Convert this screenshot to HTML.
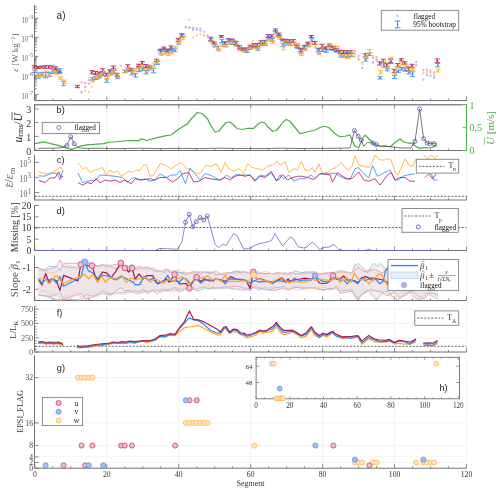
<!DOCTYPE html>
<html><head><meta charset="utf-8"><style>
html,body{margin:0;padding:0;background:#fff;}
svg{display:block;will-change:transform;}
</style></head><body>
<svg width="500" height="493" viewBox="0 0 500 493">
<rect width="500" height="493" fill="#fff"/>
<line x1="34.50" y1="5.10" x2="34.50" y2="100.50" stroke="#707070" stroke-width="1" />
<line x1="34.50" y1="100.50" x2="466.50" y2="100.50" stroke="#707070" stroke-width="1" />
<line x1="34.80" y1="100.50" x2="34.80" y2="96.50" stroke="#707070" stroke-width="0.8" />
<line x1="52.79" y1="100.50" x2="52.79" y2="98.50" stroke="#707070" stroke-width="0.8" />
<line x1="70.78" y1="100.50" x2="70.78" y2="98.50" stroke="#707070" stroke-width="0.8" />
<line x1="88.76" y1="100.50" x2="88.76" y2="98.50" stroke="#707070" stroke-width="0.8" />
<line x1="106.75" y1="100.50" x2="106.75" y2="96.50" stroke="#707070" stroke-width="0.8" />
<line x1="124.74" y1="100.50" x2="124.74" y2="98.50" stroke="#707070" stroke-width="0.8" />
<line x1="142.73" y1="100.50" x2="142.73" y2="98.50" stroke="#707070" stroke-width="0.8" />
<line x1="160.71" y1="100.50" x2="160.71" y2="98.50" stroke="#707070" stroke-width="0.8" />
<line x1="178.70" y1="100.50" x2="178.70" y2="96.50" stroke="#707070" stroke-width="0.8" />
<line x1="196.69" y1="100.50" x2="196.69" y2="98.50" stroke="#707070" stroke-width="0.8" />
<line x1="214.68" y1="100.50" x2="214.68" y2="98.50" stroke="#707070" stroke-width="0.8" />
<line x1="232.66" y1="100.50" x2="232.66" y2="98.50" stroke="#707070" stroke-width="0.8" />
<line x1="250.65" y1="100.50" x2="250.65" y2="96.50" stroke="#707070" stroke-width="0.8" />
<line x1="268.64" y1="100.50" x2="268.64" y2="98.50" stroke="#707070" stroke-width="0.8" />
<line x1="286.62" y1="100.50" x2="286.62" y2="98.50" stroke="#707070" stroke-width="0.8" />
<line x1="304.61" y1="100.50" x2="304.61" y2="98.50" stroke="#707070" stroke-width="0.8" />
<line x1="322.60" y1="100.50" x2="322.60" y2="96.50" stroke="#707070" stroke-width="0.8" />
<line x1="340.59" y1="100.50" x2="340.59" y2="98.50" stroke="#707070" stroke-width="0.8" />
<line x1="358.58" y1="100.50" x2="358.58" y2="98.50" stroke="#707070" stroke-width="0.8" />
<line x1="376.56" y1="100.50" x2="376.56" y2="98.50" stroke="#707070" stroke-width="0.8" />
<line x1="394.55" y1="100.50" x2="394.55" y2="96.50" stroke="#707070" stroke-width="0.8" />
<line x1="412.54" y1="100.50" x2="412.54" y2="98.50" stroke="#707070" stroke-width="0.8" />
<line x1="430.53" y1="100.50" x2="430.53" y2="98.50" stroke="#707070" stroke-width="0.8" />
<line x1="448.51" y1="100.50" x2="448.51" y2="98.50" stroke="#707070" stroke-width="0.8" />
<line x1="466.50" y1="100.50" x2="466.50" y2="96.50" stroke="#707070" stroke-width="0.8" />
<line x1="34.50" y1="100.23" x2="36.80" y2="100.23" stroke="#707070" stroke-width="0.8" />
<line x1="34.50" y1="98.73" x2="36.80" y2="98.73" stroke="#707070" stroke-width="0.8" />
<line x1="34.50" y1="97.45" x2="36.80" y2="97.45" stroke="#707070" stroke-width="0.8" />
<line x1="34.50" y1="96.35" x2="36.80" y2="96.35" stroke="#707070" stroke-width="0.8" />
<line x1="34.50" y1="95.37" x2="36.80" y2="95.37" stroke="#707070" stroke-width="0.8" />
<line x1="34.50" y1="94.50" x2="38.70" y2="94.50" stroke="#707070" stroke-width="0.8" />
<line x1="34.50" y1="88.77" x2="36.80" y2="88.77" stroke="#707070" stroke-width="0.8" />
<line x1="34.50" y1="85.41" x2="36.80" y2="85.41" stroke="#707070" stroke-width="0.8" />
<line x1="34.50" y1="83.03" x2="36.80" y2="83.03" stroke="#707070" stroke-width="0.8" />
<line x1="34.50" y1="81.18" x2="36.80" y2="81.18" stroke="#707070" stroke-width="0.8" />
<line x1="34.50" y1="79.68" x2="36.80" y2="79.68" stroke="#707070" stroke-width="0.8" />
<line x1="34.50" y1="78.40" x2="36.80" y2="78.40" stroke="#707070" stroke-width="0.8" />
<line x1="34.50" y1="77.30" x2="36.80" y2="77.30" stroke="#707070" stroke-width="0.8" />
<line x1="34.50" y1="76.32" x2="36.80" y2="76.32" stroke="#707070" stroke-width="0.8" />
<line x1="34.50" y1="75.45" x2="38.70" y2="75.45" stroke="#707070" stroke-width="0.8" />
<line x1="34.50" y1="69.72" x2="36.80" y2="69.72" stroke="#707070" stroke-width="0.8" />
<line x1="34.50" y1="66.36" x2="36.80" y2="66.36" stroke="#707070" stroke-width="0.8" />
<line x1="34.50" y1="63.98" x2="36.80" y2="63.98" stroke="#707070" stroke-width="0.8" />
<line x1="34.50" y1="62.13" x2="36.80" y2="62.13" stroke="#707070" stroke-width="0.8" />
<line x1="34.50" y1="60.63" x2="36.80" y2="60.63" stroke="#707070" stroke-width="0.8" />
<line x1="34.50" y1="59.35" x2="36.80" y2="59.35" stroke="#707070" stroke-width="0.8" />
<line x1="34.50" y1="58.25" x2="36.80" y2="58.25" stroke="#707070" stroke-width="0.8" />
<line x1="34.50" y1="57.27" x2="36.80" y2="57.27" stroke="#707070" stroke-width="0.8" />
<line x1="34.50" y1="56.40" x2="38.70" y2="56.40" stroke="#707070" stroke-width="0.8" />
<line x1="34.50" y1="50.67" x2="36.80" y2="50.67" stroke="#707070" stroke-width="0.8" />
<line x1="34.50" y1="47.31" x2="36.80" y2="47.31" stroke="#707070" stroke-width="0.8" />
<line x1="34.50" y1="44.93" x2="36.80" y2="44.93" stroke="#707070" stroke-width="0.8" />
<line x1="34.50" y1="43.08" x2="36.80" y2="43.08" stroke="#707070" stroke-width="0.8" />
<line x1="34.50" y1="41.58" x2="36.80" y2="41.58" stroke="#707070" stroke-width="0.8" />
<line x1="34.50" y1="40.30" x2="36.80" y2="40.30" stroke="#707070" stroke-width="0.8" />
<line x1="34.50" y1="39.20" x2="36.80" y2="39.20" stroke="#707070" stroke-width="0.8" />
<line x1="34.50" y1="38.22" x2="36.80" y2="38.22" stroke="#707070" stroke-width="0.8" />
<line x1="34.50" y1="37.35" x2="38.70" y2="37.35" stroke="#707070" stroke-width="0.8" />
<line x1="34.50" y1="31.62" x2="36.80" y2="31.62" stroke="#707070" stroke-width="0.8" />
<line x1="34.50" y1="28.26" x2="36.80" y2="28.26" stroke="#707070" stroke-width="0.8" />
<line x1="34.50" y1="25.88" x2="36.80" y2="25.88" stroke="#707070" stroke-width="0.8" />
<line x1="34.50" y1="24.03" x2="36.80" y2="24.03" stroke="#707070" stroke-width="0.8" />
<line x1="34.50" y1="22.53" x2="36.80" y2="22.53" stroke="#707070" stroke-width="0.8" />
<line x1="34.50" y1="21.25" x2="36.80" y2="21.25" stroke="#707070" stroke-width="0.8" />
<line x1="34.50" y1="20.15" x2="36.80" y2="20.15" stroke="#707070" stroke-width="0.8" />
<line x1="34.50" y1="19.17" x2="36.80" y2="19.17" stroke="#707070" stroke-width="0.8" />
<line x1="34.50" y1="18.30" x2="38.70" y2="18.30" stroke="#707070" stroke-width="0.8" />
<line x1="34.50" y1="12.57" x2="36.80" y2="12.57" stroke="#707070" stroke-width="0.8" />
<line x1="34.50" y1="9.21" x2="36.80" y2="9.21" stroke="#707070" stroke-width="0.8" />
<line x1="34.50" y1="6.83" x2="36.80" y2="6.83" stroke="#707070" stroke-width="0.8" />
<text x="28.10" y="22.50" font-family="Liberation Serif" font-size="8.8" text-anchor="end" fill="#666" textLength="6.6" lengthAdjust="spacingAndGlyphs">10</text>
<text x="28.40" y="18.70" font-family="Liberation Serif" font-size="5.8" text-anchor="start" fill="#666" >-3</text>
<text x="28.10" y="41.55" font-family="Liberation Serif" font-size="8.8" text-anchor="end" fill="#666" textLength="6.6" lengthAdjust="spacingAndGlyphs">10</text>
<text x="28.40" y="37.75" font-family="Liberation Serif" font-size="5.8" text-anchor="start" fill="#666" >-4</text>
<text x="28.10" y="60.60" font-family="Liberation Serif" font-size="8.8" text-anchor="end" fill="#666" textLength="6.6" lengthAdjust="spacingAndGlyphs">10</text>
<text x="28.40" y="56.80" font-family="Liberation Serif" font-size="5.8" text-anchor="start" fill="#666" >-5</text>
<text x="28.10" y="79.65" font-family="Liberation Serif" font-size="8.8" text-anchor="end" fill="#666" textLength="6.6" lengthAdjust="spacingAndGlyphs">10</text>
<text x="28.40" y="75.85" font-family="Liberation Serif" font-size="5.8" text-anchor="start" fill="#666" >-6</text>
<text x="28.10" y="98.70" font-family="Liberation Serif" font-size="8.8" text-anchor="end" fill="#666" textLength="6.6" lengthAdjust="spacingAndGlyphs">10</text>
<text x="28.40" y="94.90" font-family="Liberation Serif" font-size="5.8" text-anchor="start" fill="#666" >-7</text>
<g stroke="#A8195A" stroke-width="0.8"><line x1="34.30" y1="65.61" x2="34.30" y2="67.99"/><line x1="31.70" y1="65.61" x2="36.90" y2="65.61"/><line x1="31.70" y1="67.99" x2="36.90" y2="67.99"/></g>
<circle cx="34.30" cy="66.80" r="0.85" fill="#A8195A"/>
<g stroke="#3388EE" stroke-width="0.8"><line x1="34.80" y1="69.99" x2="34.80" y2="72.41"/><line x1="32.20" y1="69.99" x2="37.40" y2="69.99"/><line x1="32.20" y1="72.41" x2="37.40" y2="72.41"/></g>
<circle cx="34.80" cy="71.20" r="0.85" fill="#3388EE"/>
<g stroke="#FFAA22" stroke-width="0.8"><line x1="35.30" y1="68.31" x2="35.30" y2="71.29"/><line x1="32.70" y1="68.31" x2="37.90" y2="68.31"/><line x1="32.70" y1="71.29" x2="37.90" y2="71.29"/></g>
<circle cx="35.30" cy="69.80" r="0.85" fill="#FFAA22"/>
<g stroke="#A8195A" stroke-width="0.8"><line x1="37.90" y1="66.53" x2="37.90" y2="68.47"/><line x1="35.30" y1="66.53" x2="40.50" y2="66.53"/><line x1="35.30" y1="68.47" x2="40.50" y2="68.47"/></g>
<circle cx="37.90" cy="67.50" r="0.85" fill="#A8195A"/>
<g stroke="#3388EE" stroke-width="0.8"><line x1="38.40" y1="73.00" x2="38.40" y2="78.20"/><line x1="35.80" y1="73.00" x2="41.00" y2="73.00"/><line x1="35.80" y1="78.20" x2="41.00" y2="78.20"/></g>
<circle cx="38.40" cy="75.60" r="0.85" fill="#3388EE"/>
<g stroke="#FFAA22" stroke-width="0.8"><line x1="38.90" y1="74.97" x2="38.90" y2="77.43"/><line x1="36.30" y1="74.97" x2="41.50" y2="74.97"/><line x1="36.30" y1="77.43" x2="41.50" y2="77.43"/></g>
<circle cx="38.90" cy="76.20" r="0.85" fill="#FFAA22"/>
<g stroke="#A8195A" stroke-width="0.8"><line x1="41.49" y1="66.05" x2="41.49" y2="67.95"/><line x1="38.89" y1="66.05" x2="44.09" y2="66.05"/><line x1="38.89" y1="67.95" x2="44.09" y2="67.95"/></g>
<circle cx="41.49" cy="67.00" r="0.85" fill="#A8195A"/>
<g stroke="#3388EE" stroke-width="0.8"><line x1="41.99" y1="72.29" x2="41.99" y2="75.71"/><line x1="39.39" y1="72.29" x2="44.59" y2="72.29"/><line x1="39.39" y1="75.71" x2="44.59" y2="75.71"/></g>
<circle cx="41.99" cy="74.00" r="0.85" fill="#3388EE"/>
<g stroke="#FFAA22" stroke-width="0.8"><line x1="42.49" y1="75.07" x2="42.49" y2="76.93"/><line x1="39.89" y1="75.07" x2="45.09" y2="75.07"/><line x1="39.89" y1="76.93" x2="45.09" y2="76.93"/></g>
<circle cx="42.49" cy="76.00" r="0.85" fill="#FFAA22"/>
<g stroke="#A8195A" stroke-width="0.8"><line x1="45.09" y1="65.71" x2="45.09" y2="68.29"/><line x1="42.49" y1="65.71" x2="47.69" y2="65.71"/><line x1="42.49" y1="68.29" x2="47.69" y2="68.29"/></g>
<circle cx="45.09" cy="67.00" r="0.85" fill="#A8195A"/>
<g stroke="#3388EE" stroke-width="0.8"><line x1="45.59" y1="72.60" x2="45.59" y2="77.80"/><line x1="42.99" y1="72.60" x2="48.19" y2="72.60"/><line x1="42.99" y1="77.80" x2="48.19" y2="77.80"/></g>
<circle cx="45.59" cy="75.20" r="0.85" fill="#3388EE"/>
<g stroke="#FFAA22" stroke-width="0.8"><line x1="46.09" y1="71.02" x2="46.09" y2="72.98"/><line x1="43.49" y1="71.02" x2="48.69" y2="71.02"/><line x1="43.49" y1="72.98" x2="48.69" y2="72.98"/></g>
<circle cx="46.09" cy="72.00" r="0.85" fill="#FFAA22"/>
<g stroke="#A8195A" stroke-width="0.8"><line x1="48.69" y1="65.72" x2="48.69" y2="68.28"/><line x1="46.09" y1="65.72" x2="51.29" y2="65.72"/><line x1="46.09" y1="68.28" x2="51.29" y2="68.28"/></g>
<circle cx="48.69" cy="67.00" r="0.85" fill="#A8195A"/>
<g stroke="#3388EE" stroke-width="0.8"><line x1="49.19" y1="72.24" x2="49.19" y2="76.56"/><line x1="46.59" y1="72.24" x2="51.79" y2="72.24"/><line x1="46.59" y1="76.56" x2="51.79" y2="76.56"/></g>
<circle cx="49.19" cy="74.40" r="0.85" fill="#3388EE"/>
<g stroke="#FFAA22" stroke-width="0.8"><line x1="49.69" y1="73.99" x2="49.69" y2="76.01"/><line x1="47.09" y1="73.99" x2="52.29" y2="73.99"/><line x1="47.09" y1="76.01" x2="52.29" y2="76.01"/></g>
<circle cx="49.69" cy="75.00" r="0.85" fill="#FFAA22"/>
<g stroke="#A8195A" stroke-width="0.8"><line x1="52.29" y1="65.90" x2="52.29" y2="68.10"/><line x1="49.69" y1="65.90" x2="54.89" y2="65.90"/><line x1="49.69" y1="68.10" x2="54.89" y2="68.10"/></g>
<circle cx="52.29" cy="67.00" r="0.85" fill="#A8195A"/>
<g stroke="#3388EE" stroke-width="0.8"><line x1="52.79" y1="69.62" x2="52.79" y2="73.38"/><line x1="50.19" y1="69.62" x2="55.39" y2="69.62"/><line x1="50.19" y1="73.38" x2="55.39" y2="73.38"/></g>
<circle cx="52.79" cy="71.50" r="0.85" fill="#3388EE"/>
<g stroke="#FFAA22" stroke-width="0.8"><line x1="53.29" y1="67.75" x2="53.29" y2="71.25"/><line x1="50.69" y1="67.75" x2="55.89" y2="67.75"/><line x1="50.69" y1="71.25" x2="55.89" y2="71.25"/></g>
<circle cx="53.29" cy="69.50" r="0.85" fill="#FFAA22"/>
<g stroke="#A8195A" stroke-width="0.8"><line x1="55.88" y1="66.98" x2="55.88" y2="69.82"/><line x1="53.28" y1="66.98" x2="58.48" y2="66.98"/><line x1="53.28" y1="69.82" x2="58.48" y2="69.82"/></g>
<circle cx="55.88" cy="68.40" r="0.85" fill="#A8195A"/>
<g stroke="#3388EE" stroke-width="0.8"><line x1="56.38" y1="69.24" x2="56.38" y2="72.36"/><line x1="53.78" y1="69.24" x2="58.98" y2="69.24"/><line x1="53.78" y1="72.36" x2="58.98" y2="72.36"/></g>
<circle cx="56.38" cy="70.80" r="0.85" fill="#3388EE"/>
<g stroke="#FFAA22" stroke-width="0.8"><line x1="56.88" y1="70.72" x2="56.88" y2="74.28"/><line x1="54.28" y1="70.72" x2="59.48" y2="70.72"/><line x1="54.28" y1="74.28" x2="59.48" y2="74.28"/></g>
<circle cx="56.88" cy="72.50" r="0.85" fill="#FFAA22"/>
<g stroke="#A8195A" stroke-width="0.8"><line x1="59.48" y1="71.06" x2="59.48" y2="72.94"/><line x1="56.88" y1="71.06" x2="62.08" y2="71.06"/><line x1="56.88" y1="72.94" x2="62.08" y2="72.94"/></g>
<circle cx="59.48" cy="72.00" r="0.85" fill="#A8195A"/>
<g stroke="#3388EE" stroke-width="0.8"><line x1="59.98" y1="68.60" x2="59.98" y2="73.00"/><line x1="57.38" y1="68.60" x2="62.58" y2="68.60"/><line x1="57.38" y1="73.00" x2="62.58" y2="73.00"/></g>
<circle cx="59.98" cy="70.80" r="0.85" fill="#3388EE"/>
<g stroke="#FFAA22" stroke-width="0.8"><line x1="60.48" y1="76.84" x2="60.48" y2="79.16"/><line x1="57.88" y1="76.84" x2="63.08" y2="76.84"/><line x1="57.88" y1="79.16" x2="63.08" y2="79.16"/></g>
<circle cx="60.48" cy="78.00" r="0.85" fill="#FFAA22"/>
<g stroke="#3388EE" stroke-width="0.8"><line x1="63.58" y1="81.30" x2="63.58" y2="85.70"/><line x1="60.98" y1="81.30" x2="66.18" y2="81.30"/><line x1="60.98" y1="85.70" x2="66.18" y2="85.70"/></g>
<circle cx="63.58" cy="83.50" r="0.85" fill="#3388EE"/>
<g stroke="#FFAA22" stroke-width="0.8"><line x1="64.08" y1="80.00" x2="64.08" y2="83.20"/><line x1="61.48" y1="80.00" x2="66.68" y2="80.00"/><line x1="61.48" y1="83.20" x2="66.68" y2="83.20"/></g>
<circle cx="64.08" cy="81.60" r="0.85" fill="#FFAA22"/>
<g stroke="#A8195A" stroke-width="0.8"><line x1="77.47" y1="85.32" x2="77.47" y2="87.68"/><line x1="74.87" y1="85.32" x2="80.07" y2="85.32"/><line x1="74.87" y1="87.68" x2="80.07" y2="87.68"/></g>
<circle cx="77.47" cy="86.50" r="0.85" fill="#A8195A"/>
<g stroke="#A8195A" stroke-width="0.8"><line x1="91.86" y1="70.57" x2="91.86" y2="73.83"/><line x1="89.26" y1="70.57" x2="94.46" y2="70.57"/><line x1="89.26" y1="73.83" x2="94.46" y2="73.83"/></g>
<circle cx="91.86" cy="72.20" r="0.85" fill="#A8195A"/>
<g stroke="#3388EE" stroke-width="0.8"><line x1="92.36" y1="77.75" x2="92.36" y2="80.25"/><line x1="89.76" y1="77.75" x2="94.96" y2="77.75"/><line x1="89.76" y1="80.25" x2="94.96" y2="80.25"/></g>
<circle cx="92.36" cy="79.00" r="0.85" fill="#3388EE"/>
<g stroke="#FFAA22" stroke-width="0.8"><line x1="92.86" y1="79.28" x2="92.86" y2="82.12"/><line x1="90.26" y1="79.28" x2="95.46" y2="79.28"/><line x1="90.26" y1="82.12" x2="95.46" y2="82.12"/></g>
<circle cx="92.86" cy="80.70" r="0.85" fill="#FFAA22"/>
<g stroke="#A8195A" stroke-width="0.8"><line x1="95.46" y1="71.52" x2="95.46" y2="74.48"/><line x1="92.86" y1="71.52" x2="98.06" y2="71.52"/><line x1="92.86" y1="74.48" x2="98.06" y2="74.48"/></g>
<circle cx="95.46" cy="73.00" r="0.85" fill="#A8195A"/>
<g stroke="#3388EE" stroke-width="0.8"><line x1="95.96" y1="76.48" x2="95.96" y2="79.52"/><line x1="93.36" y1="76.48" x2="98.56" y2="76.48"/><line x1="93.36" y1="79.52" x2="98.56" y2="79.52"/></g>
<circle cx="95.96" cy="78.00" r="0.85" fill="#3388EE"/>
<g stroke="#FFAA22" stroke-width="0.8"><line x1="96.46" y1="75.91" x2="96.46" y2="78.69"/><line x1="93.86" y1="75.91" x2="99.06" y2="75.91"/><line x1="93.86" y1="78.69" x2="99.06" y2="78.69"/></g>
<circle cx="96.46" cy="77.30" r="0.85" fill="#FFAA22"/>
<g stroke="#A8195A" stroke-width="0.8"><line x1="99.05" y1="72.04" x2="99.05" y2="73.96"/><line x1="96.45" y1="72.04" x2="101.65" y2="72.04"/><line x1="96.45" y1="73.96" x2="101.65" y2="73.96"/></g>
<circle cx="99.05" cy="73.00" r="0.85" fill="#A8195A"/>
<g stroke="#3388EE" stroke-width="0.8"><line x1="99.55" y1="75.92" x2="99.55" y2="78.08"/><line x1="96.95" y1="75.92" x2="102.15" y2="75.92"/><line x1="96.95" y1="78.08" x2="102.15" y2="78.08"/></g>
<circle cx="99.55" cy="77.00" r="0.85" fill="#3388EE"/>
<g stroke="#FFAA22" stroke-width="0.8"><line x1="100.05" y1="74.41" x2="100.05" y2="76.59"/><line x1="97.45" y1="74.41" x2="102.65" y2="74.41"/><line x1="97.45" y1="76.59" x2="102.65" y2="76.59"/></g>
<circle cx="100.05" cy="75.50" r="0.85" fill="#FFAA22"/>
<g stroke="#A8195A" stroke-width="0.8"><line x1="102.65" y1="68.69" x2="102.65" y2="71.71"/><line x1="100.05" y1="68.69" x2="105.25" y2="68.69"/><line x1="100.05" y1="71.71" x2="105.25" y2="71.71"/></g>
<circle cx="102.65" cy="70.20" r="0.85" fill="#A8195A"/>
<g stroke="#3388EE" stroke-width="0.8"><line x1="103.15" y1="72.30" x2="103.15" y2="75.50"/><line x1="100.55" y1="72.30" x2="105.75" y2="72.30"/><line x1="100.55" y1="75.50" x2="105.75" y2="75.50"/></g>
<circle cx="103.15" cy="73.90" r="0.85" fill="#3388EE"/>
<g stroke="#FFAA22" stroke-width="0.8"><line x1="103.65" y1="71.02" x2="103.65" y2="73.38"/><line x1="101.05" y1="71.02" x2="106.25" y2="71.02"/><line x1="101.05" y1="73.38" x2="106.25" y2="73.38"/></g>
<circle cx="103.65" cy="72.20" r="0.85" fill="#FFAA22"/>
<g stroke="#A8195A" stroke-width="0.8"><line x1="106.25" y1="73.37" x2="106.25" y2="76.23"/><line x1="103.65" y1="73.37" x2="108.85" y2="73.37"/><line x1="103.65" y1="76.23" x2="108.85" y2="76.23"/></g>
<circle cx="106.25" cy="74.80" r="0.85" fill="#A8195A"/>
<g stroke="#3388EE" stroke-width="0.8"><line x1="106.75" y1="79.07" x2="106.75" y2="82.33"/><line x1="104.15" y1="79.07" x2="109.35" y2="79.07"/><line x1="104.15" y1="82.33" x2="109.35" y2="82.33"/></g>
<circle cx="106.75" cy="80.70" r="0.85" fill="#3388EE"/>
<g stroke="#FFAA22" stroke-width="0.8"><line x1="107.25" y1="76.13" x2="107.25" y2="78.47"/><line x1="104.65" y1="76.13" x2="109.85" y2="76.13"/><line x1="104.65" y1="78.47" x2="109.85" y2="78.47"/></g>
<circle cx="107.25" cy="77.30" r="0.85" fill="#FFAA22"/>
<g stroke="#A8195A" stroke-width="0.8"><line x1="109.85" y1="69.79" x2="109.85" y2="73.01"/><line x1="107.25" y1="69.79" x2="112.45" y2="69.79"/><line x1="107.25" y1="73.01" x2="112.45" y2="73.01"/></g>
<circle cx="109.85" cy="71.40" r="0.85" fill="#A8195A"/>
<g stroke="#3388EE" stroke-width="0.8"><line x1="110.35" y1="71.02" x2="110.35" y2="74.98"/><line x1="107.75" y1="71.02" x2="112.95" y2="71.02"/><line x1="107.75" y1="74.98" x2="112.95" y2="74.98"/></g>
<circle cx="110.35" cy="73.00" r="0.85" fill="#3388EE"/>
<g stroke="#FFAA22" stroke-width="0.8"><line x1="110.85" y1="72.88" x2="110.85" y2="75.12"/><line x1="108.25" y1="72.88" x2="113.45" y2="72.88"/><line x1="108.25" y1="75.12" x2="113.45" y2="75.12"/></g>
<circle cx="110.85" cy="74.00" r="0.85" fill="#FFAA22"/>
<g stroke="#A8195A" stroke-width="0.8"><line x1="113.45" y1="65.98" x2="113.45" y2="68.82"/><line x1="110.85" y1="65.98" x2="116.05" y2="65.98"/><line x1="110.85" y1="68.82" x2="116.05" y2="68.82"/></g>
<circle cx="113.45" cy="67.40" r="0.85" fill="#A8195A"/>
<g stroke="#3388EE" stroke-width="0.8"><line x1="113.95" y1="70.46" x2="113.95" y2="73.94"/><line x1="111.35" y1="70.46" x2="116.55" y2="70.46"/><line x1="111.35" y1="73.94" x2="116.55" y2="73.94"/></g>
<circle cx="113.95" cy="72.20" r="0.85" fill="#3388EE"/>
<g stroke="#FFAA22" stroke-width="0.8"><line x1="114.45" y1="69.71" x2="114.45" y2="73.09"/><line x1="111.85" y1="69.71" x2="117.05" y2="69.71"/><line x1="111.85" y1="73.09" x2="117.05" y2="73.09"/></g>
<circle cx="114.45" cy="71.40" r="0.85" fill="#FFAA22"/>
<g stroke="#A8195A" stroke-width="0.8"><line x1="117.04" y1="73.24" x2="117.04" y2="76.36"/><line x1="114.44" y1="73.24" x2="119.64" y2="73.24"/><line x1="114.44" y1="76.36" x2="119.64" y2="76.36"/></g>
<circle cx="117.04" cy="74.80" r="0.85" fill="#A8195A"/>
<g stroke="#3388EE" stroke-width="0.8"><line x1="117.54" y1="75.90" x2="117.54" y2="78.70"/><line x1="114.94" y1="75.90" x2="120.14" y2="75.90"/><line x1="114.94" y1="78.70" x2="120.14" y2="78.70"/></g>
<circle cx="117.54" cy="77.30" r="0.85" fill="#3388EE"/>
<g stroke="#FFAA22" stroke-width="0.8"><line x1="118.04" y1="73.82" x2="118.04" y2="77.38"/><line x1="115.44" y1="73.82" x2="120.64" y2="73.82"/><line x1="115.44" y1="77.38" x2="120.64" y2="77.38"/></g>
<circle cx="118.04" cy="75.60" r="0.85" fill="#FFAA22"/>
<g stroke="#3388EE" stroke-width="0.8"><line x1="124.74" y1="70.23" x2="124.74" y2="72.57"/><line x1="122.14" y1="70.23" x2="127.34" y2="70.23"/><line x1="122.14" y1="72.57" x2="127.34" y2="72.57"/></g>
<circle cx="124.74" cy="71.40" r="0.85" fill="#3388EE"/>
<g stroke="#FFAA22" stroke-width="0.8"><line x1="125.24" y1="70.12" x2="125.24" y2="72.68"/><line x1="122.64" y1="70.12" x2="127.84" y2="70.12"/><line x1="122.64" y1="72.68" x2="127.84" y2="72.68"/></g>
<circle cx="125.24" cy="71.40" r="0.85" fill="#FFAA22"/>
<g stroke="#A8195A" stroke-width="0.8"><line x1="127.83" y1="64.72" x2="127.83" y2="67.88"/><line x1="125.23" y1="64.72" x2="130.43" y2="64.72"/><line x1="125.23" y1="67.88" x2="130.43" y2="67.88"/></g>
<circle cx="127.83" cy="66.30" r="0.85" fill="#A8195A"/>
<g stroke="#3388EE" stroke-width="0.8"><line x1="128.33" y1="69.29" x2="128.33" y2="71.71"/><line x1="125.73" y1="69.29" x2="130.93" y2="69.29"/><line x1="125.73" y1="71.71" x2="130.93" y2="71.71"/></g>
<circle cx="128.33" cy="70.50" r="0.85" fill="#3388EE"/>
<g stroke="#FFAA22" stroke-width="0.8"><line x1="128.83" y1="67.46" x2="128.83" y2="70.14"/><line x1="126.23" y1="67.46" x2="131.43" y2="67.46"/><line x1="126.23" y1="70.14" x2="131.43" y2="70.14"/></g>
<circle cx="128.83" cy="68.80" r="0.85" fill="#FFAA22"/>
<g stroke="#A8195A" stroke-width="0.8"><line x1="131.43" y1="68.76" x2="131.43" y2="70.64"/><line x1="128.83" y1="68.76" x2="134.03" y2="68.76"/><line x1="128.83" y1="70.64" x2="134.03" y2="70.64"/></g>
<circle cx="131.43" cy="69.70" r="0.85" fill="#A8195A"/>
<g stroke="#3388EE" stroke-width="0.8"><line x1="131.93" y1="71.06" x2="131.93" y2="74.94"/><line x1="129.33" y1="71.06" x2="134.53" y2="71.06"/><line x1="129.33" y1="74.94" x2="134.53" y2="74.94"/></g>
<circle cx="131.93" cy="73.00" r="0.85" fill="#3388EE"/>
<g stroke="#FFAA22" stroke-width="0.8"><line x1="132.43" y1="69.81" x2="132.43" y2="72.99"/><line x1="129.83" y1="69.81" x2="135.03" y2="69.81"/><line x1="129.83" y1="72.99" x2="135.03" y2="72.99"/></g>
<circle cx="132.43" cy="71.40" r="0.85" fill="#FFAA22"/>
<g stroke="#3388EE" stroke-width="0.8"><line x1="135.53" y1="73.50" x2="135.53" y2="77.10"/><line x1="132.93" y1="73.50" x2="138.13" y2="73.50"/><line x1="132.93" y1="77.10" x2="138.13" y2="77.10"/></g>
<circle cx="135.53" cy="75.30" r="0.85" fill="#3388EE"/>
<g stroke="#FFAA22" stroke-width="0.8"><line x1="136.03" y1="68.01" x2="136.03" y2="71.39"/><line x1="133.43" y1="68.01" x2="138.63" y2="68.01"/><line x1="133.43" y1="71.39" x2="138.63" y2="71.39"/></g>
<circle cx="136.03" cy="69.70" r="0.85" fill="#FFAA22"/>
<g stroke="#A8195A" stroke-width="0.8"><line x1="138.63" y1="64.22" x2="138.63" y2="66.58"/><line x1="136.03" y1="64.22" x2="141.23" y2="64.22"/><line x1="136.03" y1="66.58" x2="141.23" y2="66.58"/></g>
<circle cx="138.63" cy="65.40" r="0.85" fill="#A8195A"/>
<g stroke="#3388EE" stroke-width="0.8"><line x1="139.13" y1="67.73" x2="139.13" y2="71.67"/><line x1="136.53" y1="67.73" x2="141.73" y2="67.73"/><line x1="136.53" y1="71.67" x2="141.73" y2="71.67"/></g>
<circle cx="139.13" cy="69.70" r="0.85" fill="#3388EE"/>
<g stroke="#FFAA22" stroke-width="0.8"><line x1="139.63" y1="65.67" x2="139.63" y2="68.53"/><line x1="137.03" y1="65.67" x2="142.23" y2="65.67"/><line x1="137.03" y1="68.53" x2="142.23" y2="68.53"/></g>
<circle cx="139.63" cy="67.10" r="0.85" fill="#FFAA22"/>
<g stroke="#A8195A" stroke-width="0.8"><line x1="142.23" y1="61.48" x2="142.23" y2="64.32"/><line x1="139.63" y1="61.48" x2="144.83" y2="61.48"/><line x1="139.63" y1="64.32" x2="144.83" y2="64.32"/></g>
<circle cx="142.23" cy="62.90" r="0.85" fill="#A8195A"/>
<g stroke="#3388EE" stroke-width="0.8"><line x1="142.73" y1="67.16" x2="142.73" y2="70.44"/><line x1="140.13" y1="67.16" x2="145.33" y2="67.16"/><line x1="140.13" y1="70.44" x2="145.33" y2="70.44"/></g>
<circle cx="142.73" cy="68.80" r="0.85" fill="#3388EE"/>
<g stroke="#FFAA22" stroke-width="0.8"><line x1="143.23" y1="64.64" x2="143.23" y2="67.96"/><line x1="140.63" y1="64.64" x2="145.83" y2="64.64"/><line x1="140.63" y1="67.96" x2="145.83" y2="67.96"/></g>
<circle cx="143.23" cy="66.30" r="0.85" fill="#FFAA22"/>
<g stroke="#A8195A" stroke-width="0.8"><line x1="145.82" y1="64.55" x2="145.82" y2="68.05"/><line x1="143.22" y1="64.55" x2="148.42" y2="64.55"/><line x1="143.22" y1="68.05" x2="148.42" y2="68.05"/></g>
<circle cx="145.82" cy="66.30" r="0.85" fill="#A8195A"/>
<g stroke="#3388EE" stroke-width="0.8"><line x1="146.32" y1="70.54" x2="146.32" y2="73.86"/><line x1="143.72" y1="70.54" x2="148.92" y2="70.54"/><line x1="143.72" y1="73.86" x2="148.92" y2="73.86"/></g>
<circle cx="146.32" cy="72.20" r="0.85" fill="#3388EE"/>
<g stroke="#FFAA22" stroke-width="0.8"><line x1="146.82" y1="69.00" x2="146.82" y2="72.00"/><line x1="144.22" y1="69.00" x2="149.42" y2="69.00"/><line x1="144.22" y1="72.00" x2="149.42" y2="72.00"/></g>
<circle cx="146.82" cy="70.50" r="0.85" fill="#FFAA22"/>
<g stroke="#A8195A" stroke-width="0.8"><line x1="149.42" y1="65.35" x2="149.42" y2="67.25"/><line x1="146.82" y1="65.35" x2="152.02" y2="65.35"/><line x1="146.82" y1="67.25" x2="152.02" y2="67.25"/></g>
<circle cx="149.42" cy="66.30" r="0.85" fill="#A8195A"/>
<g stroke="#3388EE" stroke-width="0.8"><line x1="149.92" y1="66.02" x2="149.92" y2="69.98"/><line x1="147.32" y1="66.02" x2="152.52" y2="66.02"/><line x1="147.32" y1="69.98" x2="152.52" y2="69.98"/></g>
<circle cx="149.92" cy="68.00" r="0.85" fill="#3388EE"/>
<g stroke="#FFAA22" stroke-width="0.8"><line x1="150.42" y1="65.62" x2="150.42" y2="68.58"/><line x1="147.82" y1="65.62" x2="153.02" y2="65.62"/><line x1="147.82" y1="68.58" x2="153.02" y2="68.58"/></g>
<circle cx="150.42" cy="67.10" r="0.85" fill="#FFAA22"/>
<g stroke="#3388EE" stroke-width="0.8"><line x1="153.52" y1="68.11" x2="153.52" y2="72.89"/><line x1="150.92" y1="68.11" x2="156.12" y2="68.11"/><line x1="150.92" y1="72.89" x2="156.12" y2="72.89"/></g>
<circle cx="153.52" cy="70.50" r="0.85" fill="#3388EE"/>
<g stroke="#FFAA22" stroke-width="0.8"><line x1="154.02" y1="62.96" x2="154.02" y2="66.24"/><line x1="151.42" y1="62.96" x2="156.62" y2="62.96"/><line x1="151.42" y1="66.24" x2="156.62" y2="66.24"/></g>
<circle cx="154.02" cy="64.60" r="0.85" fill="#FFAA22"/>
<g stroke="#A8195A" stroke-width="0.8"><line x1="156.62" y1="59.14" x2="156.62" y2="61.46"/><line x1="154.02" y1="59.14" x2="159.22" y2="59.14"/><line x1="154.02" y1="61.46" x2="159.22" y2="61.46"/></g>
<circle cx="156.62" cy="60.30" r="0.85" fill="#A8195A"/>
<g stroke="#3388EE" stroke-width="0.8"><line x1="157.12" y1="61.36" x2="157.12" y2="64.44"/><line x1="154.52" y1="61.36" x2="159.72" y2="61.36"/><line x1="154.52" y1="64.44" x2="159.72" y2="64.44"/></g>
<circle cx="157.12" cy="62.90" r="0.85" fill="#3388EE"/>
<g stroke="#FFAA22" stroke-width="0.8"><line x1="157.62" y1="60.50" x2="157.62" y2="63.50"/><line x1="155.02" y1="60.50" x2="160.22" y2="60.50"/><line x1="155.02" y1="63.50" x2="160.22" y2="63.50"/></g>
<circle cx="157.62" cy="62.00" r="0.85" fill="#FFAA22"/>
<g stroke="#A8195A" stroke-width="0.8"><line x1="160.21" y1="49.18" x2="160.21" y2="51.02"/><line x1="157.61" y1="49.18" x2="162.81" y2="49.18"/><line x1="157.61" y1="51.02" x2="162.81" y2="51.02"/></g>
<circle cx="160.21" cy="50.10" r="0.85" fill="#A8195A"/>
<g stroke="#3388EE" stroke-width="0.8"><line x1="160.71" y1="50.15" x2="160.71" y2="53.45"/><line x1="158.11" y1="50.15" x2="163.31" y2="50.15"/><line x1="158.11" y1="53.45" x2="163.31" y2="53.45"/></g>
<circle cx="160.71" cy="51.80" r="0.85" fill="#3388EE"/>
<g stroke="#FFAA22" stroke-width="0.8"><line x1="161.21" y1="53.35" x2="161.21" y2="55.45"/><line x1="158.61" y1="53.35" x2="163.81" y2="53.35"/><line x1="158.61" y1="55.45" x2="163.81" y2="55.45"/></g>
<circle cx="161.21" cy="54.40" r="0.85" fill="#FFAA22"/>
<g stroke="#A8195A" stroke-width="0.8"><line x1="163.81" y1="46.99" x2="163.81" y2="49.01"/><line x1="161.21" y1="46.99" x2="166.41" y2="46.99"/><line x1="161.21" y1="49.01" x2="166.41" y2="49.01"/></g>
<circle cx="163.81" cy="48.00" r="0.85" fill="#A8195A"/>
<g stroke="#3388EE" stroke-width="0.8"><line x1="164.31" y1="49.32" x2="164.31" y2="51.48"/><line x1="161.71" y1="49.32" x2="166.91" y2="49.32"/><line x1="161.71" y1="51.48" x2="166.91" y2="51.48"/></g>
<circle cx="164.31" cy="50.40" r="0.85" fill="#3388EE"/>
<g stroke="#FFAA22" stroke-width="0.8"><line x1="164.81" y1="51.11" x2="164.81" y2="54.29"/><line x1="162.21" y1="51.11" x2="167.41" y2="51.11"/><line x1="162.21" y1="54.29" x2="167.41" y2="54.29"/></g>
<circle cx="164.81" cy="52.70" r="0.85" fill="#FFAA22"/>
<g stroke="#A8195A" stroke-width="0.8"><line x1="167.41" y1="49.08" x2="167.41" y2="51.12"/><line x1="164.81" y1="49.08" x2="170.01" y2="49.08"/><line x1="164.81" y1="51.12" x2="170.01" y2="51.12"/></g>
<circle cx="167.41" cy="50.10" r="0.85" fill="#A8195A"/>
<g stroke="#3388EE" stroke-width="0.8"><line x1="167.91" y1="49.65" x2="167.91" y2="52.35"/><line x1="165.31" y1="49.65" x2="170.51" y2="49.65"/><line x1="165.31" y1="52.35" x2="170.51" y2="52.35"/></g>
<circle cx="167.91" cy="51.00" r="0.85" fill="#3388EE"/>
<g stroke="#FFAA22" stroke-width="0.8"><line x1="168.41" y1="53.15" x2="168.41" y2="55.65"/><line x1="165.81" y1="53.15" x2="171.01" y2="53.15"/><line x1="165.81" y1="55.65" x2="171.01" y2="55.65"/></g>
<circle cx="168.41" cy="54.40" r="0.85" fill="#FFAA22"/>
<g stroke="#A8195A" stroke-width="0.8"><line x1="171.00" y1="45.92" x2="171.00" y2="49.28"/><line x1="168.41" y1="45.92" x2="173.60" y2="45.92"/><line x1="168.41" y1="49.28" x2="173.60" y2="49.28"/></g>
<circle cx="171.00" cy="47.60" r="0.85" fill="#A8195A"/>
<g stroke="#3388EE" stroke-width="0.8"><line x1="171.50" y1="48.19" x2="171.50" y2="50.41"/><line x1="168.91" y1="48.19" x2="174.10" y2="48.19"/><line x1="168.91" y1="50.41" x2="174.10" y2="50.41"/></g>
<circle cx="171.50" cy="49.30" r="0.85" fill="#3388EE"/>
<g stroke="#FFAA22" stroke-width="0.8"><line x1="172.00" y1="51.40" x2="172.00" y2="54.00"/><line x1="169.41" y1="51.40" x2="174.60" y2="51.40"/><line x1="169.41" y1="54.00" x2="174.60" y2="54.00"/></g>
<circle cx="172.00" cy="52.70" r="0.85" fill="#FFAA22"/>
<g stroke="#3388EE" stroke-width="0.8"><line x1="175.10" y1="48.23" x2="175.10" y2="51.77"/><line x1="172.50" y1="48.23" x2="177.70" y2="48.23"/><line x1="172.50" y1="51.77" x2="177.70" y2="51.77"/></g>
<circle cx="175.10" cy="50.00" r="0.85" fill="#3388EE"/>
<g stroke="#FFAA22" stroke-width="0.8"><line x1="175.60" y1="46.30" x2="175.60" y2="49.70"/><line x1="173.00" y1="46.30" x2="178.20" y2="46.30"/><line x1="173.00" y1="49.70" x2="178.20" y2="49.70"/></g>
<circle cx="175.60" cy="48.00" r="0.85" fill="#FFAA22"/>
<g stroke="#A8195A" stroke-width="0.8"><line x1="178.20" y1="38.36" x2="178.20" y2="41.64"/><line x1="175.60" y1="38.36" x2="180.80" y2="38.36"/><line x1="175.60" y1="41.64" x2="180.80" y2="41.64"/></g>
<circle cx="178.20" cy="40.00" r="0.85" fill="#A8195A"/>
<g stroke="#3388EE" stroke-width="0.8"><line x1="178.70" y1="39.79" x2="178.70" y2="44.21"/><line x1="176.10" y1="39.79" x2="181.30" y2="39.79"/><line x1="176.10" y1="44.21" x2="181.30" y2="44.21"/></g>
<circle cx="178.70" cy="42.00" r="0.85" fill="#3388EE"/>
<g stroke="#FFAA22" stroke-width="0.8"><line x1="179.20" y1="40.45" x2="179.20" y2="42.75"/><line x1="176.60" y1="40.45" x2="181.80" y2="40.45"/><line x1="176.60" y1="42.75" x2="181.80" y2="42.75"/></g>
<circle cx="179.20" cy="41.60" r="0.85" fill="#FFAA22"/>
<g stroke="#A8195A" stroke-width="0.8"><line x1="181.80" y1="33.73" x2="181.80" y2="36.27"/><line x1="179.20" y1="33.73" x2="184.40" y2="33.73"/><line x1="179.20" y1="36.27" x2="184.40" y2="36.27"/></g>
<circle cx="181.80" cy="35.00" r="0.85" fill="#A8195A"/>
<g stroke="#3388EE" stroke-width="0.8"><line x1="182.30" y1="34.50" x2="182.30" y2="37.50"/><line x1="179.70" y1="34.50" x2="184.90" y2="34.50"/><line x1="179.70" y1="37.50" x2="184.90" y2="37.50"/></g>
<circle cx="182.30" cy="36.00" r="0.85" fill="#3388EE"/>
<g stroke="#FFAA22" stroke-width="0.8"><line x1="182.80" y1="36.30" x2="182.80" y2="39.70"/><line x1="180.20" y1="36.30" x2="185.40" y2="36.30"/><line x1="180.20" y1="39.70" x2="185.40" y2="39.70"/></g>
<circle cx="182.80" cy="38.00" r="0.85" fill="#FFAA22"/>
<g stroke="#A8195A" stroke-width="0.8"><line x1="210.58" y1="37.24" x2="210.58" y2="40.76"/><line x1="207.98" y1="37.24" x2="213.18" y2="37.24"/><line x1="207.98" y1="40.76" x2="213.18" y2="40.76"/></g>
<circle cx="210.58" cy="39.00" r="0.85" fill="#A8195A"/>
<g stroke="#3388EE" stroke-width="0.8"><line x1="211.08" y1="38.79" x2="211.08" y2="41.21"/><line x1="208.48" y1="38.79" x2="213.68" y2="38.79"/><line x1="208.48" y1="41.21" x2="213.68" y2="41.21"/></g>
<circle cx="211.08" cy="40.00" r="0.85" fill="#3388EE"/>
<g stroke="#FFAA22" stroke-width="0.8"><line x1="211.58" y1="40.94" x2="211.58" y2="43.06"/><line x1="208.98" y1="40.94" x2="214.18" y2="40.94"/><line x1="208.98" y1="43.06" x2="214.18" y2="43.06"/></g>
<circle cx="211.58" cy="42.00" r="0.85" fill="#FFAA22"/>
<g stroke="#A8195A" stroke-width="0.8"><line x1="214.18" y1="41.89" x2="214.18" y2="44.11"/><line x1="211.58" y1="41.89" x2="216.78" y2="41.89"/><line x1="211.58" y1="44.11" x2="216.78" y2="44.11"/></g>
<circle cx="214.18" cy="43.00" r="0.85" fill="#A8195A"/>
<g stroke="#3388EE" stroke-width="0.8"><line x1="214.68" y1="43.67" x2="214.68" y2="46.33"/><line x1="212.08" y1="43.67" x2="217.28" y2="43.67"/><line x1="212.08" y1="46.33" x2="217.28" y2="46.33"/></g>
<circle cx="214.68" cy="45.00" r="0.85" fill="#3388EE"/>
<g stroke="#FFAA22" stroke-width="0.8"><line x1="215.18" y1="44.66" x2="215.18" y2="47.34"/><line x1="212.58" y1="44.66" x2="217.78" y2="44.66"/><line x1="212.58" y1="47.34" x2="217.78" y2="47.34"/></g>
<circle cx="215.18" cy="46.00" r="0.85" fill="#FFAA22"/>
<g stroke="#3388EE" stroke-width="0.8"><line x1="218.27" y1="46.18" x2="218.27" y2="49.82"/><line x1="215.67" y1="46.18" x2="220.87" y2="46.18"/><line x1="215.67" y1="49.82" x2="220.87" y2="49.82"/></g>
<circle cx="218.27" cy="48.00" r="0.85" fill="#3388EE"/>
<g stroke="#FFAA22" stroke-width="0.8"><line x1="218.77" y1="48.86" x2="218.77" y2="51.14"/><line x1="216.17" y1="48.86" x2="221.37" y2="48.86"/><line x1="216.17" y1="51.14" x2="221.37" y2="51.14"/></g>
<circle cx="218.77" cy="50.00" r="0.85" fill="#FFAA22"/>
<g stroke="#A8195A" stroke-width="0.8"><line x1="221.37" y1="35.50" x2="221.37" y2="37.30"/><line x1="218.77" y1="35.50" x2="223.97" y2="35.50"/><line x1="218.77" y1="37.30" x2="223.97" y2="37.30"/></g>
<circle cx="221.37" cy="36.40" r="0.85" fill="#A8195A"/>
<g stroke="#3388EE" stroke-width="0.8"><line x1="221.87" y1="39.41" x2="221.87" y2="42.59"/><line x1="219.27" y1="39.41" x2="224.47" y2="39.41"/><line x1="219.27" y1="42.59" x2="224.47" y2="42.59"/></g>
<circle cx="221.87" cy="41.00" r="0.85" fill="#3388EE"/>
<g stroke="#FFAA22" stroke-width="0.8"><line x1="222.37" y1="43.77" x2="222.37" y2="46.23"/><line x1="219.77" y1="43.77" x2="224.97" y2="43.77"/><line x1="219.77" y1="46.23" x2="224.97" y2="46.23"/></g>
<circle cx="222.37" cy="45.00" r="0.85" fill="#FFAA22"/>
<g stroke="#A8195A" stroke-width="0.8"><line x1="224.97" y1="41.59" x2="224.97" y2="44.41"/><line x1="222.37" y1="41.59" x2="227.57" y2="41.59"/><line x1="222.37" y1="44.41" x2="227.57" y2="44.41"/></g>
<circle cx="224.97" cy="43.00" r="0.85" fill="#A8195A"/>
<g stroke="#3388EE" stroke-width="0.8"><line x1="225.47" y1="41.67" x2="225.47" y2="46.33"/><line x1="222.87" y1="41.67" x2="228.07" y2="41.67"/><line x1="222.87" y1="46.33" x2="228.07" y2="46.33"/></g>
<circle cx="225.47" cy="44.00" r="0.85" fill="#3388EE"/>
<g stroke="#FFAA22" stroke-width="0.8"><line x1="225.97" y1="44.08" x2="225.97" y2="47.12"/><line x1="223.37" y1="44.08" x2="228.57" y2="44.08"/><line x1="223.37" y1="47.12" x2="228.57" y2="47.12"/></g>
<circle cx="225.97" cy="45.60" r="0.85" fill="#FFAA22"/>
<g stroke="#A8195A" stroke-width="0.8"><line x1="228.56" y1="38.64" x2="228.56" y2="41.36"/><line x1="225.97" y1="38.64" x2="231.16" y2="38.64"/><line x1="225.97" y1="41.36" x2="231.16" y2="41.36"/></g>
<circle cx="228.56" cy="40.00" r="0.85" fill="#A8195A"/>
<g stroke="#3388EE" stroke-width="0.8"><line x1="229.06" y1="39.14" x2="229.06" y2="42.86"/><line x1="226.47" y1="39.14" x2="231.66" y2="39.14"/><line x1="226.47" y1="42.86" x2="231.66" y2="42.86"/></g>
<circle cx="229.06" cy="41.00" r="0.85" fill="#3388EE"/>
<g stroke="#FFAA22" stroke-width="0.8"><line x1="229.56" y1="41.49" x2="229.56" y2="44.51"/><line x1="226.97" y1="41.49" x2="232.16" y2="41.49"/><line x1="226.97" y1="44.51" x2="232.16" y2="44.51"/></g>
<circle cx="229.56" cy="43.00" r="0.85" fill="#FFAA22"/>
<g stroke="#A8195A" stroke-width="0.8"><line x1="232.16" y1="39.05" x2="232.16" y2="40.95"/><line x1="229.56" y1="39.05" x2="234.76" y2="39.05"/><line x1="229.56" y1="40.95" x2="234.76" y2="40.95"/></g>
<circle cx="232.16" cy="40.00" r="0.85" fill="#A8195A"/>
<g stroke="#3388EE" stroke-width="0.8"><line x1="232.66" y1="39.74" x2="232.66" y2="44.26"/><line x1="230.06" y1="39.74" x2="235.26" y2="39.74"/><line x1="230.06" y1="44.26" x2="235.26" y2="44.26"/></g>
<circle cx="232.66" cy="42.00" r="0.85" fill="#3388EE"/>
<g stroke="#FFAA22" stroke-width="0.8"><line x1="233.16" y1="40.40" x2="233.16" y2="43.60"/><line x1="230.56" y1="40.40" x2="235.76" y2="40.40"/><line x1="230.56" y1="43.60" x2="235.76" y2="43.60"/></g>
<circle cx="233.16" cy="42.00" r="0.85" fill="#FFAA22"/>
<g stroke="#A8195A" stroke-width="0.8"><line x1="235.76" y1="41.31" x2="235.76" y2="44.69"/><line x1="233.16" y1="41.31" x2="238.36" y2="41.31"/><line x1="233.16" y1="44.69" x2="238.36" y2="44.69"/></g>
<circle cx="235.76" cy="43.00" r="0.85" fill="#A8195A"/>
<g stroke="#3388EE" stroke-width="0.8"><line x1="236.26" y1="41.88" x2="236.26" y2="46.12"/><line x1="233.66" y1="41.88" x2="238.86" y2="41.88"/><line x1="233.66" y1="46.12" x2="238.86" y2="46.12"/></g>
<circle cx="236.26" cy="44.00" r="0.85" fill="#3388EE"/>
<g stroke="#FFAA22" stroke-width="0.8"><line x1="236.76" y1="43.75" x2="236.76" y2="46.25"/><line x1="234.16" y1="43.75" x2="239.36" y2="43.75"/><line x1="234.16" y1="46.25" x2="239.36" y2="46.25"/></g>
<circle cx="236.76" cy="45.00" r="0.85" fill="#FFAA22"/>
<g stroke="#A8195A" stroke-width="0.8"><line x1="239.36" y1="45.74" x2="239.36" y2="48.26"/><line x1="236.76" y1="45.74" x2="241.96" y2="45.74"/><line x1="236.76" y1="48.26" x2="241.96" y2="48.26"/></g>
<circle cx="239.36" cy="47.00" r="0.85" fill="#A8195A"/>
<g stroke="#3388EE" stroke-width="0.8"><line x1="239.86" y1="47.26" x2="239.86" y2="49.54"/><line x1="237.26" y1="47.26" x2="242.46" y2="47.26"/><line x1="237.26" y1="49.54" x2="242.46" y2="49.54"/></g>
<circle cx="239.86" cy="48.40" r="0.85" fill="#3388EE"/>
<g stroke="#FFAA22" stroke-width="0.8"><line x1="240.36" y1="47.53" x2="240.36" y2="50.47"/><line x1="237.76" y1="47.53" x2="242.96" y2="47.53"/><line x1="237.76" y1="50.47" x2="242.96" y2="50.47"/></g>
<circle cx="240.36" cy="49.00" r="0.85" fill="#FFAA22"/>
<g stroke="#A8195A" stroke-width="0.8"><line x1="242.95" y1="48.04" x2="242.95" y2="49.96"/><line x1="240.35" y1="48.04" x2="245.55" y2="48.04"/><line x1="240.35" y1="49.96" x2="245.55" y2="49.96"/></g>
<circle cx="242.95" cy="49.00" r="0.85" fill="#A8195A"/>
<g stroke="#3388EE" stroke-width="0.8"><line x1="243.45" y1="48.91" x2="243.45" y2="51.09"/><line x1="240.85" y1="48.91" x2="246.05" y2="48.91"/><line x1="240.85" y1="51.09" x2="246.05" y2="51.09"/></g>
<circle cx="243.45" cy="50.00" r="0.85" fill="#3388EE"/>
<g stroke="#FFAA22" stroke-width="0.8"><line x1="243.95" y1="49.91" x2="243.95" y2="52.09"/><line x1="241.35" y1="49.91" x2="246.55" y2="49.91"/><line x1="241.35" y1="52.09" x2="246.55" y2="52.09"/></g>
<circle cx="243.95" cy="51.00" r="0.85" fill="#FFAA22"/>
<g stroke="#A8195A" stroke-width="0.8"><line x1="246.55" y1="47.95" x2="246.55" y2="50.05"/><line x1="243.95" y1="47.95" x2="249.15" y2="47.95"/><line x1="243.95" y1="50.05" x2="249.15" y2="50.05"/></g>
<circle cx="246.55" cy="49.00" r="0.85" fill="#A8195A"/>
<g stroke="#3388EE" stroke-width="0.8"><line x1="247.05" y1="49.52" x2="247.05" y2="52.48"/><line x1="244.45" y1="49.52" x2="249.65" y2="49.52"/><line x1="244.45" y1="52.48" x2="249.65" y2="52.48"/></g>
<circle cx="247.05" cy="51.00" r="0.85" fill="#3388EE"/>
<g stroke="#FFAA22" stroke-width="0.8"><line x1="247.55" y1="49.05" x2="247.55" y2="50.95"/><line x1="244.95" y1="49.05" x2="250.15" y2="49.05"/><line x1="244.95" y1="50.95" x2="250.15" y2="50.95"/></g>
<circle cx="247.55" cy="50.00" r="0.85" fill="#FFAA22"/>
<g stroke="#A8195A" stroke-width="0.8"><line x1="250.15" y1="45.10" x2="250.15" y2="46.90"/><line x1="247.55" y1="45.10" x2="252.75" y2="45.10"/><line x1="247.55" y1="46.90" x2="252.75" y2="46.90"/></g>
<circle cx="250.15" cy="46.00" r="0.85" fill="#A8195A"/>
<g stroke="#3388EE" stroke-width="0.8"><line x1="250.65" y1="46.79" x2="250.65" y2="49.21"/><line x1="248.05" y1="46.79" x2="253.25" y2="46.79"/><line x1="248.05" y1="49.21" x2="253.25" y2="49.21"/></g>
<circle cx="250.65" cy="48.00" r="0.85" fill="#3388EE"/>
<g stroke="#FFAA22" stroke-width="0.8"><line x1="251.15" y1="46.01" x2="251.15" y2="47.99"/><line x1="248.55" y1="46.01" x2="253.75" y2="46.01"/><line x1="248.55" y1="47.99" x2="253.75" y2="47.99"/></g>
<circle cx="251.15" cy="47.00" r="0.85" fill="#FFAA22"/>
<g stroke="#A8195A" stroke-width="0.8"><line x1="253.75" y1="43.77" x2="253.75" y2="46.23"/><line x1="251.15" y1="43.77" x2="256.35" y2="43.77"/><line x1="251.15" y1="46.23" x2="256.35" y2="46.23"/></g>
<circle cx="253.75" cy="45.00" r="0.85" fill="#A8195A"/>
<g stroke="#3388EE" stroke-width="0.8"><line x1="254.25" y1="45.36" x2="254.25" y2="47.44"/><line x1="251.65" y1="45.36" x2="256.85" y2="45.36"/><line x1="251.65" y1="47.44" x2="256.85" y2="47.44"/></g>
<circle cx="254.25" cy="46.40" r="0.85" fill="#3388EE"/>
<g stroke="#FFAA22" stroke-width="0.8"><line x1="254.75" y1="45.31" x2="254.75" y2="48.69"/><line x1="252.15" y1="45.31" x2="257.35" y2="45.31"/><line x1="252.15" y1="48.69" x2="257.35" y2="48.69"/></g>
<circle cx="254.75" cy="47.00" r="0.85" fill="#FFAA22"/>
<g stroke="#A8195A" stroke-width="0.8"><line x1="257.35" y1="43.55" x2="257.35" y2="46.45"/><line x1="254.75" y1="43.55" x2="259.95" y2="43.55"/><line x1="254.75" y1="46.45" x2="259.95" y2="46.45"/></g>
<circle cx="257.35" cy="45.00" r="0.85" fill="#A8195A"/>
<g stroke="#3388EE" stroke-width="0.8"><line x1="257.85" y1="47.79" x2="257.85" y2="50.21"/><line x1="255.25" y1="47.79" x2="260.45" y2="47.79"/><line x1="255.25" y1="50.21" x2="260.45" y2="50.21"/></g>
<circle cx="257.85" cy="49.00" r="0.85" fill="#3388EE"/>
<g stroke="#FFAA22" stroke-width="0.8"><line x1="258.35" y1="45.87" x2="258.35" y2="48.13"/><line x1="255.75" y1="45.87" x2="260.95" y2="45.87"/><line x1="255.75" y1="48.13" x2="260.95" y2="48.13"/></g>
<circle cx="258.35" cy="47.00" r="0.85" fill="#FFAA22"/>
<g stroke="#A8195A" stroke-width="0.8"><line x1="260.94" y1="40.79" x2="260.94" y2="43.21"/><line x1="258.34" y1="40.79" x2="263.54" y2="40.79"/><line x1="258.34" y1="43.21" x2="263.54" y2="43.21"/></g>
<circle cx="260.94" cy="42.00" r="0.85" fill="#A8195A"/>
<g stroke="#3388EE" stroke-width="0.8"><line x1="261.44" y1="42.49" x2="261.44" y2="45.51"/><line x1="258.84" y1="42.49" x2="264.04" y2="42.49"/><line x1="258.84" y1="45.51" x2="264.04" y2="45.51"/></g>
<circle cx="261.44" cy="44.00" r="0.85" fill="#3388EE"/>
<g stroke="#FFAA22" stroke-width="0.8"><line x1="261.94" y1="42.59" x2="261.94" y2="44.61"/><line x1="259.34" y1="42.59" x2="264.54" y2="42.59"/><line x1="259.34" y1="44.61" x2="264.54" y2="44.61"/></g>
<circle cx="261.94" cy="43.60" r="0.85" fill="#FFAA22"/>
<g stroke="#A8195A" stroke-width="0.8"><line x1="264.54" y1="40.34" x2="264.54" y2="43.66"/><line x1="261.94" y1="40.34" x2="267.14" y2="40.34"/><line x1="261.94" y1="43.66" x2="267.14" y2="43.66"/></g>
<circle cx="264.54" cy="42.00" r="0.85" fill="#A8195A"/>
<g stroke="#3388EE" stroke-width="0.8"><line x1="265.04" y1="40.61" x2="265.04" y2="45.39"/><line x1="262.44" y1="40.61" x2="267.64" y2="40.61"/><line x1="262.44" y1="45.39" x2="267.64" y2="45.39"/></g>
<circle cx="265.04" cy="43.00" r="0.85" fill="#3388EE"/>
<g stroke="#FFAA22" stroke-width="0.8"><line x1="265.54" y1="42.28" x2="265.54" y2="44.92"/><line x1="262.94" y1="42.28" x2="268.14" y2="42.28"/><line x1="262.94" y1="44.92" x2="268.14" y2="44.92"/></g>
<circle cx="265.54" cy="43.60" r="0.85" fill="#FFAA22"/>
<g stroke="#A8195A" stroke-width="0.8"><line x1="268.14" y1="34.66" x2="268.14" y2="37.34"/><line x1="265.54" y1="34.66" x2="270.74" y2="34.66"/><line x1="265.54" y1="37.34" x2="270.74" y2="37.34"/></g>
<circle cx="268.14" cy="36.00" r="0.85" fill="#A8195A"/>
<g stroke="#3388EE" stroke-width="0.8"><line x1="268.64" y1="36.88" x2="268.64" y2="39.12"/><line x1="266.04" y1="36.88" x2="271.24" y2="36.88"/><line x1="266.04" y1="39.12" x2="271.24" y2="39.12"/></g>
<circle cx="268.64" cy="38.00" r="0.85" fill="#3388EE"/>
<g stroke="#FFAA22" stroke-width="0.8"><line x1="269.14" y1="39.01" x2="269.14" y2="40.99"/><line x1="266.54" y1="39.01" x2="271.74" y2="39.01"/><line x1="266.54" y1="40.99" x2="271.74" y2="40.99"/></g>
<circle cx="269.14" cy="40.00" r="0.85" fill="#FFAA22"/>
<g stroke="#A8195A" stroke-width="0.8"><line x1="271.74" y1="34.79" x2="271.74" y2="37.21"/><line x1="269.13" y1="34.79" x2="274.34" y2="34.79"/><line x1="269.13" y1="37.21" x2="274.34" y2="37.21"/></g>
<circle cx="271.74" cy="36.00" r="0.85" fill="#A8195A"/>
<g stroke="#3388EE" stroke-width="0.8"><line x1="272.24" y1="38.63" x2="272.24" y2="41.37"/><line x1="269.63" y1="38.63" x2="274.84" y2="38.63"/><line x1="269.63" y1="41.37" x2="274.84" y2="41.37"/></g>
<circle cx="272.24" cy="40.00" r="0.85" fill="#3388EE"/>
<g stroke="#FFAA22" stroke-width="0.8"><line x1="272.74" y1="40.35" x2="272.74" y2="43.65"/><line x1="270.13" y1="40.35" x2="275.34" y2="40.35"/><line x1="270.13" y1="43.65" x2="275.34" y2="43.65"/></g>
<circle cx="272.74" cy="42.00" r="0.85" fill="#FFAA22"/>
<g stroke="#A8195A" stroke-width="0.8"><line x1="275.33" y1="28.95" x2="275.33" y2="31.05"/><line x1="272.73" y1="28.95" x2="277.93" y2="28.95"/><line x1="272.73" y1="31.05" x2="277.93" y2="31.05"/></g>
<circle cx="275.33" cy="30.00" r="0.85" fill="#A8195A"/>
<g stroke="#3388EE" stroke-width="0.8"><line x1="275.83" y1="30.97" x2="275.83" y2="33.03"/><line x1="273.23" y1="30.97" x2="278.43" y2="30.97"/><line x1="273.23" y1="33.03" x2="278.43" y2="33.03"/></g>
<circle cx="275.83" cy="32.00" r="0.85" fill="#3388EE"/>
<g stroke="#FFAA22" stroke-width="0.8"><line x1="276.33" y1="33.24" x2="276.33" y2="36.76"/><line x1="273.73" y1="33.24" x2="278.93" y2="33.24"/><line x1="273.73" y1="36.76" x2="278.93" y2="36.76"/></g>
<circle cx="276.33" cy="35.00" r="0.85" fill="#FFAA22"/>
<g stroke="#A8195A" stroke-width="0.8"><line x1="278.93" y1="33.02" x2="278.93" y2="35.78"/><line x1="276.33" y1="33.02" x2="281.53" y2="33.02"/><line x1="276.33" y1="35.78" x2="281.53" y2="35.78"/></g>
<circle cx="278.93" cy="34.40" r="0.85" fill="#A8195A"/>
<g stroke="#3388EE" stroke-width="0.8"><line x1="279.43" y1="34.79" x2="279.43" y2="37.21"/><line x1="276.83" y1="34.79" x2="282.03" y2="34.79"/><line x1="276.83" y1="37.21" x2="282.03" y2="37.21"/></g>
<circle cx="279.43" cy="36.00" r="0.85" fill="#3388EE"/>
<g stroke="#FFAA22" stroke-width="0.8"><line x1="279.93" y1="36.61" x2="279.93" y2="39.39"/><line x1="277.33" y1="36.61" x2="282.53" y2="36.61"/><line x1="277.33" y1="39.39" x2="282.53" y2="39.39"/></g>
<circle cx="279.93" cy="38.00" r="0.85" fill="#FFAA22"/>
<g stroke="#A8195A" stroke-width="0.8"><line x1="282.53" y1="39.08" x2="282.53" y2="40.92"/><line x1="279.93" y1="39.08" x2="285.13" y2="39.08"/><line x1="279.93" y1="40.92" x2="285.13" y2="40.92"/></g>
<circle cx="282.53" cy="40.00" r="0.85" fill="#A8195A"/>
<g stroke="#3388EE" stroke-width="0.8"><line x1="283.03" y1="43.26" x2="283.03" y2="46.74"/><line x1="280.43" y1="43.26" x2="285.63" y2="43.26"/><line x1="280.43" y1="46.74" x2="285.63" y2="46.74"/></g>
<circle cx="283.03" cy="45.00" r="0.85" fill="#3388EE"/>
<g stroke="#FFAA22" stroke-width="0.8"><line x1="283.53" y1="46.22" x2="283.53" y2="49.78"/><line x1="280.93" y1="46.22" x2="286.13" y2="46.22"/><line x1="280.93" y1="49.78" x2="286.13" y2="49.78"/></g>
<circle cx="283.53" cy="48.00" r="0.85" fill="#FFAA22"/>
<g stroke="#A8195A" stroke-width="0.8"><line x1="286.12" y1="39.32" x2="286.12" y2="42.68"/><line x1="283.52" y1="39.32" x2="288.73" y2="39.32"/><line x1="283.52" y1="42.68" x2="288.73" y2="42.68"/></g>
<circle cx="286.12" cy="41.00" r="0.85" fill="#A8195A"/>
<g stroke="#3388EE" stroke-width="0.8"><line x1="286.62" y1="41.03" x2="286.62" y2="44.97"/><line x1="284.02" y1="41.03" x2="289.23" y2="41.03"/><line x1="284.02" y1="44.97" x2="289.23" y2="44.97"/></g>
<circle cx="286.62" cy="43.00" r="0.85" fill="#3388EE"/>
<g stroke="#FFAA22" stroke-width="0.8"><line x1="287.12" y1="40.86" x2="287.12" y2="43.14"/><line x1="284.52" y1="40.86" x2="289.73" y2="40.86"/><line x1="284.52" y1="43.14" x2="289.73" y2="43.14"/></g>
<circle cx="287.12" cy="42.00" r="0.85" fill="#FFAA22"/>
<g stroke="#A8195A" stroke-width="0.8"><line x1="289.72" y1="39.77" x2="289.72" y2="42.23"/><line x1="287.12" y1="39.77" x2="292.32" y2="39.77"/><line x1="287.12" y1="42.23" x2="292.32" y2="42.23"/></g>
<circle cx="289.72" cy="41.00" r="0.85" fill="#A8195A"/>
<g stroke="#3388EE" stroke-width="0.8"><line x1="290.22" y1="42.77" x2="290.22" y2="45.23"/><line x1="287.62" y1="42.77" x2="292.82" y2="42.77"/><line x1="287.62" y1="45.23" x2="292.82" y2="45.23"/></g>
<circle cx="290.22" cy="44.00" r="0.85" fill="#3388EE"/>
<g stroke="#FFAA22" stroke-width="0.8"><line x1="290.72" y1="41.41" x2="290.72" y2="44.59"/><line x1="288.12" y1="41.41" x2="293.32" y2="41.41"/><line x1="288.12" y1="44.59" x2="293.32" y2="44.59"/></g>
<circle cx="290.72" cy="43.00" r="0.85" fill="#FFAA22"/>
<g stroke="#A8195A" stroke-width="0.8"><line x1="293.32" y1="39.62" x2="293.32" y2="42.38"/><line x1="290.72" y1="39.62" x2="295.92" y2="39.62"/><line x1="290.72" y1="42.38" x2="295.92" y2="42.38"/></g>
<circle cx="293.32" cy="41.00" r="0.85" fill="#A8195A"/>
<g stroke="#FFAA22" stroke-width="0.8"><line x1="294.32" y1="42.00" x2="294.32" y2="45.20"/><line x1="291.72" y1="42.00" x2="296.92" y2="42.00"/><line x1="291.72" y1="45.20" x2="296.92" y2="45.20"/></g>
<circle cx="294.32" cy="43.60" r="0.85" fill="#FFAA22"/>
<g stroke="#A8195A" stroke-width="0.8"><line x1="296.92" y1="44.80" x2="296.92" y2="47.20"/><line x1="294.32" y1="44.80" x2="299.52" y2="44.80"/><line x1="294.32" y1="47.20" x2="299.52" y2="47.20"/></g>
<circle cx="296.92" cy="46.00" r="0.85" fill="#A8195A"/>
<g stroke="#3388EE" stroke-width="0.8"><line x1="297.42" y1="45.69" x2="297.42" y2="48.31"/><line x1="294.82" y1="45.69" x2="300.02" y2="45.69"/><line x1="294.82" y1="48.31" x2="300.02" y2="48.31"/></g>
<circle cx="297.42" cy="47.00" r="0.85" fill="#3388EE"/>
<g stroke="#FFAA22" stroke-width="0.8"><line x1="297.92" y1="43.37" x2="297.92" y2="46.63"/><line x1="295.32" y1="43.37" x2="300.52" y2="43.37"/><line x1="295.32" y1="46.63" x2="300.52" y2="46.63"/></g>
<circle cx="297.92" cy="45.00" r="0.85" fill="#FFAA22"/>
<g stroke="#A8195A" stroke-width="0.8"><line x1="300.52" y1="48.21" x2="300.52" y2="51.79"/><line x1="297.92" y1="48.21" x2="303.12" y2="48.21"/><line x1="297.92" y1="51.79" x2="303.12" y2="51.79"/></g>
<circle cx="300.52" cy="50.00" r="0.85" fill="#A8195A"/>
<g stroke="#3388EE" stroke-width="0.8"><line x1="301.02" y1="49.41" x2="301.02" y2="53.79"/><line x1="298.42" y1="49.41" x2="303.62" y2="49.41"/><line x1="298.42" y1="53.79" x2="303.62" y2="53.79"/></g>
<circle cx="301.02" cy="51.60" r="0.85" fill="#3388EE"/>
<g stroke="#FFAA22" stroke-width="0.8"><line x1="301.52" y1="52.37" x2="301.52" y2="55.63"/><line x1="298.92" y1="52.37" x2="304.12" y2="52.37"/><line x1="298.92" y1="55.63" x2="304.12" y2="55.63"/></g>
<circle cx="301.52" cy="54.00" r="0.85" fill="#FFAA22"/>
<g stroke="#A8195A" stroke-width="0.8"><line x1="304.11" y1="45.36" x2="304.11" y2="48.64"/><line x1="301.51" y1="45.36" x2="306.71" y2="45.36"/><line x1="301.51" y1="48.64" x2="306.71" y2="48.64"/></g>
<circle cx="304.11" cy="47.00" r="0.85" fill="#A8195A"/>
<g stroke="#3388EE" stroke-width="0.8"><line x1="304.61" y1="45.96" x2="304.61" y2="50.04"/><line x1="302.01" y1="45.96" x2="307.21" y2="45.96"/><line x1="302.01" y1="50.04" x2="307.21" y2="50.04"/></g>
<circle cx="304.61" cy="48.00" r="0.85" fill="#3388EE"/>
<g stroke="#FFAA22" stroke-width="0.8"><line x1="305.11" y1="47.90" x2="305.11" y2="50.10"/><line x1="302.51" y1="47.90" x2="307.71" y2="47.90"/><line x1="302.51" y1="50.10" x2="307.71" y2="50.10"/></g>
<circle cx="305.11" cy="49.00" r="0.85" fill="#FFAA22"/>
<g stroke="#A8195A" stroke-width="0.8"><line x1="307.71" y1="42.23" x2="307.71" y2="44.97"/><line x1="305.11" y1="42.23" x2="310.31" y2="42.23"/><line x1="305.11" y1="44.97" x2="310.31" y2="44.97"/></g>
<circle cx="307.71" cy="43.60" r="0.85" fill="#A8195A"/>
<g stroke="#3388EE" stroke-width="0.8"><line x1="308.21" y1="43.50" x2="308.21" y2="46.50"/><line x1="305.61" y1="43.50" x2="310.81" y2="43.50"/><line x1="305.61" y1="46.50" x2="310.81" y2="46.50"/></g>
<circle cx="308.21" cy="45.00" r="0.85" fill="#3388EE"/>
<g stroke="#FFAA22" stroke-width="0.8"><line x1="308.71" y1="45.07" x2="308.71" y2="46.93"/><line x1="306.11" y1="45.07" x2="311.31" y2="45.07"/><line x1="306.11" y1="46.93" x2="311.31" y2="46.93"/></g>
<circle cx="308.71" cy="46.00" r="0.85" fill="#FFAA22"/>
<g stroke="#A8195A" stroke-width="0.8"><line x1="311.31" y1="35.47" x2="311.31" y2="37.33"/><line x1="308.71" y1="35.47" x2="313.91" y2="35.47"/><line x1="308.71" y1="37.33" x2="313.91" y2="37.33"/></g>
<circle cx="311.31" cy="36.40" r="0.85" fill="#A8195A"/>
<g stroke="#3388EE" stroke-width="0.8"><line x1="311.81" y1="38.61" x2="311.81" y2="41.39"/><line x1="309.21" y1="38.61" x2="314.41" y2="38.61"/><line x1="309.21" y1="41.39" x2="314.41" y2="41.39"/></g>
<circle cx="311.81" cy="40.00" r="0.85" fill="#3388EE"/>
<g stroke="#FFAA22" stroke-width="0.8"><line x1="312.31" y1="41.87" x2="312.31" y2="44.13"/><line x1="309.71" y1="41.87" x2="314.91" y2="41.87"/><line x1="309.71" y1="44.13" x2="314.91" y2="44.13"/></g>
<circle cx="312.31" cy="43.00" r="0.85" fill="#FFAA22"/>
<g stroke="#A8195A" stroke-width="0.8"><line x1="314.91" y1="41.48" x2="314.91" y2="44.52"/><line x1="312.31" y1="41.48" x2="317.51" y2="41.48"/><line x1="312.31" y1="44.52" x2="317.51" y2="44.52"/></g>
<circle cx="314.91" cy="43.00" r="0.85" fill="#A8195A"/>
<g stroke="#FFAA22" stroke-width="0.8"><line x1="315.91" y1="44.24" x2="315.91" y2="47.76"/><line x1="313.31" y1="44.24" x2="318.51" y2="44.24"/><line x1="313.31" y1="47.76" x2="318.51" y2="47.76"/></g>
<circle cx="315.91" cy="46.00" r="0.85" fill="#FFAA22"/>
<g stroke="#A8195A" stroke-width="0.8"><line x1="318.50" y1="48.70" x2="318.50" y2="51.30"/><line x1="315.90" y1="48.70" x2="321.10" y2="48.70"/><line x1="315.90" y1="51.30" x2="321.10" y2="51.30"/></g>
<circle cx="318.50" cy="50.00" r="0.85" fill="#A8195A"/>
<g stroke="#3388EE" stroke-width="0.8"><line x1="319.00" y1="48.69" x2="319.00" y2="53.31"/><line x1="316.40" y1="48.69" x2="321.60" y2="48.69"/><line x1="316.40" y1="53.31" x2="321.60" y2="53.31"/></g>
<circle cx="319.00" cy="51.00" r="0.85" fill="#3388EE"/>
<g stroke="#FFAA22" stroke-width="0.8"><line x1="319.50" y1="51.21" x2="319.50" y2="54.79"/><line x1="316.90" y1="51.21" x2="322.10" y2="51.21"/><line x1="316.90" y1="54.79" x2="322.10" y2="54.79"/></g>
<circle cx="319.50" cy="53.00" r="0.85" fill="#FFAA22"/>
<g stroke="#A8195A" stroke-width="0.8"><line x1="322.10" y1="44.24" x2="322.10" y2="47.76"/><line x1="319.50" y1="44.24" x2="324.70" y2="44.24"/><line x1="319.50" y1="47.76" x2="324.70" y2="47.76"/></g>
<circle cx="322.10" cy="46.00" r="0.85" fill="#A8195A"/>
<g stroke="#3388EE" stroke-width="0.8"><line x1="322.60" y1="48.49" x2="322.60" y2="51.51"/><line x1="320.00" y1="48.49" x2="325.20" y2="48.49"/><line x1="320.00" y1="51.51" x2="325.20" y2="51.51"/></g>
<circle cx="322.60" cy="50.00" r="0.85" fill="#3388EE"/>
<g stroke="#FFAA22" stroke-width="0.8"><line x1="323.10" y1="46.90" x2="323.10" y2="49.10"/><line x1="320.50" y1="46.90" x2="325.70" y2="46.90"/><line x1="320.50" y1="49.10" x2="325.70" y2="49.10"/></g>
<circle cx="323.10" cy="48.00" r="0.85" fill="#FFAA22"/>
<g stroke="#A8195A" stroke-width="0.8"><line x1="325.70" y1="46.90" x2="325.70" y2="49.10"/><line x1="323.10" y1="46.90" x2="328.30" y2="46.90"/><line x1="323.10" y1="49.10" x2="328.30" y2="49.10"/></g>
<circle cx="325.70" cy="48.00" r="0.85" fill="#A8195A"/>
<g stroke="#3388EE" stroke-width="0.8"><line x1="326.20" y1="49.72" x2="326.20" y2="52.28"/><line x1="323.60" y1="49.72" x2="328.80" y2="49.72"/><line x1="323.60" y1="52.28" x2="328.80" y2="52.28"/></g>
<circle cx="326.20" cy="51.00" r="0.85" fill="#3388EE"/>
<g stroke="#A8195A" stroke-width="0.8"><line x1="329.30" y1="43.92" x2="329.30" y2="46.08"/><line x1="326.69" y1="43.92" x2="331.90" y2="43.92"/><line x1="326.69" y1="46.08" x2="331.90" y2="46.08"/></g>
<circle cx="329.30" cy="45.00" r="0.85" fill="#A8195A"/>
<g stroke="#3388EE" stroke-width="0.8"><line x1="329.80" y1="46.13" x2="329.80" y2="49.87"/><line x1="327.19" y1="46.13" x2="332.40" y2="46.13"/><line x1="327.19" y1="49.87" x2="332.40" y2="49.87"/></g>
<circle cx="329.80" cy="48.00" r="0.85" fill="#3388EE"/>
<g stroke="#FFAA22" stroke-width="0.8"><line x1="330.30" y1="44.29" x2="330.30" y2="47.71"/><line x1="327.69" y1="44.29" x2="332.90" y2="44.29"/><line x1="327.69" y1="47.71" x2="332.90" y2="47.71"/></g>
<circle cx="330.30" cy="46.00" r="0.85" fill="#FFAA22"/>
<g stroke="#A8195A" stroke-width="0.8"><line x1="332.89" y1="46.34" x2="332.89" y2="49.66"/><line x1="330.29" y1="46.34" x2="335.49" y2="46.34"/><line x1="330.29" y1="49.66" x2="335.49" y2="49.66"/></g>
<circle cx="332.89" cy="48.00" r="0.85" fill="#A8195A"/>
<g stroke="#3388EE" stroke-width="0.8"><line x1="333.39" y1="47.33" x2="333.39" y2="50.67"/><line x1="330.79" y1="47.33" x2="335.99" y2="47.33"/><line x1="330.79" y1="50.67" x2="335.99" y2="50.67"/></g>
<circle cx="333.39" cy="49.00" r="0.85" fill="#3388EE"/>
<g stroke="#FFAA22" stroke-width="0.8"><line x1="333.89" y1="45.51" x2="333.89" y2="48.49"/><line x1="331.29" y1="45.51" x2="336.49" y2="45.51"/><line x1="331.29" y1="48.49" x2="336.49" y2="48.49"/></g>
<circle cx="333.89" cy="47.00" r="0.85" fill="#FFAA22"/>
<g stroke="#A8195A" stroke-width="0.8"><line x1="336.49" y1="48.38" x2="336.49" y2="51.62"/><line x1="333.89" y1="48.38" x2="339.09" y2="48.38"/><line x1="333.89" y1="51.62" x2="339.09" y2="51.62"/></g>
<circle cx="336.49" cy="50.00" r="0.85" fill="#A8195A"/>
<g stroke="#3388EE" stroke-width="0.8"><line x1="336.99" y1="49.88" x2="336.99" y2="52.12"/><line x1="334.39" y1="49.88" x2="339.59" y2="49.88"/><line x1="334.39" y1="52.12" x2="339.59" y2="52.12"/></g>
<circle cx="336.99" cy="51.00" r="0.85" fill="#3388EE"/>
<g stroke="#FFAA22" stroke-width="0.8"><line x1="337.49" y1="46.51" x2="337.49" y2="49.49"/><line x1="334.89" y1="46.51" x2="340.09" y2="46.51"/><line x1="334.89" y1="49.49" x2="340.09" y2="49.49"/></g>
<circle cx="337.49" cy="48.00" r="0.85" fill="#FFAA22"/>
<g stroke="#A8195A" stroke-width="0.8"><line x1="340.09" y1="50.28" x2="340.09" y2="53.72"/><line x1="337.49" y1="50.28" x2="342.69" y2="50.28"/><line x1="337.49" y1="53.72" x2="342.69" y2="53.72"/></g>
<circle cx="340.09" cy="52.00" r="0.85" fill="#A8195A"/>
<g stroke="#3388EE" stroke-width="0.8"><line x1="340.59" y1="52.90" x2="340.59" y2="57.10"/><line x1="337.99" y1="52.90" x2="343.19" y2="52.90"/><line x1="337.99" y1="57.10" x2="343.19" y2="57.10"/></g>
<circle cx="340.59" cy="55.00" r="0.85" fill="#3388EE"/>
<g stroke="#FFAA22" stroke-width="0.8"><line x1="341.09" y1="52.42" x2="341.09" y2="55.58"/><line x1="338.49" y1="52.42" x2="343.69" y2="52.42"/><line x1="338.49" y1="55.58" x2="343.69" y2="55.58"/></g>
<circle cx="341.09" cy="54.00" r="0.85" fill="#FFAA22"/>
<g stroke="#A8195A" stroke-width="0.8"><line x1="343.69" y1="50.67" x2="343.69" y2="53.33"/><line x1="341.08" y1="50.67" x2="346.29" y2="50.67"/><line x1="341.08" y1="53.33" x2="346.29" y2="53.33"/></g>
<circle cx="343.69" cy="52.00" r="0.85" fill="#A8195A"/>
<g stroke="#3388EE" stroke-width="0.8"><line x1="344.19" y1="54.35" x2="344.19" y2="56.85"/><line x1="341.58" y1="54.35" x2="346.79" y2="54.35"/><line x1="341.58" y1="56.85" x2="346.79" y2="56.85"/></g>
<circle cx="344.19" cy="55.60" r="0.85" fill="#3388EE"/>
<g stroke="#FFAA22" stroke-width="0.8"><line x1="344.69" y1="54.39" x2="344.69" y2="57.61"/><line x1="342.08" y1="54.39" x2="347.29" y2="54.39"/><line x1="342.08" y1="57.61" x2="347.29" y2="57.61"/></g>
<circle cx="344.69" cy="56.00" r="0.85" fill="#FFAA22"/>
<g stroke="#A8195A" stroke-width="0.8"><line x1="347.28" y1="50.80" x2="347.28" y2="53.20"/><line x1="344.68" y1="50.80" x2="349.88" y2="50.80"/><line x1="344.68" y1="53.20" x2="349.88" y2="53.20"/></g>
<circle cx="347.28" cy="52.00" r="0.85" fill="#A8195A"/>
<g stroke="#3388EE" stroke-width="0.8"><line x1="347.78" y1="52.88" x2="347.78" y2="57.12"/><line x1="345.18" y1="52.88" x2="350.38" y2="52.88"/><line x1="345.18" y1="57.12" x2="350.38" y2="57.12"/></g>
<circle cx="347.78" cy="55.00" r="0.85" fill="#3388EE"/>
<g stroke="#FFAA22" stroke-width="0.8"><line x1="348.28" y1="54.83" x2="348.28" y2="58.37"/><line x1="345.68" y1="54.83" x2="350.88" y2="54.83"/><line x1="345.68" y1="58.37" x2="350.88" y2="58.37"/></g>
<circle cx="348.28" cy="56.60" r="0.85" fill="#FFAA22"/>
<g stroke="#A8195A" stroke-width="0.8"><line x1="350.88" y1="50.74" x2="350.88" y2="53.26"/><line x1="348.28" y1="50.74" x2="353.48" y2="50.74"/><line x1="348.28" y1="53.26" x2="353.48" y2="53.26"/></g>
<circle cx="350.88" cy="52.00" r="0.85" fill="#A8195A"/>
<g stroke="#3388EE" stroke-width="0.8"><line x1="351.38" y1="53.44" x2="351.38" y2="56.56"/><line x1="348.78" y1="53.44" x2="353.98" y2="53.44"/><line x1="348.78" y1="56.56" x2="353.98" y2="56.56"/></g>
<circle cx="351.38" cy="55.00" r="0.85" fill="#3388EE"/>
<g stroke="#FFAA22" stroke-width="0.8"><line x1="351.88" y1="52.25" x2="351.88" y2="55.75"/><line x1="349.28" y1="52.25" x2="354.48" y2="52.25"/><line x1="349.28" y1="55.75" x2="354.48" y2="55.75"/></g>
<circle cx="351.88" cy="54.00" r="0.85" fill="#FFAA22"/>
<g stroke="#A8195A" stroke-width="0.8"><line x1="365.27" y1="53.75" x2="365.27" y2="56.85"/><line x1="362.67" y1="53.75" x2="367.87" y2="53.75"/><line x1="362.67" y1="56.85" x2="367.87" y2="56.85"/></g>
<circle cx="365.27" cy="55.30" r="0.85" fill="#A8195A"/>
<g stroke="#3388EE" stroke-width="0.8"><line x1="365.77" y1="58.56" x2="365.77" y2="61.04"/><line x1="363.17" y1="58.56" x2="368.37" y2="58.56"/><line x1="363.17" y1="61.04" x2="368.37" y2="61.04"/></g>
<circle cx="365.77" cy="59.80" r="0.85" fill="#3388EE"/>
<g stroke="#FFAA22" stroke-width="0.8"><line x1="366.27" y1="55.99" x2="366.27" y2="58.01"/><line x1="363.67" y1="55.99" x2="368.87" y2="55.99"/><line x1="363.67" y1="58.01" x2="368.87" y2="58.01"/></g>
<circle cx="366.27" cy="57.00" r="0.85" fill="#FFAA22"/>
<g stroke="#3388EE" stroke-width="0.8"><line x1="369.37" y1="53.19" x2="369.37" y2="55.61"/><line x1="366.77" y1="53.19" x2="371.97" y2="53.19"/><line x1="366.77" y1="55.61" x2="371.97" y2="55.61"/></g>
<circle cx="369.37" cy="54.40" r="0.85" fill="#3388EE"/>
<g stroke="#FFAA22" stroke-width="0.8"><line x1="369.87" y1="49.49" x2="369.87" y2="52.91"/><line x1="367.27" y1="49.49" x2="372.47" y2="49.49"/><line x1="367.27" y1="52.91" x2="372.47" y2="52.91"/></g>
<circle cx="369.87" cy="51.20" r="0.85" fill="#FFAA22"/>
<g stroke="#A8195A" stroke-width="0.8"><line x1="379.66" y1="61.77" x2="379.66" y2="65.03"/><line x1="377.06" y1="61.77" x2="382.26" y2="61.77"/><line x1="377.06" y1="65.03" x2="382.26" y2="65.03"/></g>
<circle cx="379.66" cy="63.40" r="0.85" fill="#A8195A"/>
<g stroke="#3388EE" stroke-width="0.8"><line x1="380.16" y1="76.60" x2="380.16" y2="79.00"/><line x1="377.56" y1="76.60" x2="382.76" y2="76.60"/><line x1="377.56" y1="79.00" x2="382.76" y2="79.00"/></g>
<circle cx="380.16" cy="77.80" r="0.85" fill="#3388EE"/>
<g stroke="#FFAA22" stroke-width="0.8"><line x1="380.66" y1="70.76" x2="380.66" y2="74.04"/><line x1="378.06" y1="70.76" x2="383.26" y2="70.76"/><line x1="378.06" y1="74.04" x2="383.26" y2="74.04"/></g>
<circle cx="380.66" cy="72.40" r="0.85" fill="#FFAA22"/>
<g stroke="#A8195A" stroke-width="0.8"><line x1="383.26" y1="59.22" x2="383.26" y2="62.78"/><line x1="380.66" y1="59.22" x2="385.86" y2="59.22"/><line x1="380.66" y1="62.78" x2="385.86" y2="62.78"/></g>
<circle cx="383.26" cy="61.00" r="0.85" fill="#A8195A"/>
<g stroke="#3388EE" stroke-width="0.8"><line x1="383.76" y1="63.28" x2="383.76" y2="67.12"/><line x1="381.16" y1="63.28" x2="386.36" y2="63.28"/><line x1="381.16" y1="67.12" x2="386.36" y2="67.12"/></g>
<circle cx="383.76" cy="65.20" r="0.85" fill="#3388EE"/>
<g stroke="#FFAA22" stroke-width="0.8"><line x1="384.26" y1="61.28" x2="384.26" y2="63.72"/><line x1="381.66" y1="61.28" x2="386.86" y2="61.28"/><line x1="381.66" y1="63.72" x2="386.86" y2="63.72"/></g>
<circle cx="384.26" cy="62.50" r="0.85" fill="#FFAA22"/>
<g stroke="#A8195A" stroke-width="0.8"><line x1="386.86" y1="63.81" x2="386.86" y2="66.59"/><line x1="384.25" y1="63.81" x2="389.46" y2="63.81"/><line x1="384.25" y1="66.59" x2="389.46" y2="66.59"/></g>
<circle cx="386.86" cy="65.20" r="0.85" fill="#A8195A"/>
<g stroke="#3388EE" stroke-width="0.8"><line x1="387.36" y1="68.52" x2="387.36" y2="70.88"/><line x1="384.75" y1="68.52" x2="389.96" y2="68.52"/><line x1="384.75" y1="70.88" x2="389.96" y2="70.88"/></g>
<circle cx="387.36" cy="69.70" r="0.85" fill="#3388EE"/>
<g stroke="#FFAA22" stroke-width="0.8"><line x1="387.86" y1="66.09" x2="387.86" y2="67.91"/><line x1="385.25" y1="66.09" x2="390.46" y2="66.09"/><line x1="385.25" y1="67.91" x2="390.46" y2="67.91"/></g>
<circle cx="387.86" cy="67.00" r="0.85" fill="#FFAA22"/>
<g stroke="#A8195A" stroke-width="0.8"><line x1="390.45" y1="58.93" x2="390.45" y2="62.47"/><line x1="387.85" y1="58.93" x2="393.05" y2="58.93"/><line x1="387.85" y1="62.47" x2="393.05" y2="62.47"/></g>
<circle cx="390.45" cy="60.70" r="0.85" fill="#A8195A"/>
<g stroke="#3388EE" stroke-width="0.8"><line x1="390.95" y1="59.69" x2="390.95" y2="63.51"/><line x1="388.35" y1="59.69" x2="393.55" y2="59.69"/><line x1="388.35" y1="63.51" x2="393.55" y2="63.51"/></g>
<circle cx="390.95" cy="61.60" r="0.85" fill="#3388EE"/>
<g stroke="#FFAA22" stroke-width="0.8"><line x1="391.45" y1="57.13" x2="391.45" y2="59.87"/><line x1="388.85" y1="57.13" x2="394.05" y2="57.13"/><line x1="388.85" y1="59.87" x2="394.05" y2="59.87"/></g>
<circle cx="391.45" cy="58.50" r="0.85" fill="#FFAA22"/>
<g stroke="#A8195A" stroke-width="0.8"><line x1="394.05" y1="69.26" x2="394.05" y2="72.74"/><line x1="391.45" y1="69.26" x2="396.65" y2="69.26"/><line x1="391.45" y1="72.74" x2="396.65" y2="72.74"/></g>
<circle cx="394.05" cy="71.00" r="0.85" fill="#A8195A"/>
<g stroke="#3388EE" stroke-width="0.8"><line x1="394.55" y1="75.29" x2="394.55" y2="78.51"/><line x1="391.95" y1="75.29" x2="397.15" y2="75.29"/><line x1="391.95" y1="78.51" x2="397.15" y2="78.51"/></g>
<circle cx="394.55" cy="76.90" r="0.85" fill="#3388EE"/>
<g stroke="#FFAA22" stroke-width="0.8"><line x1="395.05" y1="71.62" x2="395.05" y2="74.98"/><line x1="392.45" y1="71.62" x2="397.65" y2="71.62"/><line x1="392.45" y1="74.98" x2="397.65" y2="74.98"/></g>
<circle cx="395.05" cy="73.30" r="0.85" fill="#FFAA22"/>
<g stroke="#A8195A" stroke-width="0.8"><line x1="397.65" y1="63.56" x2="397.65" y2="66.84"/><line x1="395.05" y1="63.56" x2="400.25" y2="63.56"/><line x1="395.05" y1="66.84" x2="400.25" y2="66.84"/></g>
<circle cx="397.65" cy="65.20" r="0.85" fill="#A8195A"/>
<g stroke="#3388EE" stroke-width="0.8"><line x1="398.15" y1="70.20" x2="398.15" y2="72.80"/><line x1="395.55" y1="70.20" x2="400.75" y2="70.20"/><line x1="395.55" y1="72.80" x2="400.75" y2="72.80"/></g>
<circle cx="398.15" cy="71.50" r="0.85" fill="#3388EE"/>
<g stroke="#FFAA22" stroke-width="0.8"><line x1="398.65" y1="65.87" x2="398.65" y2="68.13"/><line x1="396.05" y1="65.87" x2="401.25" y2="65.87"/><line x1="396.05" y1="68.13" x2="401.25" y2="68.13"/></g>
<circle cx="398.65" cy="67.00" r="0.85" fill="#FFAA22"/>
<g stroke="#A8195A" stroke-width="0.8"><line x1="401.25" y1="58.64" x2="401.25" y2="60.96"/><line x1="398.64" y1="58.64" x2="403.85" y2="58.64"/><line x1="398.64" y1="60.96" x2="403.85" y2="60.96"/></g>
<circle cx="401.25" cy="59.80" r="0.85" fill="#A8195A"/>
<g stroke="#3388EE" stroke-width="0.8"><line x1="401.75" y1="67.46" x2="401.75" y2="70.14"/><line x1="399.14" y1="67.46" x2="404.35" y2="67.46"/><line x1="399.14" y1="70.14" x2="404.35" y2="70.14"/></g>
<circle cx="401.75" cy="68.80" r="0.85" fill="#3388EE"/>
<g stroke="#FFAA22" stroke-width="0.8"><line x1="402.25" y1="61.97" x2="402.25" y2="64.83"/><line x1="399.64" y1="61.97" x2="404.85" y2="61.97"/><line x1="399.64" y1="64.83" x2="404.85" y2="64.83"/></g>
<circle cx="402.25" cy="63.40" r="0.85" fill="#FFAA22"/>
<g stroke="#A8195A" stroke-width="0.8"><line x1="404.84" y1="61.87" x2="404.84" y2="64.13"/><line x1="402.24" y1="61.87" x2="407.44" y2="61.87"/><line x1="402.24" y1="64.13" x2="407.44" y2="64.13"/></g>
<circle cx="404.84" cy="63.00" r="0.85" fill="#A8195A"/>
<g stroke="#3388EE" stroke-width="0.8"><line x1="405.34" y1="68.11" x2="405.34" y2="71.29"/><line x1="402.74" y1="68.11" x2="407.94" y2="68.11"/><line x1="402.74" y1="71.29" x2="407.94" y2="71.29"/></g>
<circle cx="405.34" cy="69.70" r="0.85" fill="#3388EE"/>
<g stroke="#FFAA22" stroke-width="0.8"><line x1="405.84" y1="64.18" x2="405.84" y2="66.22"/><line x1="403.24" y1="64.18" x2="408.44" y2="64.18"/><line x1="403.24" y1="66.22" x2="408.44" y2="66.22"/></g>
<circle cx="405.84" cy="65.20" r="0.85" fill="#FFAA22"/>
<g stroke="#A8195A" stroke-width="0.8"><line x1="408.44" y1="67.08" x2="408.44" y2="70.52"/><line x1="405.84" y1="67.08" x2="411.04" y2="67.08"/><line x1="405.84" y1="70.52" x2="411.04" y2="70.52"/></g>
<circle cx="408.44" cy="68.80" r="0.85" fill="#A8195A"/>
<g stroke="#3388EE" stroke-width="0.8"><line x1="408.94" y1="70.90" x2="408.94" y2="73.90"/><line x1="406.34" y1="70.90" x2="411.54" y2="70.90"/><line x1="406.34" y1="73.90" x2="411.54" y2="73.90"/></g>
<circle cx="408.94" cy="72.40" r="0.85" fill="#3388EE"/>
<g stroke="#FFAA22" stroke-width="0.8"><line x1="409.44" y1="68.39" x2="409.44" y2="71.01"/><line x1="406.84" y1="68.39" x2="412.04" y2="68.39"/><line x1="406.84" y1="71.01" x2="412.04" y2="71.01"/></g>
<circle cx="409.44" cy="69.70" r="0.85" fill="#FFAA22"/>
<g stroke="#A8195A" stroke-width="0.8"><line x1="412.04" y1="64.27" x2="412.04" y2="67.13"/><line x1="409.44" y1="64.27" x2="414.64" y2="64.27"/><line x1="409.44" y1="67.13" x2="414.64" y2="67.13"/></g>
<circle cx="412.04" cy="65.70" r="0.85" fill="#A8195A"/>
<g stroke="#3388EE" stroke-width="0.8"><line x1="412.54" y1="71.93" x2="412.54" y2="76.47"/><line x1="409.94" y1="71.93" x2="415.14" y2="71.93"/><line x1="409.94" y1="76.47" x2="415.14" y2="76.47"/></g>
<circle cx="412.54" cy="74.20" r="0.85" fill="#3388EE"/>
<g stroke="#FFAA22" stroke-width="0.8"><line x1="413.04" y1="68.42" x2="413.04" y2="70.98"/><line x1="410.44" y1="68.42" x2="415.64" y2="68.42"/><line x1="410.44" y1="70.98" x2="415.64" y2="70.98"/></g>
<circle cx="413.04" cy="69.70" r="0.85" fill="#FFAA22"/>
<g stroke="#A8195A" stroke-width="0.8"><line x1="437.22" y1="58.97" x2="437.22" y2="62.43"/><line x1="434.62" y1="58.97" x2="439.82" y2="58.97"/><line x1="434.62" y1="62.43" x2="439.82" y2="62.43"/></g>
<circle cx="437.22" cy="60.70" r="0.85" fill="#A8195A"/>
<g stroke="#3388EE" stroke-width="0.8"><line x1="437.72" y1="63.50" x2="437.72" y2="66.90"/><line x1="435.12" y1="63.50" x2="440.32" y2="63.50"/><line x1="435.12" y1="66.90" x2="440.32" y2="66.90"/></g>
<circle cx="437.72" cy="65.20" r="0.85" fill="#3388EE"/>
<g stroke="#FFAA22" stroke-width="0.8"><line x1="438.22" y1="69.22" x2="438.22" y2="71.98"/><line x1="435.62" y1="69.22" x2="440.82" y2="69.22"/><line x1="435.62" y1="71.98" x2="440.82" y2="71.98"/></g>
<circle cx="438.22" cy="70.60" r="0.85" fill="#FFAA22"/>
<circle cx="81.57" cy="82.40" r="1.15" fill="#F0A8C0"/>
<circle cx="81.57" cy="92.60" r="1.15" fill="#A8B8F4"/>
<circle cx="81.57" cy="91.40" r="1.15" fill="#FFC890"/>
<circle cx="85.16" cy="83.00" r="1.15" fill="#F0A8C0"/>
<circle cx="85.16" cy="87.20" r="1.15" fill="#A8B8F4"/>
<circle cx="85.16" cy="90.80" r="1.15" fill="#FFC890"/>
<circle cx="88.76" cy="80.00" r="1.15" fill="#F0A8C0"/>
<circle cx="88.76" cy="83.60" r="1.15" fill="#A8B8F4"/>
<circle cx="88.76" cy="92.00" r="1.15" fill="#FFC890"/>
<circle cx="92.36" cy="87.20" r="1.15" fill="#FFC890"/>
<circle cx="121.14" cy="66.00" r="1.15" fill="#FFC890"/>
<circle cx="185.89" cy="27.00" r="1.15" fill="#F0A8C0"/>
<circle cx="185.89" cy="27.60" r="1.15" fill="#A8B8F4"/>
<circle cx="185.89" cy="36.40" r="1.15" fill="#FFC890"/>
<circle cx="189.49" cy="28.00" r="1.15" fill="#F0A8C0"/>
<circle cx="189.49" cy="27.60" r="1.15" fill="#A8B8F4"/>
<circle cx="189.49" cy="19.60" r="1.15" fill="#FFC890"/>
<circle cx="193.09" cy="28.00" r="1.15" fill="#F0A8C0"/>
<circle cx="193.09" cy="30.00" r="1.15" fill="#A8B8F4"/>
<circle cx="193.09" cy="37.60" r="1.15" fill="#FFC890"/>
<circle cx="196.69" cy="28.40" r="1.15" fill="#F0A8C0"/>
<circle cx="196.69" cy="29.60" r="1.15" fill="#A8B8F4"/>
<circle cx="196.69" cy="35.60" r="1.15" fill="#FFC890"/>
<circle cx="200.29" cy="28.40" r="1.15" fill="#F0A8C0"/>
<circle cx="200.29" cy="30.60" r="1.15" fill="#A8B8F4"/>
<circle cx="200.29" cy="34.00" r="1.15" fill="#FFC890"/>
<circle cx="203.88" cy="31.60" r="1.15" fill="#F0A8C0"/>
<circle cx="203.88" cy="35.60" r="1.15" fill="#A8B8F4"/>
<circle cx="203.88" cy="32.00" r="1.15" fill="#FFC890"/>
<circle cx="207.48" cy="36.00" r="1.15" fill="#F0A8C0"/>
<circle cx="207.48" cy="35.60" r="1.15" fill="#A8B8F4"/>
<circle cx="207.48" cy="37.00" r="1.15" fill="#FFC890"/>
<circle cx="252.81" cy="41.00" r="1.15" fill="#FFC890"/>
<circle cx="354.98" cy="51.00" r="1.15" fill="#F0A8C0"/>
<circle cx="354.98" cy="54.00" r="1.15" fill="#A8B8F4"/>
<circle cx="354.98" cy="57.00" r="1.15" fill="#FFC890"/>
<circle cx="358.58" cy="56.00" r="1.15" fill="#F0A8C0"/>
<circle cx="358.58" cy="59.00" r="1.15" fill="#A8B8F4"/>
<circle cx="358.58" cy="60.00" r="1.15" fill="#FFC890"/>
<circle cx="362.17" cy="63.00" r="1.15" fill="#F0A8C0"/>
<circle cx="362.17" cy="68.00" r="1.15" fill="#A8B8F4"/>
<circle cx="362.17" cy="64.00" r="1.15" fill="#FFC890"/>
<circle cx="372.97" cy="58.00" r="1.15" fill="#F0A8C0"/>
<circle cx="372.97" cy="62.50" r="1.15" fill="#A8B8F4"/>
<circle cx="372.97" cy="56.00" r="1.15" fill="#FFC890"/>
<circle cx="376.56" cy="58.00" r="1.15" fill="#F0A8C0"/>
<circle cx="376.56" cy="60.00" r="1.15" fill="#A8B8F4"/>
<circle cx="376.56" cy="57.00" r="1.15" fill="#FFC890"/>
<circle cx="416.14" cy="62.00" r="1.15" fill="#F0A8C0"/>
<circle cx="416.14" cy="64.80" r="1.15" fill="#A8B8F4"/>
<circle cx="416.14" cy="66.00" r="1.15" fill="#FFC890"/>
<circle cx="423.33" cy="70.00" r="1.15" fill="#F0A8C0"/>
<circle cx="423.33" cy="79.60" r="1.15" fill="#A8B8F4"/>
<circle cx="423.33" cy="73.00" r="1.15" fill="#FFC890"/>
<circle cx="426.93" cy="69.70" r="1.15" fill="#F0A8C0"/>
<circle cx="426.93" cy="75.00" r="1.15" fill="#A8B8F4"/>
<circle cx="426.93" cy="72.00" r="1.15" fill="#FFC890"/>
<circle cx="430.53" cy="71.00" r="1.15" fill="#F0A8C0"/>
<circle cx="430.53" cy="76.00" r="1.15" fill="#A8B8F4"/>
<circle cx="430.53" cy="73.00" r="1.15" fill="#FFC890"/>
<circle cx="434.12" cy="72.50" r="1.15" fill="#F0A8C0"/>
<circle cx="434.12" cy="77.50" r="1.15" fill="#A8B8F4"/>
<circle cx="434.12" cy="75.00" r="1.15" fill="#FFC890"/>
<text x="56.60" y="18.90" font-family="Liberation Sans" font-size="10" text-anchor="start" fill="#222" >a)</text>
<text transform="translate(17.9,52.6) rotate(-90)" font-family="Liberation Serif" font-size="9" text-anchor="middle" fill="#666"><tspan font-style="italic">ε</tspan> [W kg<tspan dy="-3.2" font-size="6.3">−1</tspan><tspan dy="3.2">]</tspan></text>
<rect x="381.3" y="10.4" width="77.4" height="19.8" fill="#fff" stroke="#808080" stroke-width="0.9"/>
<circle cx="397.5" cy="15.8" r="1.15" fill="#A8B8F4"/>
<text x="413.60" y="18.70" font-family="Liberation Serif" font-size="7.6" text-anchor="start" fill="#111" textLength="21.4" lengthAdjust="spacingAndGlyphs">flagged</text>
<g stroke="#3388EE" stroke-width="0.9"><line x1="397.5" y1="21" x2="397.5" y2="27.8"/><line x1="394.6" y1="21" x2="400.4" y2="21"/><line x1="394.6" y1="27.8" x2="400.4" y2="27.8"/></g>
<circle cx="397.5" cy="24.4" r="0.9" fill="#3388EE"/>
<text x="413.30" y="26.80" font-family="Liberation Serif" font-size="7.6" text-anchor="start" fill="#111" textLength="42.6" lengthAdjust="spacingAndGlyphs">95% bootstrap</text>
<line x1="106.75" y1="104.50" x2="106.75" y2="150.50" stroke="#ebebeb" stroke-width="0.6" />
<line x1="178.70" y1="104.50" x2="178.70" y2="150.50" stroke="#ebebeb" stroke-width="0.6" />
<line x1="250.65" y1="104.50" x2="250.65" y2="150.50" stroke="#ebebeb" stroke-width="0.6" />
<line x1="322.60" y1="104.50" x2="322.60" y2="150.50" stroke="#ebebeb" stroke-width="0.6" />
<line x1="394.55" y1="104.50" x2="394.55" y2="150.50" stroke="#ebebeb" stroke-width="0.6" />
<line x1="466.50" y1="104.50" x2="466.50" y2="150.50" stroke="#ebebeb" stroke-width="0.6" />
<line x1="34.50" y1="104.50" x2="34.50" y2="150.50" stroke="#707070" stroke-width="1" />
<line x1="34.00" y1="104.70" x2="462.50" y2="104.70" stroke="#8a8a8a" stroke-width="1.5" />
<line x1="462.50" y1="104.50" x2="466.50" y2="104.50" stroke="#4DAF4A" stroke-width="1.0" />
<line x1="34.00" y1="150.50" x2="462.50" y2="150.50" stroke="#707070" stroke-width="1.0" />
<line x1="462.50" y1="150.50" x2="466.50" y2="150.50" stroke="#4DAF4A" stroke-width="1.0" />
<line x1="34.80" y1="104.50" x2="34.80" y2="108.50" stroke="#707070" stroke-width="0.8" />
<line x1="34.80" y1="150.50" x2="34.80" y2="146.50" stroke="#707070" stroke-width="0.8" />
<line x1="52.79" y1="150.50" x2="52.79" y2="148.50" stroke="#707070" stroke-width="0.8" />
<line x1="70.78" y1="150.50" x2="70.78" y2="148.50" stroke="#707070" stroke-width="0.8" />
<line x1="88.76" y1="150.50" x2="88.76" y2="148.50" stroke="#707070" stroke-width="0.8" />
<line x1="106.75" y1="104.50" x2="106.75" y2="108.50" stroke="#707070" stroke-width="0.8" />
<line x1="106.75" y1="150.50" x2="106.75" y2="146.50" stroke="#707070" stroke-width="0.8" />
<line x1="124.74" y1="150.50" x2="124.74" y2="148.50" stroke="#707070" stroke-width="0.8" />
<line x1="142.73" y1="150.50" x2="142.73" y2="148.50" stroke="#707070" stroke-width="0.8" />
<line x1="160.71" y1="150.50" x2="160.71" y2="148.50" stroke="#707070" stroke-width="0.8" />
<line x1="178.70" y1="104.50" x2="178.70" y2="108.50" stroke="#707070" stroke-width="0.8" />
<line x1="178.70" y1="150.50" x2="178.70" y2="146.50" stroke="#707070" stroke-width="0.8" />
<line x1="196.69" y1="150.50" x2="196.69" y2="148.50" stroke="#707070" stroke-width="0.8" />
<line x1="214.68" y1="150.50" x2="214.68" y2="148.50" stroke="#707070" stroke-width="0.8" />
<line x1="232.66" y1="150.50" x2="232.66" y2="148.50" stroke="#707070" stroke-width="0.8" />
<line x1="250.65" y1="104.50" x2="250.65" y2="108.50" stroke="#707070" stroke-width="0.8" />
<line x1="250.65" y1="150.50" x2="250.65" y2="146.50" stroke="#707070" stroke-width="0.8" />
<line x1="268.64" y1="150.50" x2="268.64" y2="148.50" stroke="#707070" stroke-width="0.8" />
<line x1="286.62" y1="150.50" x2="286.62" y2="148.50" stroke="#707070" stroke-width="0.8" />
<line x1="304.61" y1="150.50" x2="304.61" y2="148.50" stroke="#707070" stroke-width="0.8" />
<line x1="322.60" y1="104.50" x2="322.60" y2="108.50" stroke="#707070" stroke-width="0.8" />
<line x1="322.60" y1="150.50" x2="322.60" y2="146.50" stroke="#707070" stroke-width="0.8" />
<line x1="340.59" y1="150.50" x2="340.59" y2="148.50" stroke="#707070" stroke-width="0.8" />
<line x1="358.58" y1="150.50" x2="358.58" y2="148.50" stroke="#707070" stroke-width="0.8" />
<line x1="376.56" y1="150.50" x2="376.56" y2="148.50" stroke="#707070" stroke-width="0.8" />
<line x1="394.55" y1="104.50" x2="394.55" y2="108.50" stroke="#707070" stroke-width="0.8" />
<line x1="394.55" y1="150.50" x2="394.55" y2="146.50" stroke="#707070" stroke-width="0.8" />
<line x1="412.54" y1="150.50" x2="412.54" y2="148.50" stroke="#707070" stroke-width="0.8" />
<line x1="430.53" y1="150.50" x2="430.53" y2="148.50" stroke="#707070" stroke-width="0.8" />
<line x1="448.51" y1="150.50" x2="448.51" y2="148.50" stroke="#707070" stroke-width="0.8" />
<line x1="466.50" y1="104.50" x2="466.50" y2="150.50" stroke="#4DAF4A" stroke-width="1.0" />
<line x1="462.50" y1="127.40" x2="466.50" y2="127.40" stroke="#4DAF4A" stroke-width="0.8" />
<line x1="34.50" y1="108.90" x2="38.70" y2="108.90" stroke="#707070" stroke-width="0.8" />
<text x="31.30" y="113.20" font-family="Liberation Serif" font-size="10.0" text-anchor="end" fill="#333" >3</text>
<line x1="34.50" y1="122.60" x2="38.70" y2="122.60" stroke="#707070" stroke-width="0.8" />
<text x="31.30" y="126.90" font-family="Liberation Serif" font-size="10.0" text-anchor="end" fill="#333" >2</text>
<line x1="34.50" y1="136.40" x2="38.70" y2="136.40" stroke="#707070" stroke-width="0.8" />
<text x="31.30" y="140.70" font-family="Liberation Serif" font-size="10.0" text-anchor="end" fill="#333" >1</text>
<line x1="34.50" y1="150.20" x2="38.70" y2="150.20" stroke="#707070" stroke-width="0.8" />
<text x="31.30" y="154.50" font-family="Liberation Serif" font-size="10.0" text-anchor="end" fill="#333" >0</text>
<text x="469.60" y="108.50" font-family="Liberation Serif" font-size="10" text-anchor="start" fill="#4DAF4A" >1</text>
<text x="469.60" y="131.20" font-family="Liberation Serif" font-size="10" text-anchor="start" fill="#4DAF4A" >0.5</text>
<text x="469.60" y="153.70" font-family="Liberation Serif" font-size="10" text-anchor="start" fill="#4DAF4A" >0</text>
<polyline points="35.00,143.60 39.00,142.80 44.10,141.80 50.60,143.60 56.00,144.80 61.00,146.20 66.00,147.80 71.40,149.30 76.00,148.00 80.50,146.20 87.00,144.90 92.00,144.50 97.40,144.10 103.90,143.60 107.80,142.30 113.00,142.00 118.20,141.50 123.00,141.00 128.60,140.50 134.00,140.50 139.00,140.50 141.60,138.90 146.80,140.50 150.00,139.50 154.60,138.40 159.80,137.10 165.00,135.80 171.25,135.00 177.50,130.00 187.50,123.75 192.00,118.00 197.50,112.50 202.50,113.75 207.50,118.75 211.00,126.00 215.00,132.00 218.75,131.25 222.00,127.00 226.25,122.50 230.00,122.00 233.00,124.50 237.50,128.75 242.50,129.50 247.50,128.25 253.75,128.25 257.00,125.00 261.25,122.00 265.00,123.00 268.00,127.00 272.50,131.25 276.25,130.50 280.00,126.25 283.00,122.00 286.25,119.50 290.00,121.25 295.00,127.50 300.00,133.75 305.00,132.50 310.00,131.25 315.00,130.00 320.00,127.50 325.00,126.25 328.75,127.50 335.00,133.75 340.00,136.75 345.00,136.25 350.00,135.00 352.50,141.25 355.00,146.25 358.75,147.50 362.50,138.75 365.00,135.00 370.00,140.00 375.00,145.00 380.00,146.25 385.00,145.75 390.00,147.00 395.00,142.50 400.00,139.00 404.00,142.00 408.00,143.00 412.00,143.00 415.00,146.00 420.00,148.60 424.00,147.40 428.00,148.00 432.00,147.40 437.00,145.40" fill="none" stroke="#4DAF4A" stroke-width="1.25" stroke-linejoin="round" />
<polyline points="38.40,148.40 45.00,148.20 52.00,148.30 58.00,148.00 62.00,147.60 66.75,145.50 70.75,136.75 74.25,143.75 78.00,147.80 85.00,148.40 100.00,148.20 120.00,148.60 140.00,148.20 160.00,148.60 180.00,148.40 200.00,148.60 220.00,148.20 240.00,148.50 260.00,148.60 280.00,148.20 300.00,148.50 320.00,148.40 340.00,148.20 350.00,148.00 354.50,130.50 358.25,136.25 361.25,140.00 363.75,146.25 367.50,142.50 373.00,143.00 376.25,144.50 380.00,146.25 390.00,146.50 400.00,148.00 411.00,148.00 415.00,141.40 419.60,109.00 423.60,138.60 427.00,143.00 430.00,143.60 434.00,143.60 437.00,144.00" fill="none" stroke="#555555" stroke-width="0.8" stroke-linejoin="round" />
<circle cx="66.75" cy="145.5" r="2.0" fill="none" stroke="#5555AA" stroke-width="0.8"/>
<circle cx="70.75" cy="136.75" r="2.0" fill="none" stroke="#5555AA" stroke-width="0.8"/>
<circle cx="74.25" cy="143.75" r="2.0" fill="none" stroke="#5555AA" stroke-width="0.8"/>
<circle cx="354.5" cy="130.5" r="2.0" fill="none" stroke="#5555AA" stroke-width="0.8"/>
<circle cx="358.25" cy="136.25" r="2.0" fill="none" stroke="#5555AA" stroke-width="0.8"/>
<circle cx="361.25" cy="140" r="2.0" fill="none" stroke="#5555AA" stroke-width="0.8"/>
<circle cx="373" cy="143" r="2.0" fill="none" stroke="#5555AA" stroke-width="0.8"/>
<circle cx="376.25" cy="144.5" r="2.0" fill="none" stroke="#5555AA" stroke-width="0.8"/>
<circle cx="415" cy="141.4" r="2.0" fill="none" stroke="#5555AA" stroke-width="0.8"/>
<circle cx="419.6" cy="109" r="2.0" fill="none" stroke="#5555AA" stroke-width="0.8"/>
<circle cx="423.6" cy="138.6" r="2.0" fill="none" stroke="#5555AA" stroke-width="0.8"/>
<circle cx="427" cy="143" r="2.0" fill="none" stroke="#5555AA" stroke-width="0.8"/>
<circle cx="430" cy="143.6" r="2.0" fill="none" stroke="#5555AA" stroke-width="0.8"/>
<circle cx="434" cy="143.6" r="2.0" fill="none" stroke="#5555AA" stroke-width="0.8"/>
<text x="56.60" y="113.20" font-family="Liberation Sans" font-size="9.2" text-anchor="start" fill="#222" >b)</text>
<rect x="42.3" y="122.4" width="57.2" height="11.2" fill="#fff" stroke="#808080" stroke-width="0.9"/>
<circle cx="58.8" cy="127.6" r="2.0" fill="none" stroke="#5555AA" stroke-width="0.8"/>
<text x="74.30" y="130.30" font-family="Liberation Serif" font-size="7.6" text-anchor="start" fill="#111" textLength="21.6" lengthAdjust="spacingAndGlyphs">flagged</text>
<text transform="translate(21.6,127.8) rotate(-90)" font-family="Liberation Serif" font-size="11.6" text-anchor="middle" fill="#222"><tspan font-style="italic">u</tspan><tspan font-size="8" dy="1.5">rms</tspan><tspan dy="-1.5">/</tspan><tspan font-style="italic">U</tspan></text>
<line x1="12.00" y1="112.20" x2="12.00" y2="120.20" stroke="#222" stroke-width="0.7" />
<text transform="translate(494.2,128) rotate(-90)" font-family="Liberation Serif" font-size="11" text-anchor="middle" fill="#4DAF4A"><tspan font-style="italic">U</tspan> [m/s]</text>
<line x1="484.60" y1="137.60" x2="484.60" y2="144.60" stroke="#4DAF4A" stroke-width="0.7" />
<line x1="106.75" y1="154.80" x2="106.75" y2="200.00" stroke="#ebebeb" stroke-width="0.6" />
<line x1="178.70" y1="154.80" x2="178.70" y2="200.00" stroke="#ebebeb" stroke-width="0.6" />
<line x1="250.65" y1="154.80" x2="250.65" y2="200.00" stroke="#ebebeb" stroke-width="0.6" />
<line x1="322.60" y1="154.80" x2="322.60" y2="200.00" stroke="#ebebeb" stroke-width="0.6" />
<line x1="394.55" y1="154.80" x2="394.55" y2="200.00" stroke="#ebebeb" stroke-width="0.6" />
<line x1="466.50" y1="154.80" x2="466.50" y2="200.00" stroke="#ebebeb" stroke-width="0.6" />
<line x1="34.50" y1="154.80" x2="34.50" y2="200.20" stroke="#707070" stroke-width="1" />
<line x1="34.50" y1="200.00" x2="466.50" y2="200.00" stroke="#707070" stroke-width="1" />
<line x1="34.80" y1="200.00" x2="34.80" y2="196.00" stroke="#707070" stroke-width="0.8" />
<line x1="52.79" y1="200.00" x2="52.79" y2="198.00" stroke="#707070" stroke-width="0.8" />
<line x1="70.78" y1="200.00" x2="70.78" y2="198.00" stroke="#707070" stroke-width="0.8" />
<line x1="88.76" y1="200.00" x2="88.76" y2="198.00" stroke="#707070" stroke-width="0.8" />
<line x1="106.75" y1="200.00" x2="106.75" y2="196.00" stroke="#707070" stroke-width="0.8" />
<line x1="124.74" y1="200.00" x2="124.74" y2="198.00" stroke="#707070" stroke-width="0.8" />
<line x1="142.73" y1="200.00" x2="142.73" y2="198.00" stroke="#707070" stroke-width="0.8" />
<line x1="160.71" y1="200.00" x2="160.71" y2="198.00" stroke="#707070" stroke-width="0.8" />
<line x1="178.70" y1="200.00" x2="178.70" y2="196.00" stroke="#707070" stroke-width="0.8" />
<line x1="196.69" y1="200.00" x2="196.69" y2="198.00" stroke="#707070" stroke-width="0.8" />
<line x1="214.68" y1="200.00" x2="214.68" y2="198.00" stroke="#707070" stroke-width="0.8" />
<line x1="232.66" y1="200.00" x2="232.66" y2="198.00" stroke="#707070" stroke-width="0.8" />
<line x1="250.65" y1="200.00" x2="250.65" y2="196.00" stroke="#707070" stroke-width="0.8" />
<line x1="268.64" y1="200.00" x2="268.64" y2="198.00" stroke="#707070" stroke-width="0.8" />
<line x1="286.62" y1="200.00" x2="286.62" y2="198.00" stroke="#707070" stroke-width="0.8" />
<line x1="304.61" y1="200.00" x2="304.61" y2="198.00" stroke="#707070" stroke-width="0.8" />
<line x1="322.60" y1="200.00" x2="322.60" y2="196.00" stroke="#707070" stroke-width="0.8" />
<line x1="340.59" y1="200.00" x2="340.59" y2="198.00" stroke="#707070" stroke-width="0.8" />
<line x1="358.58" y1="200.00" x2="358.58" y2="198.00" stroke="#707070" stroke-width="0.8" />
<line x1="376.56" y1="200.00" x2="376.56" y2="198.00" stroke="#707070" stroke-width="0.8" />
<line x1="394.55" y1="200.00" x2="394.55" y2="196.00" stroke="#707070" stroke-width="0.8" />
<line x1="412.54" y1="200.00" x2="412.54" y2="198.00" stroke="#707070" stroke-width="0.8" />
<line x1="430.53" y1="200.00" x2="430.53" y2="198.00" stroke="#707070" stroke-width="0.8" />
<line x1="448.51" y1="200.00" x2="448.51" y2="198.00" stroke="#707070" stroke-width="0.8" />
<line x1="466.50" y1="200.00" x2="466.50" y2="196.00" stroke="#707070" stroke-width="0.8" />
<line x1="34.50" y1="192.50" x2="39.00" y2="192.50" stroke="#707070" stroke-width="0.8" />
<line x1="34.50" y1="177.40" x2="39.00" y2="177.40" stroke="#707070" stroke-width="0.8" />
<line x1="34.50" y1="162.30" x2="39.00" y2="162.30" stroke="#707070" stroke-width="0.8" />
<text x="27.40" y="166.80" font-family="Liberation Serif" font-size="10" text-anchor="end" fill="#666" textLength="7.8" lengthAdjust="spacingAndGlyphs">10</text>
<text x="27.60" y="163.30" font-family="Liberation Serif" font-size="7.2" text-anchor="start" fill="#666" >5</text>
<text x="27.40" y="181.90" font-family="Liberation Serif" font-size="10" text-anchor="end" fill="#666" textLength="7.8" lengthAdjust="spacingAndGlyphs">10</text>
<text x="27.60" y="178.40" font-family="Liberation Serif" font-size="7.2" text-anchor="start" fill="#666" >3</text>
<text x="27.40" y="197.00" font-family="Liberation Serif" font-size="10" text-anchor="end" fill="#666" textLength="7.8" lengthAdjust="spacingAndGlyphs">10</text>
<text x="27.60" y="193.50" font-family="Liberation Serif" font-size="7.2" text-anchor="start" fill="#666" >1</text>
<line x1="34.80" y1="196.30" x2="466.50" y2="196.30" stroke="#444" stroke-width="0.8" stroke-dasharray="2.1,1.4"/>
<polyline points="38.75,172.00 43.75,173.00 47.50,173.75 51.25,172.50 55.00,171.25 60.00,167.50 63.00,168.75" fill="none" stroke="#FFAA22" stroke-width="0.8" stroke-linejoin="round" />
<polyline points="78.00,163.00 82.50,168.75 86.25,167.50 90.00,172.50 95.00,170.00 98.75,168.75 102.50,167.50 106.25,175.00 110.00,170.00 113.75,172.50 117.50,171.25 121.25,176.25 125.00,173.75 128.75,171.25 132.50,172.50 136.25,170.00 140.00,170.50 143.00,165.50 146.25,164.50 150.00,176.25 153.75,175.00 157.50,168.00 160.00,163.75 165.00,165.00 171.25,168.75 176.25,165.00 181.25,162.50 186.25,168.00 190.00,170.00 195.00,172.50 200.00,173.75 206.25,165.00 211.25,166.25 216.25,163.75 221.25,172.50 225.00,162.50 228.75,168.75 233.75,171.25 238.75,168.75 243.75,173.75 247.50,163.75 252.50,167.50 257.50,168.75 262.50,170.00 267.50,166.25 272.50,165.00 277.50,161.25 280.00,165.50 285.00,161.50 288.75,172.50 293.75,168.75 297.50,170.00 301.25,161.25 305.00,170.00 308.75,171.25 312.50,167.50 315.00,172.50 318.75,163.75 322.50,173.75 327.50,172.50 332.50,168.75 336.25,167.50 341.25,162.50 345.00,167.50 348.75,170.00 352.50,165.00 355.00,155.50 358.75,165.00 362.50,166.25 368.75,167.50 372.50,161.25 375.00,155.00 380.00,160.00 385.00,160.00 387.50,158.75 391.00,160.00 395.00,171.25 398.00,175.00 402.50,165.00 405.00,158.75 408.75,165.00 412.50,166.25 416.20,158.75" fill="none" stroke="#FFAA22" stroke-width="0.8" stroke-linejoin="round" />
<polyline points="423.75,155.00 427.50,159.00 431.25,155.00 435.00,159.00 437.50,155.00" fill="none" stroke="#FFAA22" stroke-width="0.8" stroke-linejoin="round" />
<polyline points="38.75,175.75 43.75,176.25 48.75,174.50 53.75,173.00 57.50,173.75 60.00,180.00 63.00,170.00" fill="none" stroke="#3388EE" stroke-width="0.8" stroke-linejoin="round" />
<polyline points="78.00,173.00 82.50,182.50 86.25,181.25 91.25,180.50 96.25,180.00 100.00,175.00 107.50,175.50 115.00,176.25 122.50,177.50 127.50,182.50 131.25,178.75 135.00,177.50 140.00,180.00 145.00,178.75 150.00,181.25 155.00,180.00 160.00,173.75 166.25,177.50 171.25,175.00 176.25,175.00 180.00,170.50 185.50,183.75 190.00,168.00 195.00,173.75 200.00,179.50 205.00,173.75 210.00,175.00 215.00,177.50 218.75,180.00 222.50,178.75 226.25,175.00 231.25,178.00 236.25,174.50 241.25,175.00 250.00,175.00 255.00,180.00 260.00,175.00 265.00,176.25 271.25,171.25 276.25,181.25 280.00,175.00 283.75,178.75 288.75,175.00 293.75,181.25 298.75,178.75 305.00,178.75 311.25,175.00 315.00,178.75 320.00,173.75 325.00,174.25 330.00,173.75 335.00,173.00 340.00,176.25 345.00,178.75 350.00,179.50 355.00,168.75 358.75,167.50 362.50,172.50 368.75,178.00 372.50,165.50 377.50,176.25 385.00,172.50 390.00,170.00 395.00,180.00 398.75,180.00 402.50,176.25 407.50,175.00 415.00,173.75" fill="none" stroke="#3388EE" stroke-width="0.8" stroke-linejoin="round" />
<polyline points="431.25,173.75 433.75,180.00 437.50,180.00" fill="none" stroke="#3388EE" stroke-width="0.8" stroke-linejoin="round" />
<polyline points="38.75,180.50 45.00,182.50 50.00,178.00 55.00,178.00 58.75,171.75 61.25,177.50 63.00,176.25" fill="none" stroke="#A8195A" stroke-width="0.8" stroke-linejoin="round" />
<polyline points="78.00,182.50 82.50,185.00 87.50,182.50 91.25,183.75 96.25,178.75 100.00,183.00 105.00,180.00 110.00,181.25 115.00,180.00 120.00,182.50 125.00,180.00 131.25,183.75 135.00,178.75 140.00,180.00 145.00,179.50 150.00,178.75 155.00,180.00 160.00,177.50 166.25,177.50 172.50,182.00 177.50,178.75 182.50,173.75 188.75,172.50 193.75,182.00 198.75,181.25 205.00,177.50 210.00,178.75 215.00,179.50 220.00,180.00 225.00,177.50 230.00,180.00 235.00,176.25 240.00,175.00 245.00,176.25 250.00,175.00 255.00,181.25 260.00,176.25 265.00,177.50 271.25,172.50 276.25,180.00 278.75,180.00 282.50,174.50 287.50,180.00 292.50,177.50 297.50,176.25 302.50,176.25 307.50,177.50 313.75,179.50 320.00,173.75 325.00,173.75 330.00,175.00 332.50,182.00 337.50,172.50 342.50,176.25 347.50,178.75 352.50,178.25 358.75,172.00 363.75,180.00 368.75,181.25 375.00,178.75 380.00,185.00 387.50,175.00 391.25,172.50 395.00,180.00 400.00,177.50 405.00,177.50 410.00,181.25 415.00,181.25" fill="none" stroke="#A8195A" stroke-width="0.8" stroke-linejoin="round" />
<polyline points="425.00,177.50 428.75,173.75 432.50,178.75 436.25,173.75" fill="none" stroke="#A8195A" stroke-width="0.8" stroke-linejoin="round" />
<text x="56.80" y="163.40" font-family="Liberation Sans" font-size="9.2" text-anchor="start" fill="#222" >c)</text>
<rect x="416.3" y="159.3" width="42.4" height="13.8" fill="#fff" stroke="#808080" stroke-width="0.9"/>
<line x1="418.80" y1="166.40" x2="444.50" y2="166.40" stroke="#444" stroke-width="0.8" stroke-dasharray="2.1,1.4"/>
<text x="448.60" y="167.60" font-family="Liberation Serif" font-size="8" text-anchor="start" fill="#333" >T</text>
<text x="452.90" y="170.60" font-family="Liberation Serif" font-size="5.6" text-anchor="start" fill="#333" >n</text>
<text transform="translate(13.2,177.6) rotate(-90)" font-family="Liberation Serif" font-size="12.5" text-anchor="middle" fill="#666"><tspan font-style="italic">ε</tspan>/<tspan font-style="italic">ε</tspan><tspan font-size="8.5" dy="1.6">m</tspan></text>
<path d="M7.3,186.9 L5.8,185.3 L7.3,183.7" fill="none" stroke="#666" stroke-width="0.6"/>
<line x1="106.75" y1="205.40" x2="106.75" y2="250.50" stroke="#ebebeb" stroke-width="0.6" />
<line x1="178.70" y1="205.40" x2="178.70" y2="250.50" stroke="#ebebeb" stroke-width="0.6" />
<line x1="250.65" y1="205.40" x2="250.65" y2="250.50" stroke="#ebebeb" stroke-width="0.6" />
<line x1="322.60" y1="205.40" x2="322.60" y2="250.50" stroke="#ebebeb" stroke-width="0.6" />
<line x1="394.55" y1="205.40" x2="394.55" y2="250.50" stroke="#ebebeb" stroke-width="0.6" />
<line x1="466.50" y1="205.40" x2="466.50" y2="250.50" stroke="#ebebeb" stroke-width="0.6" />
<line x1="34.50" y1="205.40" x2="34.50" y2="250.70" stroke="#707070" stroke-width="1" />
<line x1="34.50" y1="250.50" x2="466.50" y2="250.50" stroke="#707070" stroke-width="1" />
<line x1="34.80" y1="250.50" x2="34.80" y2="246.50" stroke="#707070" stroke-width="0.8" />
<line x1="52.79" y1="250.50" x2="52.79" y2="248.50" stroke="#707070" stroke-width="0.8" />
<line x1="70.78" y1="250.50" x2="70.78" y2="248.50" stroke="#707070" stroke-width="0.8" />
<line x1="88.76" y1="250.50" x2="88.76" y2="248.50" stroke="#707070" stroke-width="0.8" />
<line x1="106.75" y1="250.50" x2="106.75" y2="246.50" stroke="#707070" stroke-width="0.8" />
<line x1="124.74" y1="250.50" x2="124.74" y2="248.50" stroke="#707070" stroke-width="0.8" />
<line x1="142.73" y1="250.50" x2="142.73" y2="248.50" stroke="#707070" stroke-width="0.8" />
<line x1="160.71" y1="250.50" x2="160.71" y2="248.50" stroke="#707070" stroke-width="0.8" />
<line x1="178.70" y1="250.50" x2="178.70" y2="246.50" stroke="#707070" stroke-width="0.8" />
<line x1="196.69" y1="250.50" x2="196.69" y2="248.50" stroke="#707070" stroke-width="0.8" />
<line x1="214.68" y1="250.50" x2="214.68" y2="248.50" stroke="#707070" stroke-width="0.8" />
<line x1="232.66" y1="250.50" x2="232.66" y2="248.50" stroke="#707070" stroke-width="0.8" />
<line x1="250.65" y1="250.50" x2="250.65" y2="246.50" stroke="#707070" stroke-width="0.8" />
<line x1="268.64" y1="250.50" x2="268.64" y2="248.50" stroke="#707070" stroke-width="0.8" />
<line x1="286.62" y1="250.50" x2="286.62" y2="248.50" stroke="#707070" stroke-width="0.8" />
<line x1="304.61" y1="250.50" x2="304.61" y2="248.50" stroke="#707070" stroke-width="0.8" />
<line x1="322.60" y1="250.50" x2="322.60" y2="246.50" stroke="#707070" stroke-width="0.8" />
<line x1="340.59" y1="250.50" x2="340.59" y2="248.50" stroke="#707070" stroke-width="0.8" />
<line x1="358.58" y1="250.50" x2="358.58" y2="248.50" stroke="#707070" stroke-width="0.8" />
<line x1="376.56" y1="250.50" x2="376.56" y2="248.50" stroke="#707070" stroke-width="0.8" />
<line x1="394.55" y1="250.50" x2="394.55" y2="246.50" stroke="#707070" stroke-width="0.8" />
<line x1="412.54" y1="250.50" x2="412.54" y2="248.50" stroke="#707070" stroke-width="0.8" />
<line x1="430.53" y1="250.50" x2="430.53" y2="248.50" stroke="#707070" stroke-width="0.8" />
<line x1="448.51" y1="250.50" x2="448.51" y2="248.50" stroke="#707070" stroke-width="0.8" />
<line x1="466.50" y1="250.50" x2="466.50" y2="246.50" stroke="#707070" stroke-width="0.8" />
<line x1="34.50" y1="250.50" x2="38.70" y2="250.50" stroke="#707070" stroke-width="0.8" />
<text x="31.40" y="253.80" font-family="Liberation Serif" font-size="9.6" text-anchor="end" fill="#333" >0</text>
<line x1="34.50" y1="239.25" x2="38.70" y2="239.25" stroke="#707070" stroke-width="0.8" />
<text x="31.40" y="242.55" font-family="Liberation Serif" font-size="9.6" text-anchor="end" fill="#333" >5</text>
<line x1="34.50" y1="228.00" x2="38.70" y2="228.00" stroke="#707070" stroke-width="0.8" />
<text x="31.40" y="231.30" font-family="Liberation Serif" font-size="9.6" text-anchor="end" fill="#333" >10</text>
<line x1="34.50" y1="216.75" x2="38.70" y2="216.75" stroke="#707070" stroke-width="0.8" />
<text x="31.40" y="220.05" font-family="Liberation Serif" font-size="9.6" text-anchor="end" fill="#333" >15</text>
<line x1="34.50" y1="205.50" x2="38.70" y2="205.50" stroke="#707070" stroke-width="0.8" />
<text x="31.40" y="208.80" font-family="Liberation Serif" font-size="9.6" text-anchor="end" fill="#333" >20</text>
<line x1="34.80" y1="227.50" x2="466.50" y2="227.50" stroke="#444" stroke-width="0.8" stroke-dasharray="2.1,1.4"/>
<polyline points="35.00,250.50 155.00,250.50 160.00,248.50 167.50,248.75 177.00,249.25 182.00,241.75 185.50,222.25 189.25,214.25 192.75,226.75 196.25,221.75 200.00,217.50 203.75,220.00 207.25,216.00 210.00,225.50 215.00,244.25 218.75,247.50 222.50,244.25 226.25,245.50 230.00,239.25 233.75,233.50 237.00,235.50 243.75,249.25 250.00,248.00 257.50,244.25 265.00,242.50 271.25,241.00 275.00,233.50 282.50,246.00 290.50,236.75 293.75,239.25 298.00,246.75 303.75,248.00 307.50,246.75 312.00,241.75 316.25,245.50 319.50,249.25 325.00,247.25 328.75,247.25 333.75,244.50 338.75,249.25 342.50,250.50 365.00,250.50 368.75,249.30 372.00,250.50 437.50,250.50" fill="none" stroke="#6B6BC0" stroke-width="0.8" stroke-linejoin="round" />
<circle cx="185.5" cy="222.25" r="2.0" fill="none" stroke="#5555AA" stroke-width="0.8"/>
<circle cx="189.25" cy="214.25" r="2.0" fill="none" stroke="#5555AA" stroke-width="0.8"/>
<circle cx="192.75" cy="226.75" r="2.0" fill="none" stroke="#5555AA" stroke-width="0.8"/>
<circle cx="196.25" cy="221.75" r="2.0" fill="none" stroke="#5555AA" stroke-width="0.8"/>
<circle cx="200" cy="217.5" r="2.0" fill="none" stroke="#5555AA" stroke-width="0.8"/>
<circle cx="203.75" cy="220" r="2.0" fill="none" stroke="#5555AA" stroke-width="0.8"/>
<circle cx="207.25" cy="216" r="2.0" fill="none" stroke="#5555AA" stroke-width="0.8"/>
<text x="56.60" y="213.80" font-family="Liberation Sans" font-size="9.2" text-anchor="start" fill="#222" >d)</text>
<rect x="402" y="208.5" width="56.3" height="23.8" fill="#fff" stroke="#808080" stroke-width="0.9"/>
<line x1="404.50" y1="216.00" x2="430.50" y2="216.00" stroke="#444" stroke-width="0.8" stroke-dasharray="2.1,1.4"/>
<text x="434.40" y="218.20" font-family="Liberation Serif" font-size="8" text-anchor="start" fill="#333" >T</text>
<text x="439.00" y="221.60" font-family="Liberation Serif" font-size="5.6" text-anchor="start" fill="#333" >p</text>
<circle cx="418.3" cy="226.8" r="2.0" fill="none" stroke="#5555AA" stroke-width="0.8"/>
<text x="434.40" y="229.70" font-family="Liberation Serif" font-size="7.6" text-anchor="start" fill="#111" textLength="21.6" lengthAdjust="spacingAndGlyphs">flagged</text>
<text transform="translate(17.9,227.4) rotate(-90)" font-family="Liberation Serif" font-size="10" text-anchor="middle" fill="#333">Missing [%]</text>
<line x1="106.75" y1="255.50" x2="106.75" y2="300.50" stroke="#ebebeb" stroke-width="0.6" />
<line x1="178.70" y1="255.50" x2="178.70" y2="300.50" stroke="#ebebeb" stroke-width="0.6" />
<line x1="250.65" y1="255.50" x2="250.65" y2="300.50" stroke="#ebebeb" stroke-width="0.6" />
<line x1="322.60" y1="255.50" x2="322.60" y2="300.50" stroke="#ebebeb" stroke-width="0.6" />
<line x1="394.55" y1="255.50" x2="394.55" y2="300.50" stroke="#ebebeb" stroke-width="0.6" />
<line x1="466.50" y1="255.50" x2="466.50" y2="300.50" stroke="#ebebeb" stroke-width="0.6" />
<line x1="34.50" y1="255.50" x2="34.50" y2="300.70" stroke="#707070" stroke-width="1" />
<line x1="34.50" y1="300.50" x2="466.50" y2="300.50" stroke="#707070" stroke-width="1" />
<line x1="34.80" y1="300.50" x2="34.80" y2="296.50" stroke="#707070" stroke-width="0.8" />
<line x1="52.79" y1="300.50" x2="52.79" y2="298.50" stroke="#707070" stroke-width="0.8" />
<line x1="70.78" y1="300.50" x2="70.78" y2="298.50" stroke="#707070" stroke-width="0.8" />
<line x1="88.76" y1="300.50" x2="88.76" y2="298.50" stroke="#707070" stroke-width="0.8" />
<line x1="106.75" y1="300.50" x2="106.75" y2="296.50" stroke="#707070" stroke-width="0.8" />
<line x1="124.74" y1="300.50" x2="124.74" y2="298.50" stroke="#707070" stroke-width="0.8" />
<line x1="142.73" y1="300.50" x2="142.73" y2="298.50" stroke="#707070" stroke-width="0.8" />
<line x1="160.71" y1="300.50" x2="160.71" y2="298.50" stroke="#707070" stroke-width="0.8" />
<line x1="178.70" y1="300.50" x2="178.70" y2="296.50" stroke="#707070" stroke-width="0.8" />
<line x1="196.69" y1="300.50" x2="196.69" y2="298.50" stroke="#707070" stroke-width="0.8" />
<line x1="214.68" y1="300.50" x2="214.68" y2="298.50" stroke="#707070" stroke-width="0.8" />
<line x1="232.66" y1="300.50" x2="232.66" y2="298.50" stroke="#707070" stroke-width="0.8" />
<line x1="250.65" y1="300.50" x2="250.65" y2="296.50" stroke="#707070" stroke-width="0.8" />
<line x1="268.64" y1="300.50" x2="268.64" y2="298.50" stroke="#707070" stroke-width="0.8" />
<line x1="286.62" y1="300.50" x2="286.62" y2="298.50" stroke="#707070" stroke-width="0.8" />
<line x1="304.61" y1="300.50" x2="304.61" y2="298.50" stroke="#707070" stroke-width="0.8" />
<line x1="322.60" y1="300.50" x2="322.60" y2="296.50" stroke="#707070" stroke-width="0.8" />
<line x1="340.59" y1="300.50" x2="340.59" y2="298.50" stroke="#707070" stroke-width="0.8" />
<line x1="358.58" y1="300.50" x2="358.58" y2="298.50" stroke="#707070" stroke-width="0.8" />
<line x1="376.56" y1="300.50" x2="376.56" y2="298.50" stroke="#707070" stroke-width="0.8" />
<line x1="394.55" y1="300.50" x2="394.55" y2="296.50" stroke="#707070" stroke-width="0.8" />
<line x1="412.54" y1="300.50" x2="412.54" y2="298.50" stroke="#707070" stroke-width="0.8" />
<line x1="430.53" y1="300.50" x2="430.53" y2="298.50" stroke="#707070" stroke-width="0.8" />
<line x1="448.51" y1="300.50" x2="448.51" y2="298.50" stroke="#707070" stroke-width="0.8" />
<line x1="466.50" y1="300.50" x2="466.50" y2="296.50" stroke="#707070" stroke-width="0.8" />
<line x1="34.50" y1="267.50" x2="38.70" y2="267.50" stroke="#707070" stroke-width="0.8" />
<text x="30.80" y="270.80" font-family="Liberation Serif" font-size="9.6" text-anchor="end" fill="#333" >-1</text>
<line x1="34.50" y1="289.25" x2="38.70" y2="289.25" stroke="#707070" stroke-width="0.8" />
<text x="30.80" y="292.55" font-family="Liberation Serif" font-size="9.6" text-anchor="end" fill="#333" >-2</text>
<path d="M38.40,268.20 L45.00,270.60 L56.40,267.00 L60.00,259.80 L63.00,266.40 L78.60,268.20 L84.00,262.00 L93.00,264.00 L95.20,265.02 L98.40,265.87 L102.40,264.09 L106.40,266.75 L111.20,265.25 L116.00,264.65 L120.80,263.36 L124.80,265.57 L128.80,266.18 L132.00,264.58 L135.20,267.93 L139.00,265.84 L143.00,267.97 L147.00,266.59 L152.60,269.97 L157.40,271.54 L162.20,271.06 L166.20,268.56 L169.40,272.67 L174.70,270.48 L177.40,271.14 L179.80,272.69 L186.20,274.68 L189.40,272.67 L192.60,273.56 L196.60,271.45 L200.60,273.30 L204.60,271.92 L208.60,273.27 L213.40,272.41 L214.80,274.68 L219.60,274.07 L225.20,274.37 L230.80,272.71 L236.00,270.87 L240.60,271.69 L246.20,271.81 L250.30,274.31 L253.20,270.27 L256.40,273.30 L261.20,273.15 L266.00,273.93 L270.80,273.35 L275.60,273.91 L282.00,273.25 L285.20,272.75 L288.20,273.76 L289.80,272.35 L294.60,273.72 L300.20,273.77 L305.00,271.89 L310.60,271.76 L315.40,271.88 L319.40,274.66 L323.40,274.10 L327.40,272.42 L333.00,272.40 L336.20,273.24 L340.00,271.80 L352.00,273.00 L358.00,267.00 L364.00,271.80 L370.00,270.60 L376.00,269.40 L382.00,273.00 L388.00,269.40 L396.00,266.00 L404.00,270.00 L412.00,267.00 L420.00,269.00 L428.00,266.00 L431.00,258.60 L434.00,266.00 L438.00,268.00 L438.00,295.00 L430.00,293.00 L424.00,299.00 L418.00,296.00 L412.00,291.00 L406.00,295.00 L400.00,298.00 L394.00,292.00 L388.00,295.80 L382.00,292.20 L376.00,291.00 L370.00,289.80 L364.00,293.40 L358.00,298.20 L352.00,291.00 L346.00,292.20 L340.00,293.40 L336.20,286.55 L333.00,288.62 L327.40,288.58 L323.40,290.73 L319.40,288.95 L315.40,288.75 L310.60,287.93 L305.00,289.02 L300.20,287.14 L294.60,287.86 L289.80,289.19 L288.20,289.91 L285.20,289.14 L282.00,288.64 L275.60,290.29 L270.80,290.38 L266.00,289.82 L261.20,288.80 L256.40,287.23 L253.20,286.13 L250.30,290.91 L246.20,289.01 L240.60,287.06 L236.00,286.26 L230.80,286.95 L225.20,286.87 L219.60,287.75 L214.80,287.87 L213.40,287.25 L208.60,289.06 L204.60,286.88 L200.60,287.47 L196.60,289.20 L192.60,289.28 L189.40,289.68 L186.20,288.89 L179.80,291.81 L177.40,290.56 L174.70,287.12 L169.40,290.15 L166.20,290.22 L162.20,288.94 L157.40,294.05 L152.60,290.54 L147.00,291.94 L143.00,289.52 L139.00,291.72 L135.20,290.66 L132.00,291.62 L128.80,290.42 L124.80,290.87 L120.80,287.64 L116.00,290.83 L111.20,294.71 L106.40,292.53 L102.40,290.92 L98.40,293.98 L95.20,295.85 L93.00,297.00 L85.80,299.40 L81.00,293.40 L63.00,299.40 L57.00,300.00 L46.20,296.40 L38.40,294.60 Z" fill="#A8195A" fill-opacity="0.072" stroke="none"/>
<path d="M38.40,268.80 L45.00,270.00 L48.60,266.40 L56.40,266.40 L60.60,270.60 L63.60,263.40 L78.60,263.40 L83.40,259.80 L88.00,262.00 L93.00,264.00 L96.80,266.39 L100.00,266.13 L108.00,264.77 L112.00,267.34 L116.00,269.31 L121.60,266.68 L127.20,270.06 L133.60,268.21 L135.00,270.09 L139.80,267.89 L143.80,268.09 L148.60,268.47 L152.60,268.02 L156.60,270.41 L160.60,271.02 L163.80,272.59 L167.80,270.01 L171.00,272.33 L176.60,271.91 L179.00,272.83 L183.00,272.23 L186.20,273.22 L190.20,273.16 L193.40,270.96 L196.60,273.12 L200.60,271.67 L205.40,271.94 L210.20,272.90 L216.40,270.81 L221.20,274.34 L225.20,272.54 L229.20,272.64 L235.60,272.01 L242.00,272.79 L246.80,272.15 L249.20,273.12 L254.80,272.58 L259.60,273.24 L264.40,273.80 L269.20,273.14 L272.40,273.95 L277.20,272.22 L283.60,273.97 L289.80,274.22 L294.60,271.05 L299.40,272.20 L305.00,272.82 L310.60,272.64 L315.10,273.39 L318.60,273.14 L322.60,273.54 L328.20,273.99 L333.00,272.58 L337.00,271.55 L340.00,270.60 L352.00,273.00 L355.00,265.80 L358.00,263.40 L362.80,267.00 L367.60,273.00 L372.40,264.60 L374.80,263.40 L377.20,267.00 L380.80,263.40 L385.60,269.40 L388.00,267.00 L396.00,265.00 L404.00,268.00 L412.00,264.00 L420.00,267.00 L428.00,264.00 L438.00,266.00 L438.00,299.00 L432.00,296.00 L427.00,293.00 L421.00,300.00 L416.00,298.00 L410.00,291.50 L404.00,294.00 L398.00,300.00 L393.00,297.00 L388.00,292.20 L384.40,291.00 L379.60,295.80 L376.00,300.00 L372.40,295.80 L367.60,289.80 L362.80,293.40 L358.00,300.00 L355.00,295.80 L352.00,289.80 L340.00,291.00 L337.00,287.71 L333.00,289.02 L328.20,288.96 L322.60,290.09 L318.60,289.00 L315.10,287.60 L310.60,287.48 L305.00,287.74 L299.40,288.22 L294.60,286.66 L289.80,289.64 L283.60,286.66 L277.20,287.51 L272.40,288.38 L269.20,290.09 L264.40,287.18 L259.60,290.59 L254.80,287.81 L249.20,288.22 L246.80,289.51 L242.00,290.04 L235.60,288.99 L229.20,288.11 L225.20,287.99 L221.20,288.62 L216.40,288.41 L210.20,288.93 L205.40,287.96 L200.60,289.83 L196.60,291.07 L193.40,287.30 L190.20,288.34 L186.20,287.95 L183.00,290.16 L179.00,288.89 L176.60,289.85 L171.00,290.10 L167.80,289.61 L163.80,290.62 L160.60,292.28 L156.60,290.07 L152.60,290.19 L148.60,293.78 L143.80,291.46 L139.80,293.25 L135.00,293.38 L133.60,291.89 L127.20,292.03 L121.60,292.75 L116.00,292.97 L112.00,293.73 L108.00,294.29 L100.00,293.92 L96.80,295.17 L93.00,296.00 L85.80,294.60 L81.00,300.00 L63.00,299.40 L60.00,292.20 L57.00,294.60 L51.00,296.40 L38.40,295.20 Z" fill="#3388EE" fill-opacity="0.058" stroke="none"/>
<path d="M38.40,270.60 L45.00,271.20 L51.00,273.00 L57.00,271.80 L60.60,266.40 L64.20,264.00 L78.60,267.60 L85.00,266.00 L93.00,268.00 L97.60,267.73 L101.60,265.35 L105.60,264.80 L109.60,266.38 L116.00,267.66 L121.60,265.71 L126.40,267.41 L130.40,268.08 L135.00,268.43 L141.40,267.96 L146.20,268.84 L150.20,269.18 L155.00,270.02 L159.00,271.13 L163.80,271.66 L168.60,268.87 L173.40,271.38 L177.40,269.71 L182.20,270.37 L186.20,272.58 L189.40,273.18 L194.20,271.69 L199.00,271.68 L203.80,271.80 L207.80,271.41 L211.80,271.86 L216.40,272.80 L221.20,273.93 L225.20,272.13 L228.40,273.01 L234.00,274.11 L238.80,274.10 L243.60,272.36 L248.40,273.55 L253.20,272.86 L256.40,271.14 L261.20,272.52 L266.00,271.14 L270.80,273.64 L277.20,272.66 L282.00,273.17 L286.80,274.51 L289.00,273.90 L293.80,272.83 L299.40,274.49 L305.80,274.37 L311.40,273.15 L316.20,273.77 L320.20,274.14 L325.00,272.44 L329.80,273.41 L334.60,272.99 L337.80,273.24 L340.00,272.00 L352.00,273.00 L354.40,264.00 L357.40,265.80 L364.00,270.60 L371.20,269.40 L374.80,265.80 L378.40,264.60 L382.00,267.00 L386.80,273.00 L396.00,268.00 L404.00,265.00 L412.00,270.00 L420.00,266.00 L428.00,268.00 L438.00,265.00 L438.00,297.00 L430.00,291.50 L424.00,294.00 L418.00,300.00 L412.00,296.00 L406.00,291.00 L400.00,293.00 L394.00,299.00 L388.00,294.60 L382.00,294.60 L377.20,300.00 L372.40,292.20 L366.40,289.80 L359.20,295.80 L355.60,299.40 L352.00,291.00 L340.00,288.60 L337.80,286.16 L334.60,289.15 L329.80,290.14 L325.00,287.54 L320.20,286.38 L316.20,289.03 L311.40,287.72 L305.80,288.75 L299.40,290.17 L293.80,288.94 L289.00,288.75 L286.80,287.61 L282.00,287.49 L277.20,289.95 L270.80,286.93 L266.00,288.23 L261.20,287.00 L256.40,287.98 L253.20,285.60 L248.40,287.44 L243.60,287.19 L238.80,288.59 L234.00,289.97 L228.40,288.31 L225.20,288.10 L221.20,289.07 L216.40,287.65 L211.80,288.45 L207.80,286.22 L203.80,287.36 L199.00,288.26 L194.20,289.02 L189.40,289.97 L186.20,289.83 L182.20,288.84 L177.40,290.19 L173.40,291.75 L168.60,291.73 L163.80,290.70 L159.00,289.66 L155.00,291.04 L150.20,291.30 L146.20,290.55 L141.40,293.85 L135.00,291.03 L130.40,292.57 L126.40,294.02 L121.60,294.28 L116.00,293.32 L109.60,295.52 L105.60,294.80 L101.60,291.98 L97.60,297.48 L93.00,295.00 L83.40,299.40 L78.60,294.60 L64.20,296.40 L60.60,300.60 L57.00,293.40 L51.00,294.60 L45.00,291.00 L38.40,292.20 Z" fill="#FFAA22" fill-opacity="0.045" stroke="none"/>
<polyline points="38.40,268.20 45.00,270.60 56.40,267.00 60.00,259.80 63.00,266.40 78.60,268.20 84.00,262.00 93.00,264.00 95.20,265.02 98.40,265.87 102.40,264.09 106.40,266.75 111.20,265.25 116.00,264.65 120.80,263.36 124.80,265.57 128.80,266.18 132.00,264.58 135.20,267.93 139.00,265.84 143.00,267.97 147.00,266.59 152.60,269.97 157.40,271.54 162.20,271.06 166.20,268.56 169.40,272.67 174.70,270.48 177.40,271.14 179.80,272.69 186.20,274.68 189.40,272.67 192.60,273.56 196.60,271.45 200.60,273.30 204.60,271.92 208.60,273.27 213.40,272.41 214.80,274.68 219.60,274.07 225.20,274.37 230.80,272.71 236.00,270.87 240.60,271.69 246.20,271.81 250.30,274.31 253.20,270.27 256.40,273.30 261.20,273.15 266.00,273.93 270.80,273.35 275.60,273.91 282.00,273.25 285.20,272.75 288.20,273.76 289.80,272.35 294.60,273.72 300.20,273.77 305.00,271.89 310.60,271.76 315.40,271.88 319.40,274.66 323.40,274.10 327.40,272.42 333.00,272.40 336.20,273.24 340.00,271.80 352.00,273.00 358.00,267.00 364.00,271.80 370.00,270.60 376.00,269.40 382.00,273.00 388.00,269.40 396.00,266.00 404.00,270.00 412.00,267.00 420.00,269.00 428.00,266.00 431.00,258.60 434.00,266.00 438.00,268.00" fill="none" stroke="#DA90B4" stroke-width="0.75" stroke-linejoin="round" />
<polyline points="38.40,294.60 46.20,296.40 57.00,300.00 63.00,299.40 81.00,293.40 85.80,299.40 93.00,297.00 95.20,295.85 98.40,293.98 102.40,290.92 106.40,292.53 111.20,294.71 116.00,290.83 120.80,287.64 124.80,290.87 128.80,290.42 132.00,291.62 135.20,290.66 139.00,291.72 143.00,289.52 147.00,291.94 152.60,290.54 157.40,294.05 162.20,288.94 166.20,290.22 169.40,290.15 174.70,287.12 177.40,290.56 179.80,291.81 186.20,288.89 189.40,289.68 192.60,289.28 196.60,289.20 200.60,287.47 204.60,286.88 208.60,289.06 213.40,287.25 214.80,287.87 219.60,287.75 225.20,286.87 230.80,286.95 236.00,286.26 240.60,287.06 246.20,289.01 250.30,290.91 253.20,286.13 256.40,287.23 261.20,288.80 266.00,289.82 270.80,290.38 275.60,290.29 282.00,288.64 285.20,289.14 288.20,289.91 289.80,289.19 294.60,287.86 300.20,287.14 305.00,289.02 310.60,287.93 315.40,288.75 319.40,288.95 323.40,290.73 327.40,288.58 333.00,288.62 336.20,286.55 340.00,293.40 346.00,292.20 352.00,291.00 358.00,298.20 364.00,293.40 370.00,289.80 376.00,291.00 382.00,292.20 388.00,295.80 394.00,292.00 400.00,298.00 406.00,295.00 412.00,291.00 418.00,296.00 424.00,299.00 430.00,293.00 438.00,295.00" fill="none" stroke="#DA90B4" stroke-width="0.75" stroke-linejoin="round" />
<polyline points="38.40,268.80 45.00,270.00 48.60,266.40 56.40,266.40 60.60,270.60 63.60,263.40 78.60,263.40 83.40,259.80 88.00,262.00 93.00,264.00 96.80,266.39 100.00,266.13 108.00,264.77 112.00,267.34 116.00,269.31 121.60,266.68 127.20,270.06 133.60,268.21 135.00,270.09 139.80,267.89 143.80,268.09 148.60,268.47 152.60,268.02 156.60,270.41 160.60,271.02 163.80,272.59 167.80,270.01 171.00,272.33 176.60,271.91 179.00,272.83 183.00,272.23 186.20,273.22 190.20,273.16 193.40,270.96 196.60,273.12 200.60,271.67 205.40,271.94 210.20,272.90 216.40,270.81 221.20,274.34 225.20,272.54 229.20,272.64 235.60,272.01 242.00,272.79 246.80,272.15 249.20,273.12 254.80,272.58 259.60,273.24 264.40,273.80 269.20,273.14 272.40,273.95 277.20,272.22 283.60,273.97 289.80,274.22 294.60,271.05 299.40,272.20 305.00,272.82 310.60,272.64 315.10,273.39 318.60,273.14 322.60,273.54 328.20,273.99 333.00,272.58 337.00,271.55 340.00,270.60 352.00,273.00 355.00,265.80 358.00,263.40 362.80,267.00 367.60,273.00 372.40,264.60 374.80,263.40 377.20,267.00 380.80,263.40 385.60,269.40 388.00,267.00 396.00,265.00 404.00,268.00 412.00,264.00 420.00,267.00 428.00,264.00 438.00,266.00" fill="none" stroke="#90B6F0" stroke-width="0.75" stroke-linejoin="round" />
<polyline points="38.40,295.20 51.00,296.40 57.00,294.60 60.00,292.20 63.00,299.40 81.00,300.00 85.80,294.60 93.00,296.00 96.80,295.17 100.00,293.92 108.00,294.29 112.00,293.73 116.00,292.97 121.60,292.75 127.20,292.03 133.60,291.89 135.00,293.38 139.80,293.25 143.80,291.46 148.60,293.78 152.60,290.19 156.60,290.07 160.60,292.28 163.80,290.62 167.80,289.61 171.00,290.10 176.60,289.85 179.00,288.89 183.00,290.16 186.20,287.95 190.20,288.34 193.40,287.30 196.60,291.07 200.60,289.83 205.40,287.96 210.20,288.93 216.40,288.41 221.20,288.62 225.20,287.99 229.20,288.11 235.60,288.99 242.00,290.04 246.80,289.51 249.20,288.22 254.80,287.81 259.60,290.59 264.40,287.18 269.20,290.09 272.40,288.38 277.20,287.51 283.60,286.66 289.80,289.64 294.60,286.66 299.40,288.22 305.00,287.74 310.60,287.48 315.10,287.60 318.60,289.00 322.60,290.09 328.20,288.96 333.00,289.02 337.00,287.71 340.00,291.00 352.00,289.80 355.00,295.80 358.00,300.00 362.80,293.40 367.60,289.80 372.40,295.80 376.00,300.00 379.60,295.80 384.40,291.00 388.00,292.20 393.00,297.00 398.00,300.00 404.00,294.00 410.00,291.50 416.00,298.00 421.00,300.00 427.00,293.00 432.00,296.00 438.00,299.00" fill="none" stroke="#90B6F0" stroke-width="0.75" stroke-linejoin="round" />
<polyline points="38.40,270.60 45.00,271.20 51.00,273.00 57.00,271.80 60.60,266.40 64.20,264.00 78.60,267.60 85.00,266.00 93.00,268.00 97.60,267.73 101.60,265.35 105.60,264.80 109.60,266.38 116.00,267.66 121.60,265.71 126.40,267.41 130.40,268.08 135.00,268.43 141.40,267.96 146.20,268.84 150.20,269.18 155.00,270.02 159.00,271.13 163.80,271.66 168.60,268.87 173.40,271.38 177.40,269.71 182.20,270.37 186.20,272.58 189.40,273.18 194.20,271.69 199.00,271.68 203.80,271.80 207.80,271.41 211.80,271.86 216.40,272.80 221.20,273.93 225.20,272.13 228.40,273.01 234.00,274.11 238.80,274.10 243.60,272.36 248.40,273.55 253.20,272.86 256.40,271.14 261.20,272.52 266.00,271.14 270.80,273.64 277.20,272.66 282.00,273.17 286.80,274.51 289.00,273.90 293.80,272.83 299.40,274.49 305.80,274.37 311.40,273.15 316.20,273.77 320.20,274.14 325.00,272.44 329.80,273.41 334.60,272.99 337.80,273.24 340.00,272.00 352.00,273.00 354.40,264.00 357.40,265.80 364.00,270.60 371.20,269.40 374.80,265.80 378.40,264.60 382.00,267.00 386.80,273.00 396.00,268.00 404.00,265.00 412.00,270.00 420.00,266.00 428.00,268.00 438.00,265.00" fill="none" stroke="#FFCC90" stroke-width="0.75" stroke-linejoin="round" />
<polyline points="38.40,292.20 45.00,291.00 51.00,294.60 57.00,293.40 60.60,300.60 64.20,296.40 78.60,294.60 83.40,299.40 93.00,295.00 97.60,297.48 101.60,291.98 105.60,294.80 109.60,295.52 116.00,293.32 121.60,294.28 126.40,294.02 130.40,292.57 135.00,291.03 141.40,293.85 146.20,290.55 150.20,291.30 155.00,291.04 159.00,289.66 163.80,290.70 168.60,291.73 173.40,291.75 177.40,290.19 182.20,288.84 186.20,289.83 189.40,289.97 194.20,289.02 199.00,288.26 203.80,287.36 207.80,286.22 211.80,288.45 216.40,287.65 221.20,289.07 225.20,288.10 228.40,288.31 234.00,289.97 238.80,288.59 243.60,287.19 248.40,287.44 253.20,285.60 256.40,287.98 261.20,287.00 266.00,288.23 270.80,286.93 277.20,289.95 282.00,287.49 286.80,287.61 289.00,288.75 293.80,288.94 299.40,290.17 305.80,288.75 311.40,287.72 316.20,289.03 320.20,286.38 325.00,287.54 329.80,290.14 334.60,289.15 337.80,286.16 340.00,288.60 352.00,291.00 355.60,299.40 359.20,295.80 366.40,289.80 372.40,292.20 377.20,300.00 382.00,294.60 388.00,294.60 394.00,299.00 400.00,293.00 406.00,291.00 412.00,296.00 418.00,300.00 424.00,294.00 430.00,291.50 438.00,297.00" fill="none" stroke="#FFCC90" stroke-width="0.75" stroke-linejoin="round" />
<polyline points="38.40,279.60 42.00,285.00 45.60,273.60 49.20,282.60 52.80,279.00 56.40,280.80 60.00,290.40 63.60,275.40 78.00,280.80 80.80,264.50 84.20,264.20 88.00,265.60 92.00,265.60 95.20,276.00 98.40,280.00 102.40,272.00 106.40,272.80 111.20,277.60 116.00,271.20 120.80,262.90 124.80,268.00 128.80,272.00 132.00,268.00 135.20,279.20 139.00,273.90 143.00,279.00 147.00,275.50 152.60,275.50 157.40,283.80 162.20,281.90 166.20,279.00 169.40,282.20 174.70,274.50 177.40,281.40 179.80,283.80 186.20,283.50 189.40,288.30 192.60,282.20 196.60,277.10 200.60,281.40 204.60,278.70 208.60,280.60 213.40,281.00 214.80,279.00 219.60,279.80 225.20,281.40 230.80,276.60 236.00,279.00 240.60,279.80 246.20,280.60 250.30,288.60 253.20,271.80 256.40,279.00 261.20,279.00 266.00,280.60 270.80,282.20 275.60,281.40 282.00,278.20 285.20,282.20 288.20,279.00 289.80,281.40 294.60,279.80 300.20,279.00 305.00,278.20 310.60,279.00 315.40,277.40 319.40,283.00 323.40,283.50 327.40,283.00 333.00,275.50 336.20,279.00 340.00,279.00 343.60,276.00 347.20,280.20 350.80,280.20 354.40,280.80 358.00,282.60 361.60,278.40 365.20,276.60 368.80,277.80 373.60,278.40 378.40,279.00 383.20,280.20 387.40,282.60 392.00,281.00 400.00,279.00 410.00,282.00 420.00,280.00 430.00,279.00 438.00,281.00" fill="none" stroke="#A8195A" stroke-width="1.25" stroke-linejoin="round" />
<polyline points="38.40,278.40 42.00,283.20 45.60,279.00 49.20,280.20 52.80,278.40 56.40,283.20 60.00,276.60 63.60,286.20 81.00,277.20 84.80,261.90 88.20,270.60 93.00,273.00 96.80,280.80 100.00,275.20 108.00,276.00 112.00,278.40 116.00,280.00 121.60,276.40 127.20,279.20 133.60,282.40 135.00,284.60 139.80,284.60 143.80,276.60 148.60,280.60 152.60,278.20 156.60,283.00 160.60,282.20 163.80,280.60 167.80,275.50 171.00,281.40 176.60,280.60 179.00,282.20 183.00,278.20 186.20,279.00 190.20,283.80 193.40,280.60 196.60,279.00 200.60,283.00 205.40,279.80 210.20,279.80 216.40,279.00 221.20,279.80 225.20,283.80 229.20,279.00 235.60,279.00 242.00,279.30 246.80,280.60 249.20,283.00 254.80,280.60 259.60,282.20 264.40,281.40 269.20,282.20 272.40,283.80 277.20,280.60 283.60,281.40 289.80,282.20 294.60,278.20 299.40,280.60 305.00,279.80 310.60,280.60 315.10,275.80 318.60,279.00 322.60,281.40 328.20,282.20 333.00,279.00 337.00,278.20 340.00,281.40 343.60,279.60 347.20,283.80 350.80,279.60 354.40,281.40 358.00,283.80 361.60,277.20 365.20,280.80 368.80,279.00 372.40,280.20 376.00,279.00 379.60,283.80 383.20,281.40 385.60,270.60 387.40,268.20 392.00,270.00 400.00,279.00 410.00,281.00 420.00,279.00 430.00,282.00 438.00,280.00" fill="none" stroke="#3388EE" stroke-width="1.25" stroke-linejoin="round" />
<polyline points="38.40,280.20 42.00,278.40 45.60,279.60 49.20,283.80 52.80,279.00 56.40,275.40 60.00,280.20 63.60,283.20 71.40,279.60 81.00,276.60 84.60,274.20 88.80,279.00 93.00,274.20 97.60,282.40 101.60,276.00 105.60,282.40 109.60,277.60 116.00,278.40 121.60,275.20 126.40,282.60 130.40,278.00 135.00,279.80 141.40,278.20 146.20,277.40 150.20,282.20 155.00,279.00 159.00,280.60 163.80,283.50 168.60,279.00 173.40,280.60 177.40,279.00 182.20,276.60 186.20,280.60 189.40,284.60 194.20,279.00 199.00,279.00 203.80,277.40 207.80,275.80 211.80,279.80 216.40,279.00 221.20,281.40 225.20,275.00 228.40,281.40 234.00,281.40 238.80,281.40 243.60,280.60 248.40,282.20 253.20,274.20 256.40,279.00 261.20,279.80 266.00,280.60 270.80,283.00 277.20,279.00 282.00,277.40 286.80,281.40 289.00,283.00 293.80,281.40 299.40,282.20 305.80,282.20 311.40,279.00 316.20,280.60 320.20,279.00 325.00,279.80 329.80,280.60 334.60,279.00 337.80,277.40 340.00,282.60 343.60,279.00 347.20,277.80 350.80,282.60 354.40,273.00 358.00,279.00 361.60,280.20 365.20,278.40 368.80,283.80 373.60,279.00 378.40,274.20 381.40,274.20 384.40,279.00 386.80,285.00 392.00,281.00 400.00,283.00 410.00,279.00 420.00,282.00 430.00,280.00 438.00,281.00" fill="none" stroke="#FFAA22" stroke-width="1.25" stroke-linejoin="round" />
<circle cx="80.8" cy="264.5" r="2.8" fill="#F0C0CC" stroke="#C8507A" stroke-width="0.9"/>
<circle cx="92" cy="265.6" r="2.8" fill="#F0C0CC" stroke="#C8507A" stroke-width="0.9"/>
<circle cx="120.8" cy="262.9" r="2.8" fill="#F0C0CC" stroke="#C8507A" stroke-width="0.9"/>
<circle cx="124.8" cy="268" r="2.8" fill="#F0C0CC" stroke="#C8507A" stroke-width="0.9"/>
<circle cx="132" cy="268" r="2.8" fill="#F0C0CC" stroke="#C8507A" stroke-width="0.9"/>
<circle cx="174.7" cy="274.5" r="2.8" fill="#F0C0CC" stroke="#C8507A" stroke-width="0.9"/>
<circle cx="189.4" cy="288.3" r="2.8" fill="#F0C0CC" stroke="#C8507A" stroke-width="0.9"/>
<circle cx="196.6" cy="277.1" r="2.8" fill="#F0C0CC" stroke="#C8507A" stroke-width="0.9"/>
<circle cx="333" cy="275.5" r="2.8" fill="#F0C0CC" stroke="#C8507A" stroke-width="0.9"/>
<circle cx="84.8" cy="261.9" r="2.8" fill="#A8B8F4" stroke="#6A9CF0" stroke-width="0.9"/>
<circle cx="315.1" cy="275.8" r="2.8" fill="#A8B8F4" stroke="#6A9CF0" stroke-width="0.9"/>
<circle cx="253.3" cy="271.8" r="2.8" fill="#F0C0CC" stroke="#C8507A" stroke-width="0.9"/>
<circle cx="253.6" cy="275.0" r="2.8" fill="#FFE2B8" stroke="#FFB84A" stroke-width="0.9"/>
<rect x="388" y="259.4" width="70.6" height="31" fill="#fff" stroke="#808080" stroke-width="0.9"/>
<line x1="391.00" y1="265.60" x2="418.00" y2="265.60" stroke="#3388EE" stroke-width="1.4" />
<rect x="391" y="272" width="27" height="6.4" fill="#E6F0FB" stroke="#A8CCF0" stroke-width="0.7"/>
<circle cx="404" cy="285" r="2.8" fill="#A8B4F0" stroke="#A8B4F0" stroke-width="0.9"/>
<text x="420" y="268.8" font-family="Liberation Serif" font-size="8.6" font-style="italic" fill="#333">β</text>
<text x="425" y="270.40000000000003" font-family="Liberation Serif" font-size="6" fill="#333">1</text>
<path d="M421.6,262.2 L423.1,260.8 L424.6,262.2" fill="none" stroke="#333" stroke-width="0.55"/>
<text x="420" y="278.6" font-family="Liberation Serif" font-size="8.6" font-style="italic" fill="#333">β</text>
<text x="425" y="280.20000000000005" font-family="Liberation Serif" font-size="6" fill="#333">1</text>
<path d="M421.6,272.0 L423.1,270.6 L424.6,272.0" fill="none" stroke="#333" stroke-width="0.55"/>
<text x="429.60" y="278.40" font-family="Liberation Serif" font-size="8" text-anchor="start" fill="#333" >±</text>
<text x="446.5" y="274.4" font-family="Liberation Serif" font-size="6" font-style="italic" fill="#333" text-anchor="middle">s</text>
<line x1="437.80" y1="275.50" x2="455.60" y2="275.50" stroke="#444" stroke-width="0.45" />
<text x="437.6" y="280.8" font-family="Liberation Serif" font-size="5.6" fill="#333"><tspan font-style="italic">t</tspan>√ΣN<tspan font-size="4" dy="0.8">e</tspan></text>
<text x="420.00" y="287.90" font-family="Liberation Serif" font-size="7.6" text-anchor="start" fill="#111" textLength="21.6" lengthAdjust="spacingAndGlyphs">flagged</text>
<text transform="translate(18.0,278.8) rotate(-90)" font-family="Liberation Serif" font-size="11" text-anchor="middle" fill="#555">Slope <tspan font-style="italic">β</tspan><tspan font-size="7" dy="2">1</tspan></text>
<path d="M10.4,269.6 L8.9,268.1 L10.4,266.6" fill="none" stroke="#555" stroke-width="0.6"/>
<line x1="106.75" y1="306.30" x2="106.75" y2="352.00" stroke="#ebebeb" stroke-width="0.6" />
<line x1="178.70" y1="306.30" x2="178.70" y2="352.00" stroke="#ebebeb" stroke-width="0.6" />
<line x1="250.65" y1="306.30" x2="250.65" y2="352.00" stroke="#ebebeb" stroke-width="0.6" />
<line x1="322.60" y1="306.30" x2="322.60" y2="352.00" stroke="#ebebeb" stroke-width="0.6" />
<line x1="394.55" y1="306.30" x2="394.55" y2="352.00" stroke="#ebebeb" stroke-width="0.6" />
<line x1="466.50" y1="306.30" x2="466.50" y2="352.00" stroke="#ebebeb" stroke-width="0.6" />
<line x1="34.80" y1="337.77" x2="466.50" y2="337.77" stroke="#ebebeb" stroke-width="0.6" />
<line x1="34.80" y1="323.44" x2="466.50" y2="323.44" stroke="#ebebeb" stroke-width="0.6" />
<line x1="34.80" y1="309.10" x2="466.50" y2="309.10" stroke="#ebebeb" stroke-width="0.6" />
<line x1="34.50" y1="306.30" x2="34.50" y2="352.30" stroke="#707070" stroke-width="1" />
<line x1="34.50" y1="352.00" x2="466.50" y2="352.00" stroke="#707070" stroke-width="1" />
<line x1="34.80" y1="352.00" x2="34.80" y2="348.00" stroke="#707070" stroke-width="0.8" />
<line x1="52.79" y1="352.00" x2="52.79" y2="350.00" stroke="#707070" stroke-width="0.8" />
<line x1="70.78" y1="352.00" x2="70.78" y2="350.00" stroke="#707070" stroke-width="0.8" />
<line x1="88.76" y1="352.00" x2="88.76" y2="350.00" stroke="#707070" stroke-width="0.8" />
<line x1="106.75" y1="352.00" x2="106.75" y2="348.00" stroke="#707070" stroke-width="0.8" />
<line x1="124.74" y1="352.00" x2="124.74" y2="350.00" stroke="#707070" stroke-width="0.8" />
<line x1="142.73" y1="352.00" x2="142.73" y2="350.00" stroke="#707070" stroke-width="0.8" />
<line x1="160.71" y1="352.00" x2="160.71" y2="350.00" stroke="#707070" stroke-width="0.8" />
<line x1="178.70" y1="352.00" x2="178.70" y2="348.00" stroke="#707070" stroke-width="0.8" />
<line x1="196.69" y1="352.00" x2="196.69" y2="350.00" stroke="#707070" stroke-width="0.8" />
<line x1="214.68" y1="352.00" x2="214.68" y2="350.00" stroke="#707070" stroke-width="0.8" />
<line x1="232.66" y1="352.00" x2="232.66" y2="350.00" stroke="#707070" stroke-width="0.8" />
<line x1="250.65" y1="352.00" x2="250.65" y2="348.00" stroke="#707070" stroke-width="0.8" />
<line x1="268.64" y1="352.00" x2="268.64" y2="350.00" stroke="#707070" stroke-width="0.8" />
<line x1="286.62" y1="352.00" x2="286.62" y2="350.00" stroke="#707070" stroke-width="0.8" />
<line x1="304.61" y1="352.00" x2="304.61" y2="350.00" stroke="#707070" stroke-width="0.8" />
<line x1="322.60" y1="352.00" x2="322.60" y2="348.00" stroke="#707070" stroke-width="0.8" />
<line x1="340.59" y1="352.00" x2="340.59" y2="350.00" stroke="#707070" stroke-width="0.8" />
<line x1="358.58" y1="352.00" x2="358.58" y2="350.00" stroke="#707070" stroke-width="0.8" />
<line x1="376.56" y1="352.00" x2="376.56" y2="350.00" stroke="#707070" stroke-width="0.8" />
<line x1="394.55" y1="352.00" x2="394.55" y2="348.00" stroke="#707070" stroke-width="0.8" />
<line x1="412.54" y1="352.00" x2="412.54" y2="350.00" stroke="#707070" stroke-width="0.8" />
<line x1="430.53" y1="352.00" x2="430.53" y2="350.00" stroke="#707070" stroke-width="0.8" />
<line x1="448.51" y1="352.00" x2="448.51" y2="350.00" stroke="#707070" stroke-width="0.8" />
<line x1="466.50" y1="352.00" x2="466.50" y2="348.00" stroke="#707070" stroke-width="0.8" />
<line x1="34.50" y1="352.10" x2="38.70" y2="352.10" stroke="#707070" stroke-width="0.8" />
<line x1="34.50" y1="349.23" x2="36.60" y2="349.23" stroke="#707070" stroke-width="0.8" />
<line x1="34.50" y1="346.37" x2="36.60" y2="346.37" stroke="#707070" stroke-width="0.8" />
<line x1="34.50" y1="343.50" x2="36.60" y2="343.50" stroke="#707070" stroke-width="0.8" />
<line x1="34.50" y1="340.63" x2="36.60" y2="340.63" stroke="#707070" stroke-width="0.8" />
<line x1="34.50" y1="337.77" x2="38.70" y2="337.77" stroke="#707070" stroke-width="0.8" />
<line x1="34.50" y1="334.90" x2="36.60" y2="334.90" stroke="#707070" stroke-width="0.8" />
<line x1="34.50" y1="332.03" x2="36.60" y2="332.03" stroke="#707070" stroke-width="0.8" />
<line x1="34.50" y1="329.17" x2="36.60" y2="329.17" stroke="#707070" stroke-width="0.8" />
<line x1="34.50" y1="326.30" x2="36.60" y2="326.30" stroke="#707070" stroke-width="0.8" />
<line x1="34.50" y1="323.44" x2="38.70" y2="323.44" stroke="#707070" stroke-width="0.8" />
<line x1="34.50" y1="320.57" x2="36.60" y2="320.57" stroke="#707070" stroke-width="0.8" />
<line x1="34.50" y1="317.70" x2="36.60" y2="317.70" stroke="#707070" stroke-width="0.8" />
<line x1="34.50" y1="314.84" x2="36.60" y2="314.84" stroke="#707070" stroke-width="0.8" />
<line x1="34.50" y1="311.97" x2="36.60" y2="311.97" stroke="#707070" stroke-width="0.8" />
<line x1="34.50" y1="309.10" x2="38.70" y2="309.10" stroke="#707070" stroke-width="0.8" />
<line x1="34.50" y1="306.24" x2="36.60" y2="306.24" stroke="#707070" stroke-width="0.8" />
<text x="33.20" y="354.90" font-family="Liberation Serif" font-size="8.2" text-anchor="end" fill="#666" >0</text>
<text x="33.20" y="340.57" font-family="Liberation Serif" font-size="8.2" text-anchor="end" fill="#666" >250</text>
<text x="33.20" y="326.24" font-family="Liberation Serif" font-size="8.2" text-anchor="end" fill="#666" >500</text>
<text x="33.20" y="311.90" font-family="Liberation Serif" font-size="8.2" text-anchor="end" fill="#666" >750</text>
<line x1="34.80" y1="346.30" x2="466.50" y2="346.30" stroke="#444" stroke-width="0.8" stroke-dasharray="2.1,1.4"/>
<polyline points="38.00,343.16 42.00,342.88 46.00,344.21 50.00,342.84 54.00,344.17 58.00,343.74 61.00,344.82 63.00,345.25" fill="none" stroke="#FFAA22" stroke-width="1.2" stroke-linejoin="round" />
<polyline points="77.00,347.81 80.00,347.45 84.00,347.35 88.00,347.58 92.00,347.27 96.00,345.84 100.00,345.90 105.00,344.91 110.00,344.11 113.00,343.11 118.00,343.43 122.00,342.50 126.00,342.89 130.00,342.80 135.00,343.50 139.00,341.91 143.00,341.26 147.00,342.78 151.00,341.69 155.00,340.23 158.00,338.01 160.00,337.07 165.00,336.97 169.60,334.99 175.00,335.55 180.00,331.18 184.00,327.92 189.30,326.73 193.60,326.57 198.40,325.30 203.20,328.05 210.40,331.88 217.60,335.10 220.20,335.00 224.00,328.58 226.20,329.57 229.60,333.55 233.60,331.34 237.20,332.36 240.40,334.60 244.00,335.80 247.00,337.92 252.00,336.45 256.20,334.88 260.00,331.66 263.00,333.15 266.40,332.42 268.00,332.37 272.80,331.10 276.40,326.90 280.00,331.70 283.40,334.80 293.00,332.24 301.40,337.58 306.20,336.10 311.50,329.72 314.60,335.34 319.40,337.58 323.00,335.27 326.60,337.10 332.60,333.35 336.20,335.96 342.20,338.65 351.80,337.48 357.80,337.38 361.90,344.27 368.60,338.90 375.80,342.13 380.00,342.10 386.00,342.08 389.60,340.43 394.40,344.11 399.20,343.23 404.00,344.06 410.00,343.94 416.00,341.84" fill="none" stroke="#FFAA22" stroke-width="1.2" stroke-linejoin="round" />
<polyline points="423.20,346.21 428.00,345.41 433.00,345.73 437.60,343.38" fill="none" stroke="#FFAA22" stroke-width="1.2" stroke-linejoin="round" />
<polyline points="38.00,343.02 42.00,342.64 46.00,343.70 50.00,343.34 54.00,343.64 58.00,343.32 61.00,343.43 63.00,345.37" fill="none" stroke="#3388EE" stroke-width="1.2" stroke-linejoin="round" />
<polyline points="77.00,346.84 80.00,347.55 84.00,347.30 88.00,346.31 92.00,345.87 96.00,345.15 100.00,344.94 105.00,344.47 110.00,343.41 113.00,342.62 118.00,343.18 122.00,343.02 126.00,343.17 130.00,341.76 135.00,342.70 139.00,341.54 143.00,341.52 147.00,341.33 151.00,340.70 155.00,340.27 158.00,337.61 160.00,336.22 165.00,336.58 169.60,334.97 175.00,334.99 180.00,327.78 184.00,323.60 189.30,317.85 193.60,320.00 198.40,320.70 203.20,323.98 210.40,330.30 217.60,333.20 220.20,333.00 224.00,328.36 226.20,327.64 229.60,333.08 233.60,329.70 237.20,330.94 240.40,333.99 244.00,334.57 247.00,336.29 252.00,334.70 256.20,332.96 260.00,330.57 263.00,331.55 266.40,331.17 268.00,330.30 272.80,328.60 276.40,324.40 280.00,329.20 283.40,332.30 293.00,331.30 301.40,336.01 306.20,334.32 311.50,327.71 314.60,332.96 319.40,337.47 323.00,334.47 326.60,335.37 332.60,332.57 336.20,336.07 342.20,337.30 351.80,338.46 357.80,336.04 361.90,342.65 368.60,337.52 375.80,340.13 380.00,341.82 386.00,341.46 389.60,340.84 394.40,343.02 399.20,340.88 404.00,341.73 410.00,344.32 416.00,339.75" fill="none" stroke="#3388EE" stroke-width="1.2" stroke-linejoin="round" />
<polyline points="423.20,345.16 428.00,344.87 433.00,345.30 437.60,341.62" fill="none" stroke="#3388EE" stroke-width="1.2" stroke-linejoin="round" />
<polyline points="38.00,342.00 42.00,341.50 46.00,342.50 50.00,342.00 54.00,342.50 58.00,342.00 61.00,343.00 63.00,344.50" fill="none" stroke="#A8195A" stroke-width="1.2" stroke-linejoin="round" />
<polyline points="77.00,345.50 80.00,346.50 84.00,346.00 88.00,345.80 92.00,345.00 96.00,344.50 100.00,344.00 105.00,343.50 110.00,343.00 113.00,342.00 118.00,342.50 122.00,341.70 126.00,342.00 130.00,341.20 135.00,341.50 139.00,341.00 143.00,340.50 147.00,340.80 151.00,340.30 155.00,339.00 158.00,337.00 160.00,335.60 165.00,335.20 169.60,333.70 175.00,334.30 180.00,327.20 184.00,322.40 189.30,310.90 193.60,319.30 198.40,319.80 203.20,321.60 210.40,325.60 217.60,329.60 220.20,332.00 224.00,327.00 226.20,326.70 229.60,332.00 233.60,329.10 237.20,329.60 240.40,332.90 244.00,333.20 247.00,335.00 252.00,334.00 256.20,332.20 260.00,330.00 263.00,331.00 266.40,330.70 268.00,329.60 272.80,326.60 276.40,322.40 280.00,327.20 283.40,330.30 293.00,330.30 301.40,335.60 306.20,332.70 311.50,326.70 314.60,332.00 319.40,335.60 323.00,333.20 326.60,334.40 332.60,331.30 336.20,334.40 342.20,336.80 351.80,336.30 357.80,335.60 361.90,340.90 368.60,335.60 375.80,339.70 380.00,340.00 386.00,340.40 389.60,339.40 394.40,342.60 399.20,340.40 404.00,341.00 410.00,342.20 416.00,339.00" fill="none" stroke="#A8195A" stroke-width="1.2" stroke-linejoin="round" />
<polyline points="423.20,343.40 428.00,342.80 433.00,343.20 437.60,340.60" fill="none" stroke="#A8195A" stroke-width="1.2" stroke-linejoin="round" />
<text x="56.80" y="315.60" font-family="Liberation Sans" font-size="9.2" text-anchor="start" fill="#222" >f)</text>
<rect x="414.8" y="310.9" width="43.9" height="14.4" fill="#fff" stroke="#808080" stroke-width="0.9"/>
<line x1="417.20" y1="318.10" x2="443.60" y2="318.10" stroke="#444" stroke-width="0.8" stroke-dasharray="2.1,1.4"/>
<text x="447.30" y="320.20" font-family="Liberation Serif" font-size="8" text-anchor="start" fill="#333" >T</text>
<text x="452.00" y="323.40" font-family="Liberation Serif" font-size="5.6" text-anchor="start" fill="#333" >A</text>
<text transform="translate(16.3,329.6) rotate(-90)" font-family="Liberation Serif" font-size="8.8" text-anchor="middle" fill="#333">L/L<tspan font-size="7" dy="2">K</tspan></text>
<line x1="106.75" y1="355.30" x2="106.75" y2="468.20" stroke="#ebebeb" stroke-width="0.6" />
<line x1="178.70" y1="355.30" x2="178.70" y2="468.20" stroke="#ebebeb" stroke-width="0.6" />
<line x1="250.65" y1="355.30" x2="250.65" y2="468.20" stroke="#ebebeb" stroke-width="0.6" />
<line x1="322.60" y1="355.30" x2="322.60" y2="468.20" stroke="#ebebeb" stroke-width="0.6" />
<line x1="394.55" y1="355.30" x2="394.55" y2="468.20" stroke="#ebebeb" stroke-width="0.6" />
<line x1="466.50" y1="355.30" x2="466.50" y2="468.20" stroke="#ebebeb" stroke-width="0.6" />
<line x1="34.80" y1="462.54" x2="466.50" y2="462.54" stroke="#ebebeb" stroke-width="0.6" />
<line x1="34.80" y1="456.88" x2="466.50" y2="456.88" stroke="#ebebeb" stroke-width="0.6" />
<line x1="34.80" y1="445.56" x2="466.50" y2="445.56" stroke="#ebebeb" stroke-width="0.6" />
<line x1="34.80" y1="422.92" x2="466.50" y2="422.92" stroke="#ebebeb" stroke-width="0.6" />
<line x1="34.80" y1="377.64" x2="466.50" y2="377.64" stroke="#ebebeb" stroke-width="0.6" />
<line x1="34.50" y1="355.30" x2="34.50" y2="468.50" stroke="#707070" stroke-width="1" />
<line x1="34.50" y1="468.20" x2="466.50" y2="468.20" stroke="#707070" stroke-width="1" />
<line x1="34.80" y1="468.20" x2="34.80" y2="464.20" stroke="#707070" stroke-width="0.8" />
<line x1="52.79" y1="468.20" x2="52.79" y2="466.20" stroke="#707070" stroke-width="0.8" />
<line x1="70.78" y1="468.20" x2="70.78" y2="466.20" stroke="#707070" stroke-width="0.8" />
<line x1="88.76" y1="468.20" x2="88.76" y2="466.20" stroke="#707070" stroke-width="0.8" />
<line x1="106.75" y1="468.20" x2="106.75" y2="464.20" stroke="#707070" stroke-width="0.8" />
<line x1="124.74" y1="468.20" x2="124.74" y2="466.20" stroke="#707070" stroke-width="0.8" />
<line x1="142.73" y1="468.20" x2="142.73" y2="466.20" stroke="#707070" stroke-width="0.8" />
<line x1="160.71" y1="468.20" x2="160.71" y2="466.20" stroke="#707070" stroke-width="0.8" />
<line x1="178.70" y1="468.20" x2="178.70" y2="464.20" stroke="#707070" stroke-width="0.8" />
<line x1="196.69" y1="468.20" x2="196.69" y2="466.20" stroke="#707070" stroke-width="0.8" />
<line x1="214.68" y1="468.20" x2="214.68" y2="466.20" stroke="#707070" stroke-width="0.8" />
<line x1="232.66" y1="468.20" x2="232.66" y2="466.20" stroke="#707070" stroke-width="0.8" />
<line x1="250.65" y1="468.20" x2="250.65" y2="464.20" stroke="#707070" stroke-width="0.8" />
<line x1="268.64" y1="468.20" x2="268.64" y2="466.20" stroke="#707070" stroke-width="0.8" />
<line x1="286.62" y1="468.20" x2="286.62" y2="466.20" stroke="#707070" stroke-width="0.8" />
<line x1="304.61" y1="468.20" x2="304.61" y2="466.20" stroke="#707070" stroke-width="0.8" />
<line x1="322.60" y1="468.20" x2="322.60" y2="464.20" stroke="#707070" stroke-width="0.8" />
<line x1="340.59" y1="468.20" x2="340.59" y2="466.20" stroke="#707070" stroke-width="0.8" />
<line x1="358.58" y1="468.20" x2="358.58" y2="466.20" stroke="#707070" stroke-width="0.8" />
<line x1="376.56" y1="468.20" x2="376.56" y2="466.20" stroke="#707070" stroke-width="0.8" />
<line x1="394.55" y1="468.20" x2="394.55" y2="464.20" stroke="#707070" stroke-width="0.8" />
<line x1="412.54" y1="468.20" x2="412.54" y2="466.20" stroke="#707070" stroke-width="0.8" />
<line x1="430.53" y1="468.20" x2="430.53" y2="466.20" stroke="#707070" stroke-width="0.8" />
<line x1="448.51" y1="468.20" x2="448.51" y2="466.20" stroke="#707070" stroke-width="0.8" />
<line x1="466.50" y1="468.20" x2="466.50" y2="464.20" stroke="#707070" stroke-width="0.8" />
<text x="34.80" y="477.20" font-family="Liberation Serif" font-size="7.6" text-anchor="middle" fill="#333" >0</text>
<text x="106.75" y="477.20" font-family="Liberation Serif" font-size="7.6" text-anchor="middle" fill="#333" >20</text>
<text x="178.70" y="477.20" font-family="Liberation Serif" font-size="7.6" text-anchor="middle" fill="#333" >40</text>
<text x="250.65" y="477.20" font-family="Liberation Serif" font-size="7.6" text-anchor="middle" fill="#333" >60</text>
<text x="322.60" y="477.20" font-family="Liberation Serif" font-size="7.6" text-anchor="middle" fill="#333" >80</text>
<text x="394.55" y="477.20" font-family="Liberation Serif" font-size="7.6" text-anchor="middle" fill="#333" >100</text>
<text x="466.50" y="477.20" font-family="Liberation Serif" font-size="7.6" text-anchor="middle" fill="#333" >120</text>
<line x1="34.50" y1="468.20" x2="38.70" y2="468.20" stroke="#707070" stroke-width="0.8" />
<text x="33.10" y="470.90" font-family="Liberation Serif" font-size="7.7" text-anchor="end" fill="#444" >0</text>
<line x1="34.50" y1="462.54" x2="38.70" y2="462.54" stroke="#707070" stroke-width="0.8" />
<text x="33.10" y="465.24" font-family="Liberation Serif" font-size="7.7" text-anchor="end" fill="#444" >2</text>
<line x1="34.50" y1="456.88" x2="38.70" y2="456.88" stroke="#707070" stroke-width="0.8" />
<text x="33.10" y="459.58" font-family="Liberation Serif" font-size="7.7" text-anchor="end" fill="#444" >4</text>
<line x1="34.50" y1="445.56" x2="38.70" y2="445.56" stroke="#707070" stroke-width="0.8" />
<text x="33.10" y="448.26" font-family="Liberation Serif" font-size="7.7" text-anchor="end" fill="#444" >8</text>
<line x1="34.50" y1="422.92" x2="38.70" y2="422.92" stroke="#707070" stroke-width="0.8" />
<text x="33.10" y="425.62" font-family="Liberation Serif" font-size="7.7" text-anchor="end" fill="#444" >16</text>
<line x1="34.50" y1="377.64" x2="38.70" y2="377.64" stroke="#707070" stroke-width="0.8" />
<text x="33.10" y="380.34" font-family="Liberation Serif" font-size="7.7" text-anchor="end" fill="#444" >32</text>
<circle cx="77.97" cy="377.64" r="2.55" fill="#FFE4C4" stroke="#FFBA50" stroke-width="0.85"/>
<circle cx="81.57" cy="377.64" r="2.55" fill="#FFE4C4" stroke="#FFBA50" stroke-width="0.85"/>
<circle cx="85.16" cy="377.64" r="2.55" fill="#FFE4C4" stroke="#FFBA50" stroke-width="0.85"/>
<circle cx="88.76" cy="377.64" r="2.55" fill="#FFE4C4" stroke="#FFBA50" stroke-width="0.85"/>
<circle cx="92.36" cy="377.64" r="2.55" fill="#FFE4C4" stroke="#FFBA50" stroke-width="0.85"/>
<circle cx="185.89" cy="422.92" r="2.55" fill="#FFE4C4" stroke="#FFBA50" stroke-width="0.85"/>
<circle cx="189.49" cy="422.92" r="2.55" fill="#FFE4C4" stroke="#FFBA50" stroke-width="0.85"/>
<circle cx="193.09" cy="422.92" r="2.55" fill="#FFE4C4" stroke="#FFBA50" stroke-width="0.85"/>
<circle cx="196.69" cy="422.92" r="2.55" fill="#FFE4C4" stroke="#FFBA50" stroke-width="0.85"/>
<circle cx="200.29" cy="422.92" r="2.55" fill="#FFE4C4" stroke="#FFBA50" stroke-width="0.85"/>
<circle cx="203.88" cy="422.92" r="2.55" fill="#FFE4C4" stroke="#FFBA50" stroke-width="0.85"/>
<circle cx="207.48" cy="422.92" r="2.55" fill="#FFE4C4" stroke="#FFBA50" stroke-width="0.85"/>
<circle cx="254.25" cy="445.56" r="2.55" fill="#FFE4C4" stroke="#FFBA50" stroke-width="0.85"/>
<circle cx="354.98" cy="462.54" r="2.55" fill="#FFE4C4" stroke="#FFBA50" stroke-width="0.85"/>
<circle cx="358.58" cy="462.54" r="2.55" fill="#FFE4C4" stroke="#FFBA50" stroke-width="0.85"/>
<circle cx="362.17" cy="462.54" r="2.55" fill="#FFE4C4" stroke="#FFBA50" stroke-width="0.85"/>
<circle cx="372.97" cy="462.54" r="2.55" fill="#FFE4C4" stroke="#FFBA50" stroke-width="0.85"/>
<circle cx="376.56" cy="462.54" r="2.55" fill="#FFE4C4" stroke="#FFBA50" stroke-width="0.85"/>
<circle cx="416.14" cy="462.54" r="2.55" fill="#FFE4C4" stroke="#FFBA50" stroke-width="0.85"/>
<circle cx="423.33" cy="462.54" r="2.55" fill="#FFE4C4" stroke="#FFBA50" stroke-width="0.85"/>
<circle cx="426.93" cy="462.54" r="2.55" fill="#FFE4C4" stroke="#FFBA50" stroke-width="0.85"/>
<circle cx="430.53" cy="462.54" r="2.55" fill="#FFE4C4" stroke="#FFBA50" stroke-width="0.85"/>
<circle cx="434.12" cy="462.54" r="2.55" fill="#FFE4C4" stroke="#FFBA50" stroke-width="0.85"/>
<circle cx="63.58" cy="465.37" r="2.55" fill="#F2BEBE" stroke="#C84A6E" stroke-width="0.85"/>
<circle cx="81.57" cy="445.56" r="2.55" fill="#F2BEBE" stroke="#C84A6E" stroke-width="0.85"/>
<circle cx="85.16" cy="465.37" r="2.55" fill="#F2BEBE" stroke="#C84A6E" stroke-width="0.85"/>
<circle cx="92.36" cy="445.56" r="2.55" fill="#F2BEBE" stroke="#C84A6E" stroke-width="0.85"/>
<circle cx="121.14" cy="445.56" r="2.55" fill="#F2BEBE" stroke="#C84A6E" stroke-width="0.85"/>
<circle cx="124.74" cy="445.56" r="2.55" fill="#F2BEBE" stroke="#C84A6E" stroke-width="0.85"/>
<circle cx="131.93" cy="445.56" r="2.55" fill="#F2BEBE" stroke="#C84A6E" stroke-width="0.85"/>
<circle cx="175.10" cy="445.56" r="2.55" fill="#F2BEBE" stroke="#C84A6E" stroke-width="0.85"/>
<circle cx="189.49" cy="400.28" r="2.55" fill="#F2BEBE" stroke="#C84A6E" stroke-width="0.85"/>
<circle cx="196.69" cy="400.28" r="2.55" fill="#F2BEBE" stroke="#C84A6E" stroke-width="0.85"/>
<circle cx="333.39" cy="445.56" r="2.55" fill="#F2BEBE" stroke="#C84A6E" stroke-width="0.85"/>
<circle cx="369.37" cy="465.37" r="2.55" fill="#F2BEBE" stroke="#C84A6E" stroke-width="0.85"/>
<circle cx="45.59" cy="465.37" r="2.55" fill="#A8BCF6" stroke="#5A96F2" stroke-width="0.85"/>
<circle cx="88.76" cy="465.37" r="2.55" fill="#A8BCF6" stroke="#5A96F2" stroke-width="0.85"/>
<circle cx="103.15" cy="465.37" r="2.55" fill="#A8BCF6" stroke="#5A96F2" stroke-width="0.85"/>
<circle cx="185.89" cy="400.28" r="2.55" fill="#A8BCF6" stroke="#5A96F2" stroke-width="0.85"/>
<circle cx="315.41" cy="445.56" r="2.55" fill="#A8BCF6" stroke="#5A96F2" stroke-width="0.85"/>
<circle cx="354.98" cy="459.71" r="2.55" fill="#A8BCF6" stroke="#5A96F2" stroke-width="0.85"/>
<circle cx="423.33" cy="459.71" r="2.55" fill="#A8BCF6" stroke="#5A96F2" stroke-width="0.85"/>
<text x="56.80" y="371.20" font-family="Liberation Sans" font-size="9.2" text-anchor="start" fill="#222" >g)</text>
<rect x="42.4" y="397.4" width="40.2" height="28.2" fill="#fff" stroke="#808080" stroke-width="0.9"/>
<circle cx="58.60" cy="403.00" r="2.55" fill="#F2BEBE" stroke="#C84A6E" stroke-width="0.85"/>
<circle cx="58.60" cy="411.70" r="2.55" fill="#A8BCF6" stroke="#5A96F2" stroke-width="0.85"/>
<circle cx="58.60" cy="420.40" r="2.55" fill="#FFE4C4" stroke="#FFBA50" stroke-width="0.85"/>
<text x="76.40" y="405.60" font-family="Liberation Serif" font-size="7.6" text-anchor="middle" fill="#111" >u</text>
<text x="76.40" y="414.20" font-family="Liberation Serif" font-size="7.6" text-anchor="middle" fill="#111" >v</text>
<text x="76.40" y="422.90" font-family="Liberation Serif" font-size="7.6" text-anchor="middle" fill="#111" >w</text>
<text transform="translate(22.8,411.4) rotate(-90)" font-family="Liberation Serif" font-size="8.3" text-anchor="middle" fill="#333">EPSI_FLAG</text>
<text x="250.60" y="485.80" font-family="Liberation Serif" font-size="8" text-anchor="middle" fill="#333" >Segment</text>
<rect x="256.1" y="357.3" width="203.4" height="41.5" fill="#fff" stroke="#707070" stroke-width="0.9"/>
<line x1="256.10" y1="398.80" x2="256.10" y2="396.30" stroke="#707070" stroke-width="0.7" />
<line x1="256.10" y1="357.30" x2="256.10" y2="359.80" stroke="#707070" stroke-width="0.7" />
<line x1="264.53" y1="398.80" x2="264.53" y2="397.30" stroke="#707070" stroke-width="0.7" />
<line x1="264.53" y1="357.30" x2="264.53" y2="358.80" stroke="#707070" stroke-width="0.7" />
<line x1="272.95" y1="398.80" x2="272.95" y2="397.30" stroke="#707070" stroke-width="0.7" />
<line x1="272.95" y1="357.30" x2="272.95" y2="358.80" stroke="#707070" stroke-width="0.7" />
<line x1="281.38" y1="398.80" x2="281.38" y2="397.30" stroke="#707070" stroke-width="0.7" />
<line x1="281.38" y1="357.30" x2="281.38" y2="358.80" stroke="#707070" stroke-width="0.7" />
<line x1="289.80" y1="398.80" x2="289.80" y2="396.30" stroke="#707070" stroke-width="0.7" />
<line x1="289.80" y1="357.30" x2="289.80" y2="359.80" stroke="#707070" stroke-width="0.7" />
<line x1="298.23" y1="398.80" x2="298.23" y2="397.30" stroke="#707070" stroke-width="0.7" />
<line x1="298.23" y1="357.30" x2="298.23" y2="358.80" stroke="#707070" stroke-width="0.7" />
<line x1="306.65" y1="398.80" x2="306.65" y2="397.30" stroke="#707070" stroke-width="0.7" />
<line x1="306.65" y1="357.30" x2="306.65" y2="358.80" stroke="#707070" stroke-width="0.7" />
<line x1="315.08" y1="398.80" x2="315.08" y2="397.30" stroke="#707070" stroke-width="0.7" />
<line x1="315.08" y1="357.30" x2="315.08" y2="358.80" stroke="#707070" stroke-width="0.7" />
<line x1="323.50" y1="398.80" x2="323.50" y2="396.30" stroke="#707070" stroke-width="0.7" />
<line x1="323.50" y1="357.30" x2="323.50" y2="359.80" stroke="#707070" stroke-width="0.7" />
<line x1="331.93" y1="398.80" x2="331.93" y2="397.30" stroke="#707070" stroke-width="0.7" />
<line x1="331.93" y1="357.30" x2="331.93" y2="358.80" stroke="#707070" stroke-width="0.7" />
<line x1="340.35" y1="398.80" x2="340.35" y2="397.30" stroke="#707070" stroke-width="0.7" />
<line x1="340.35" y1="357.30" x2="340.35" y2="358.80" stroke="#707070" stroke-width="0.7" />
<line x1="348.78" y1="398.80" x2="348.78" y2="397.30" stroke="#707070" stroke-width="0.7" />
<line x1="348.78" y1="357.30" x2="348.78" y2="358.80" stroke="#707070" stroke-width="0.7" />
<line x1="357.20" y1="398.80" x2="357.20" y2="396.30" stroke="#707070" stroke-width="0.7" />
<line x1="357.20" y1="357.30" x2="357.20" y2="359.80" stroke="#707070" stroke-width="0.7" />
<line x1="365.62" y1="398.80" x2="365.62" y2="397.30" stroke="#707070" stroke-width="0.7" />
<line x1="365.62" y1="357.30" x2="365.62" y2="358.80" stroke="#707070" stroke-width="0.7" />
<line x1="374.05" y1="398.80" x2="374.05" y2="397.30" stroke="#707070" stroke-width="0.7" />
<line x1="374.05" y1="357.30" x2="374.05" y2="358.80" stroke="#707070" stroke-width="0.7" />
<line x1="382.48" y1="398.80" x2="382.48" y2="397.30" stroke="#707070" stroke-width="0.7" />
<line x1="382.48" y1="357.30" x2="382.48" y2="358.80" stroke="#707070" stroke-width="0.7" />
<line x1="390.90" y1="398.80" x2="390.90" y2="396.30" stroke="#707070" stroke-width="0.7" />
<line x1="390.90" y1="357.30" x2="390.90" y2="359.80" stroke="#707070" stroke-width="0.7" />
<line x1="399.33" y1="398.80" x2="399.33" y2="397.30" stroke="#707070" stroke-width="0.7" />
<line x1="399.33" y1="357.30" x2="399.33" y2="358.80" stroke="#707070" stroke-width="0.7" />
<line x1="407.75" y1="398.80" x2="407.75" y2="397.30" stroke="#707070" stroke-width="0.7" />
<line x1="407.75" y1="357.30" x2="407.75" y2="358.80" stroke="#707070" stroke-width="0.7" />
<line x1="416.18" y1="398.80" x2="416.18" y2="397.30" stroke="#707070" stroke-width="0.7" />
<line x1="416.18" y1="357.30" x2="416.18" y2="358.80" stroke="#707070" stroke-width="0.7" />
<line x1="424.60" y1="398.80" x2="424.60" y2="396.30" stroke="#707070" stroke-width="0.7" />
<line x1="424.60" y1="357.30" x2="424.60" y2="359.80" stroke="#707070" stroke-width="0.7" />
<line x1="433.03" y1="398.80" x2="433.03" y2="397.30" stroke="#707070" stroke-width="0.7" />
<line x1="433.03" y1="357.30" x2="433.03" y2="358.80" stroke="#707070" stroke-width="0.7" />
<line x1="441.45" y1="398.80" x2="441.45" y2="397.30" stroke="#707070" stroke-width="0.7" />
<line x1="441.45" y1="357.30" x2="441.45" y2="358.80" stroke="#707070" stroke-width="0.7" />
<line x1="449.88" y1="398.80" x2="449.88" y2="397.30" stroke="#707070" stroke-width="0.7" />
<line x1="449.88" y1="357.30" x2="449.88" y2="358.80" stroke="#707070" stroke-width="0.7" />
<line x1="458.30" y1="398.80" x2="458.30" y2="396.30" stroke="#707070" stroke-width="0.7" />
<line x1="458.30" y1="357.30" x2="458.30" y2="359.80" stroke="#707070" stroke-width="0.7" />
<line x1="256.10" y1="382.50" x2="259.50" y2="382.50" stroke="#707070" stroke-width="0.7" />
<line x1="459.50" y1="382.50" x2="456.10" y2="382.50" stroke="#707070" stroke-width="0.7" />
<text x="252.40" y="385.00" font-family="Liberation Serif" font-size="7.0" text-anchor="end" fill="#333" >48</text>
<line x1="256.10" y1="366.19" x2="259.50" y2="366.19" stroke="#707070" stroke-width="0.7" />
<line x1="459.50" y1="366.19" x2="456.10" y2="366.19" stroke="#707070" stroke-width="0.7" />
<text x="252.40" y="368.69" font-family="Liberation Serif" font-size="7.0" text-anchor="end" fill="#333" >64</text>
<text x="256.10" y="408.40" font-family="Liberation Serif" font-size="7.2" text-anchor="middle" fill="#333" >0</text>
<text x="289.80" y="408.40" font-family="Liberation Serif" font-size="7.2" text-anchor="middle" fill="#333" >20</text>
<text x="323.50" y="408.40" font-family="Liberation Serif" font-size="7.2" text-anchor="middle" fill="#333" >40</text>
<text x="357.20" y="408.40" font-family="Liberation Serif" font-size="7.2" text-anchor="middle" fill="#333" >60</text>
<text x="390.90" y="408.40" font-family="Liberation Serif" font-size="7.2" text-anchor="middle" fill="#333" >80</text>
<text x="424.60" y="408.40" font-family="Liberation Serif" font-size="7.2" text-anchor="middle" fill="#333" >100</text>
<text x="458.30" y="408.40" font-family="Liberation Serif" font-size="7.2" text-anchor="middle" fill="#333" >120</text>
<circle cx="271.60" cy="363.64" r="2.4" fill="#FFE4C4" stroke="#FFBA50" stroke-width="0.85"/>
<circle cx="273.62" cy="363.64" r="2.4" fill="#FFE4C4" stroke="#FFBA50" stroke-width="0.85"/>
<circle cx="436.40" cy="363.64" r="2.4" fill="#FFE4C4" stroke="#FFBA50" stroke-width="0.85"/>
<circle cx="276.32" cy="398.29" r="2.4" fill="#FFE4C4" stroke="#FFBA50" stroke-width="0.85"/>
<circle cx="278.00" cy="398.29" r="2.4" fill="#FFE4C4" stroke="#FFBA50" stroke-width="0.85"/>
<circle cx="279.69" cy="398.29" r="2.4" fill="#FFE4C4" stroke="#FFBA50" stroke-width="0.85"/>
<circle cx="281.38" cy="398.29" r="2.4" fill="#FFE4C4" stroke="#FFBA50" stroke-width="0.85"/>
<circle cx="283.06" cy="398.29" r="2.4" fill="#FFE4C4" stroke="#FFBA50" stroke-width="0.85"/>
<circle cx="279.69" cy="388.61" r="2.4" fill="#A8BCF6" stroke="#5A96F2" stroke-width="0.85"/>
<text x="439.50" y="391.40" font-family="Liberation Sans" font-size="9.2" text-anchor="start" fill="#222" >h)</text>
</svg></body></html>
